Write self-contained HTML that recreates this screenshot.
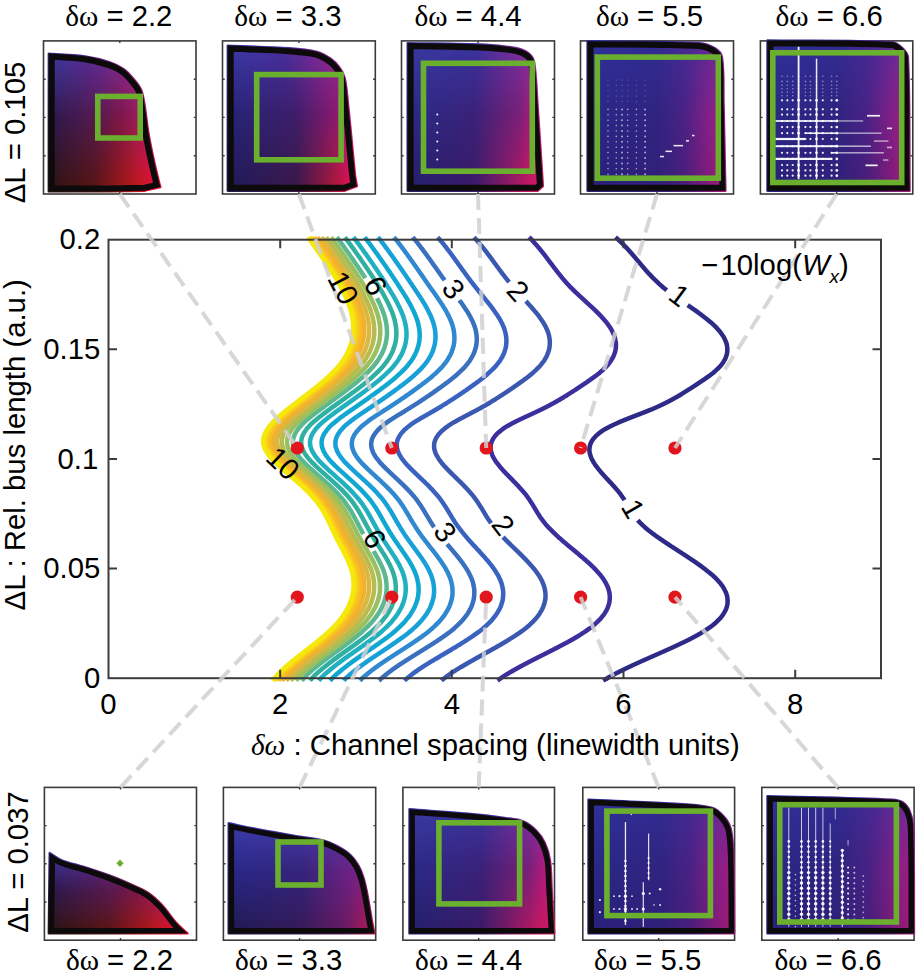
<!DOCTYPE html>
<html><head><meta charset="utf-8"><style>
html,body{margin:0;padding:0;background:#fff;width:916px;height:979px;overflow:hidden}
svg{display:block}
text{font-family:"Liberation Sans",sans-serif;font-size:29.3px;fill:#000}
</style></head><body>
<svg width="916" height="979" viewBox="0 0 916 979">
<defs><linearGradient id="g0top" gradientUnits="userSpaceOnUse" x1="48.7" y1="0" x2="160.5" y2="0"><stop offset="0.00" stop-color="#3a3aa0"/><stop offset="0.37" stop-color="#5a2c98"/><stop offset="0.73" stop-color="#8a2a9a"/><stop offset="1.00" stop-color="#9a2a9a"/></linearGradient><linearGradient id="g0mid" gradientUnits="userSpaceOnUse" x1="48.7" y1="0" x2="160.5" y2="0"><stop offset="0.00" stop-color="#2a1a50"/><stop offset="0.46" stop-color="#5a1a50"/><stop offset="0.63" stop-color="#7a1848"/><stop offset="0.82" stop-color="#a01a60"/><stop offset="1.00" stop-color="#c01a70"/></linearGradient><linearGradient id="g0bot" gradientUnits="userSpaceOnUse" x1="48.7" y1="0" x2="160.5" y2="0"><stop offset="0.00" stop-color="#2a1410"/><stop offset="0.42" stop-color="#5a1410"/><stop offset="0.78" stop-color="#c01818"/><stop offset="0.91" stop-color="#e01030"/><stop offset="1.00" stop-color="#e81030"/></linearGradient><linearGradient id="g0am" gradientUnits="userSpaceOnUse" x1="0" y1="53.5" x2="0" y2="191.5"><stop offset="0.450" stop-color="#fff"/><stop offset="1" stop-color="#000"/></linearGradient><linearGradient id="g0at" gradientUnits="userSpaceOnUse" x1="0" y1="53.5" x2="0" y2="191.5"><stop offset="0" stop-color="#fff"/><stop offset="0.450" stop-color="#000"/></linearGradient><mask id="g0mm" maskUnits="userSpaceOnUse" x="0" y="0" width="916" height="979"><rect x="45.7" y="50.5" width="117.8" height="144.0" fill="url(#g0am)"/></mask><mask id="g0mt" maskUnits="userSpaceOnUse" x="0" y="0" width="916" height="979"><rect x="45.7" y="50.5" width="117.8" height="144.0" fill="url(#g0at)"/></mask><clipPath id="c0"><path d="M48.7 53.5 C60.4 54.4 72.2 54.5 83.7 56.1 C92.6 57.4 101.4 59.4 109.9 62.2 C114.8 63.8 119.6 66.2 123.8 69.2 C127.8 72.0 131.1 75.9 134.3 79.7 C137.0 82.9 139.8 86.3 141.3 90.1 C143.3 95.0 143.9 100.6 144.8 105.9 C146.2 114.6 146.9 123.3 148.3 132.0 C149.8 140.8 151.6 149.6 153.5 158.3 C155.1 165.9 157.0 173.5 158.8 181.0 C159.3 183.1 159.9 185.1 160.5 187.1 L144.8 190.8 L109.9 191.5 L48.7 191.5Z"/></clipPath><mask id="fm0" maskUnits="userSpaceOnUse" x="0" y="0" width="916" height="979"><path d="M48.7 53.5 C60.4 54.4 72.2 54.5 83.7 56.1 C92.6 57.4 101.4 59.4 109.9 62.2 C114.8 63.8 119.6 66.2 123.8 69.2 C127.8 72.0 131.1 75.9 134.3 79.7 C137.0 82.9 139.8 86.3 141.3 90.1 C143.3 95.0 143.9 100.6 144.8 105.9 C146.2 114.6 146.9 123.3 148.3 132.0 C149.8 140.8 151.6 149.6 153.5 158.3 C155.1 165.9 157.0 173.5 158.8 181.0 C159.3 183.1 159.9 185.1 160.5 187.1 L144.8 190.8 L109.9 191.5 L48.7 191.5Z" fill="#fff" stroke="#fff" stroke-width="2.2" stroke-linejoin="round"/></mask><linearGradient id="g1top" gradientUnits="userSpaceOnUse" x1="227.7" y1="0" x2="357.0" y2="0"><stop offset="0.00" stop-color="#3a3aa8"/><stop offset="0.44" stop-color="#4a30a0"/><stop offset="0.78" stop-color="#8a2a9a"/><stop offset="1.00" stop-color="#9a2a9a"/></linearGradient><linearGradient id="g1mid" gradientUnits="userSpaceOnUse" x1="227.7" y1="0" x2="357.0" y2="0"><stop offset="0.00" stop-color="#262478"/><stop offset="0.53" stop-color="#3e1e6a"/><stop offset="0.84" stop-color="#8a1a70"/><stop offset="0.93" stop-color="#b01a80"/><stop offset="1.00" stop-color="#c01a80"/></linearGradient><linearGradient id="g1bot" gradientUnits="userSpaceOnUse" x1="227.7" y1="0" x2="357.0" y2="0"><stop offset="0.00" stop-color="#201a58"/><stop offset="0.53" stop-color="#3a1848"/><stop offset="0.84" stop-color="#b01838"/><stop offset="0.93" stop-color="#e01050"/><stop offset="1.00" stop-color="#e01050"/></linearGradient><linearGradient id="g1am" gradientUnits="userSpaceOnUse" x1="0" y1="45.6" x2="0" y2="190.8"><stop offset="0.470" stop-color="#fff"/><stop offset="1" stop-color="#000"/></linearGradient><linearGradient id="g1at" gradientUnits="userSpaceOnUse" x1="0" y1="45.6" x2="0" y2="190.8"><stop offset="0" stop-color="#fff"/><stop offset="0.470" stop-color="#000"/></linearGradient><mask id="g1mm" maskUnits="userSpaceOnUse" x="0" y="0" width="916" height="979"><rect x="224.7" y="42.6" width="135.3" height="151.2" fill="url(#g1am)"/></mask><mask id="g1mt" maskUnits="userSpaceOnUse" x="0" y="0" width="916" height="979"><rect x="224.7" y="42.6" width="135.3" height="151.2" fill="url(#g1at)"/></mask><clipPath id="c1"><path d="M227.7 45.6 C248.1 46.5 268.5 46.8 288.9 48.2 C298.2 48.8 307.8 49.5 316.8 51.7 C321.8 53.0 326.6 55.8 330.8 58.7 C334.1 61.0 337.1 64.1 339.5 67.4 C341.8 70.5 343.9 74.1 344.8 77.9 C346.9 87.0 347.3 96.6 348.3 105.9 C349.6 117.5 350.6 129.2 351.8 140.8 C352.9 152.4 353.9 164.1 355.2 175.7 C355.6 179.2 356.4 182.7 357.0 186.2 L344.8 190.8 L227.7 190.8Z"/></clipPath><mask id="fm1" maskUnits="userSpaceOnUse" x="0" y="0" width="916" height="979"><path d="M227.7 45.6 C248.1 46.5 268.5 46.8 288.9 48.2 C298.2 48.8 307.8 49.5 316.8 51.7 C321.8 53.0 326.6 55.8 330.8 58.7 C334.1 61.0 337.1 64.1 339.5 67.4 C341.8 70.5 343.9 74.1 344.8 77.9 C346.9 87.0 347.3 96.6 348.3 105.9 C349.6 117.5 350.6 129.2 351.8 140.8 C352.9 152.4 353.9 164.1 355.2 175.7 C355.6 179.2 356.4 182.7 357.0 186.2 L344.8 190.8 L227.7 190.8Z" fill="#fff" stroke="#fff" stroke-width="2.2" stroke-linejoin="round"/></mask><linearGradient id="g2top" gradientUnits="userSpaceOnUse" x1="407.6" y1="0" x2="543.0" y2="0"><stop offset="0.00" stop-color="#3a3aa0"/><stop offset="0.49" stop-color="#3a34a0"/><stop offset="0.83" stop-color="#7a30a0"/><stop offset="1.00" stop-color="#8a2ea0"/></linearGradient><linearGradient id="g2mid" gradientUnits="userSpaceOnUse" x1="407.6" y1="0" x2="543.0" y2="0"><stop offset="0.00" stop-color="#2a2a88"/><stop offset="0.49" stop-color="#3a2278"/><stop offset="0.83" stop-color="#7a2078"/><stop offset="0.93" stop-color="#b01a80"/><stop offset="1.00" stop-color="#c01a80"/></linearGradient><linearGradient id="g2bot" gradientUnits="userSpaceOnUse" x1="407.6" y1="0" x2="543.0" y2="0"><stop offset="0.00" stop-color="#24206a"/><stop offset="0.49" stop-color="#3a1a68"/><stop offset="0.88" stop-color="#c01860"/><stop offset="1.00" stop-color="#d81860"/></linearGradient><linearGradient id="g2am" gradientUnits="userSpaceOnUse" x1="0" y1="43.0" x2="0" y2="190.8"><stop offset="0.480" stop-color="#fff"/><stop offset="1" stop-color="#000"/></linearGradient><linearGradient id="g2at" gradientUnits="userSpaceOnUse" x1="0" y1="43.0" x2="0" y2="190.8"><stop offset="0" stop-color="#fff"/><stop offset="0.480" stop-color="#000"/></linearGradient><mask id="g2mm" maskUnits="userSpaceOnUse" x="0" y="0" width="916" height="979"><rect x="404.6" y="40.0" width="141.4" height="153.8" fill="url(#g2am)"/></mask><mask id="g2mt" maskUnits="userSpaceOnUse" x="0" y="0" width="916" height="979"><rect x="404.6" y="40.0" width="141.4" height="153.8" fill="url(#g2at)"/></mask><clipPath id="c2"><path d="M407.6 43.0 C433.5 43.6 459.4 43.5 485.3 44.7 C495.8 45.2 506.5 46.1 516.8 48.2 C521.1 49.1 525.7 50.9 529.0 53.5 C531.5 55.5 533.7 58.9 534.2 62.2 C536.6 76.4 536.6 91.3 537.7 105.9 C539.0 123.4 540.0 140.8 541.2 158.3 C541.8 167.6 542.4 176.9 543.0 186.2 L537.7 190.8 L407.6 190.8Z"/></clipPath><mask id="fm2" maskUnits="userSpaceOnUse" x="0" y="0" width="916" height="979"><path d="M407.6 43.0 C433.5 43.6 459.4 43.5 485.3 44.7 C495.8 45.2 506.5 46.1 516.8 48.2 C521.1 49.1 525.7 50.9 529.0 53.5 C531.5 55.5 533.7 58.9 534.2 62.2 C536.6 76.4 536.6 91.3 537.7 105.9 C539.0 123.4 540.0 140.8 541.2 158.3 C541.8 167.6 542.4 176.9 543.0 186.2 L537.7 190.8 L407.6 190.8Z" fill="#fff" stroke="#fff" stroke-width="2.2" stroke-linejoin="round"/></mask><linearGradient id="g3top" gradientUnits="userSpaceOnUse" x1="587.5" y1="0" x2="725.5" y2="0"><stop offset="0.00" stop-color="#30309a"/><stop offset="0.50" stop-color="#322c92"/><stop offset="0.75" stop-color="#4a2a94"/><stop offset="1.00" stop-color="#7a2a9a"/></linearGradient><linearGradient id="g3mid" gradientUnits="userSpaceOnUse" x1="587.5" y1="0" x2="725.5" y2="0"><stop offset="0.00" stop-color="#2a2888"/><stop offset="0.50" stop-color="#302480"/><stop offset="0.70" stop-color="#4a2284"/><stop offset="0.90" stop-color="#8a2088"/><stop offset="1.00" stop-color="#a01a80"/></linearGradient><linearGradient id="g3bot" gradientUnits="userSpaceOnUse" x1="587.5" y1="0" x2="725.5" y2="0"><stop offset="0.00" stop-color="#28207a"/><stop offset="0.50" stop-color="#30207a"/><stop offset="0.70" stop-color="#4a1e7a"/><stop offset="0.90" stop-color="#8a1a78"/><stop offset="1.00" stop-color="#a81a78"/></linearGradient><linearGradient id="g3am" gradientUnits="userSpaceOnUse" x1="0" y1="41.2" x2="0" y2="190.8"><stop offset="0.500" stop-color="#fff"/><stop offset="1" stop-color="#000"/></linearGradient><linearGradient id="g3at" gradientUnits="userSpaceOnUse" x1="0" y1="41.2" x2="0" y2="190.8"><stop offset="0" stop-color="#fff"/><stop offset="0.500" stop-color="#000"/></linearGradient><mask id="g3mm" maskUnits="userSpaceOnUse" x="0" y="0" width="916" height="979"><rect x="584.5" y="38.2" width="144.0" height="155.6" fill="url(#g3am)"/></mask><mask id="g3mt" maskUnits="userSpaceOnUse" x="0" y="0" width="916" height="979"><rect x="584.5" y="38.2" width="144.0" height="155.6" fill="url(#g3at)"/></mask><clipPath id="c3"><path d="M587.5 41.2 C624.8 41.8 662.3 41.0 699.3 43.0 C704.8 43.3 710.5 45.4 715.0 48.2 C718.1 50.1 721.5 53.4 722.0 57.0 C724.4 72.6 723.1 89.6 723.7 105.9 L725.5 190.8 L587.5 190.8Z"/></clipPath><mask id="fm3" maskUnits="userSpaceOnUse" x="0" y="0" width="916" height="979"><path d="M587.5 41.2 C624.8 41.8 662.3 41.0 699.3 43.0 C704.8 43.3 710.5 45.4 715.0 48.2 C718.1 50.1 721.5 53.4 722.0 57.0 C724.4 72.6 723.1 89.6 723.7 105.9 L725.5 190.8 L587.5 190.8Z" fill="#fff" stroke="#fff" stroke-width="2.2" stroke-linejoin="round"/></mask><linearGradient id="g4top" gradientUnits="userSpaceOnUse" x1="767.4" y1="0" x2="909.7" y2="0"><stop offset="0.00" stop-color="#30309a"/><stop offset="0.50" stop-color="#322c92"/><stop offset="0.75" stop-color="#4a2a94"/><stop offset="1.00" stop-color="#7a2a9a"/></linearGradient><linearGradient id="g4mid" gradientUnits="userSpaceOnUse" x1="767.4" y1="0" x2="909.7" y2="0"><stop offset="0.00" stop-color="#2a2888"/><stop offset="0.50" stop-color="#302480"/><stop offset="0.70" stop-color="#4a2284"/><stop offset="0.90" stop-color="#8a2088"/><stop offset="1.00" stop-color="#a01a80"/></linearGradient><linearGradient id="g4bot" gradientUnits="userSpaceOnUse" x1="767.4" y1="0" x2="909.7" y2="0"><stop offset="0.00" stop-color="#28207a"/><stop offset="0.50" stop-color="#30207a"/><stop offset="0.70" stop-color="#4a1e7a"/><stop offset="0.90" stop-color="#8a1a78"/><stop offset="1.00" stop-color="#a81a78"/></linearGradient><linearGradient id="g4am" gradientUnits="userSpaceOnUse" x1="0" y1="40.4" x2="0" y2="190.8"><stop offset="0.500" stop-color="#fff"/><stop offset="1" stop-color="#000"/></linearGradient><linearGradient id="g4at" gradientUnits="userSpaceOnUse" x1="0" y1="40.4" x2="0" y2="190.8"><stop offset="0" stop-color="#fff"/><stop offset="0.500" stop-color="#000"/></linearGradient><mask id="g4mm" maskUnits="userSpaceOnUse" x="0" y="0" width="916" height="979"><rect x="764.4" y="37.4" width="148.3" height="156.4" fill="url(#g4am)"/></mask><mask id="g4mt" maskUnits="userSpaceOnUse" x="0" y="0" width="916" height="979"><rect x="764.4" y="37.4" width="148.3" height="156.4" fill="url(#g4at)"/></mask><clipPath id="c4"><path d="M767.4 40.4 C809.0 41.0 851.1 39.7 892.2 42.1 C896.2 42.3 899.8 45.5 902.7 48.2 C905.1 50.5 907.8 53.6 908.0 57.0 C910.2 101.1 909.1 146.2 909.7 190.8 L767.4 190.8Z"/></clipPath><mask id="fm4" maskUnits="userSpaceOnUse" x="0" y="0" width="916" height="979"><path d="M767.4 40.4 C809.0 41.0 851.1 39.7 892.2 42.1 C896.2 42.3 899.8 45.5 902.7 48.2 C905.1 50.5 907.8 53.6 908.0 57.0 C910.2 101.1 909.1 146.2 909.7 190.8 L767.4 190.8Z" fill="#fff" stroke="#fff" stroke-width="2.2" stroke-linejoin="round"/></mask><linearGradient id="g5top" gradientUnits="userSpaceOnUse" x1="48.7" y1="0" x2="187.6" y2="0"><stop offset="0.00" stop-color="#3a3aa0"/><stop offset="0.37" stop-color="#5a2c98"/><stop offset="0.73" stop-color="#8a2a9a"/><stop offset="1.00" stop-color="#9a2a9a"/></linearGradient><linearGradient id="g5mid" gradientUnits="userSpaceOnUse" x1="48.7" y1="0" x2="187.6" y2="0"><stop offset="0.00" stop-color="#2a1a50"/><stop offset="0.46" stop-color="#5a1a50"/><stop offset="0.63" stop-color="#7a1848"/><stop offset="0.82" stop-color="#a01a60"/><stop offset="1.00" stop-color="#c01a70"/></linearGradient><linearGradient id="g5bot" gradientUnits="userSpaceOnUse" x1="48.7" y1="0" x2="187.6" y2="0"><stop offset="0.00" stop-color="#2a1410"/><stop offset="0.42" stop-color="#5a1410"/><stop offset="0.78" stop-color="#c01818"/><stop offset="0.91" stop-color="#e01030"/><stop offset="1.00" stop-color="#e81030"/></linearGradient><linearGradient id="g5am" gradientUnits="userSpaceOnUse" x1="0" y1="852.9" x2="0" y2="933.4"><stop offset="0.450" stop-color="#fff"/><stop offset="1" stop-color="#000"/></linearGradient><linearGradient id="g5at" gradientUnits="userSpaceOnUse" x1="0" y1="852.9" x2="0" y2="933.4"><stop offset="0" stop-color="#fff"/><stop offset="0.450" stop-color="#000"/></linearGradient><mask id="g5mm" maskUnits="userSpaceOnUse" x="0" y="0" width="916" height="979"><rect x="45.7" y="849.9" width="144.9" height="86.5" fill="url(#g5am)"/></mask><mask id="g5mt" maskUnits="userSpaceOnUse" x="0" y="0" width="916" height="979"><rect x="45.7" y="849.9" width="144.9" height="86.5" fill="url(#g5at)"/></mask><clipPath id="c5"><path d="M49.6 852.9 C53.4 855.2 56.9 858.2 61.0 859.9 C68.3 862.9 76.2 864.4 83.7 866.8 C92.5 869.6 101.3 872.4 109.9 875.6 C117.0 878.2 123.9 881.2 130.8 884.3 C136.7 887.0 142.9 889.4 148.3 893.0 C153.4 896.4 158.1 900.8 162.3 905.3 C167.4 910.7 171.2 917.2 176.2 922.7 C179.7 926.6 183.8 929.8 187.6 933.4 L48.7 933.4Z"/></clipPath><mask id="fm5" maskUnits="userSpaceOnUse" x="0" y="0" width="916" height="979"><path d="M49.6 852.9 C53.4 855.2 56.9 858.2 61.0 859.9 C68.3 862.9 76.2 864.4 83.7 866.8 C92.5 869.6 101.3 872.4 109.9 875.6 C117.0 878.2 123.9 881.2 130.8 884.3 C136.7 887.0 142.9 889.4 148.3 893.0 C153.4 896.4 158.1 900.8 162.3 905.3 C167.4 910.7 171.2 917.2 176.2 922.7 C179.7 926.6 183.8 929.8 187.6 933.4 L48.7 933.4Z" fill="#fff" stroke="#fff" stroke-width="2.2" stroke-linejoin="round"/></mask><linearGradient id="g6top" gradientUnits="userSpaceOnUse" x1="228.6" y1="0" x2="374.5" y2="0"><stop offset="0.00" stop-color="#3a3aa8"/><stop offset="0.60" stop-color="#4a3aa8"/><stop offset="1.00" stop-color="#6a30a0"/></linearGradient><linearGradient id="g6mid" gradientUnits="userSpaceOnUse" x1="228.6" y1="0" x2="374.5" y2="0"><stop offset="0.00" stop-color="#282888"/><stop offset="0.50" stop-color="#34247a"/><stop offset="1.00" stop-color="#8a2088"/></linearGradient><linearGradient id="g6bot" gradientUnits="userSpaceOnUse" x1="228.6" y1="0" x2="374.5" y2="0"><stop offset="0.00" stop-color="#1e1a50"/><stop offset="0.50" stop-color="#361a58"/><stop offset="0.80" stop-color="#6a1a60"/><stop offset="1.00" stop-color="#c01850"/></linearGradient><linearGradient id="g6am" gradientUnits="userSpaceOnUse" x1="0" y1="823.2" x2="0" y2="933.4"><stop offset="0.450" stop-color="#fff"/><stop offset="1" stop-color="#000"/></linearGradient><linearGradient id="g6at" gradientUnits="userSpaceOnUse" x1="0" y1="823.2" x2="0" y2="933.4"><stop offset="0" stop-color="#fff"/><stop offset="0.450" stop-color="#000"/></linearGradient><mask id="g6mm" maskUnits="userSpaceOnUse" x="0" y="0" width="916" height="979"><rect x="225.6" y="820.2" width="151.9" height="116.2" fill="url(#g6am)"/></mask><mask id="g6mt" maskUnits="userSpaceOnUse" x="0" y="0" width="916" height="979"><rect x="225.6" y="820.2" width="151.9" height="116.2" fill="url(#g6at)"/></mask><clipPath id="c6"><path d="M228.6 823.2 C237.0 824.9 245.4 826.8 253.9 828.4 C268.4 831.2 283.0 833.8 297.6 836.3 C306.3 837.8 315.3 838.4 323.8 840.6 C328.7 841.8 333.5 844.1 338.0 846.5 C342.4 848.9 346.9 851.6 350.5 855.0 C353.7 858.0 356.3 861.7 358.5 865.5 C360.7 869.2 362.2 873.4 363.5 877.5 C364.9 881.9 365.8 886.5 366.8 891.0 C367.8 896.0 368.6 901.0 369.5 906.0 C370.3 910.7 371.0 915.3 371.8 920.0 C372.6 924.5 373.6 928.9 374.5 933.4 L228.6 933.4Z"/></clipPath><mask id="fm6" maskUnits="userSpaceOnUse" x="0" y="0" width="916" height="979"><path d="M228.6 823.2 C237.0 824.9 245.4 826.8 253.9 828.4 C268.4 831.2 283.0 833.8 297.6 836.3 C306.3 837.8 315.3 838.4 323.8 840.6 C328.7 841.8 333.5 844.1 338.0 846.5 C342.4 848.9 346.9 851.6 350.5 855.0 C353.7 858.0 356.3 861.7 358.5 865.5 C360.7 869.2 362.2 873.4 363.5 877.5 C364.9 881.9 365.8 886.5 366.8 891.0 C367.8 896.0 368.6 901.0 369.5 906.0 C370.3 910.7 371.0 915.3 371.8 920.0 C372.6 924.5 373.6 928.9 374.5 933.4 L228.6 933.4Z" fill="#fff" stroke="#fff" stroke-width="2.2" stroke-linejoin="round"/></mask><linearGradient id="g7top" gradientUnits="userSpaceOnUse" x1="409.4" y1="0" x2="554.3" y2="0"><stop offset="0.00" stop-color="#3a3aa0"/><stop offset="0.49" stop-color="#3a34a0"/><stop offset="0.83" stop-color="#7a30a0"/><stop offset="1.00" stop-color="#8a2ea0"/></linearGradient><linearGradient id="g7mid" gradientUnits="userSpaceOnUse" x1="409.4" y1="0" x2="554.3" y2="0"><stop offset="0.00" stop-color="#2a2a88"/><stop offset="0.49" stop-color="#3a2278"/><stop offset="0.83" stop-color="#7a2078"/><stop offset="0.93" stop-color="#b01a80"/><stop offset="1.00" stop-color="#c01a80"/></linearGradient><linearGradient id="g7bot" gradientUnits="userSpaceOnUse" x1="409.4" y1="0" x2="554.3" y2="0"><stop offset="0.00" stop-color="#24206a"/><stop offset="0.49" stop-color="#3a1a68"/><stop offset="0.88" stop-color="#c01860"/><stop offset="1.00" stop-color="#d81860"/></linearGradient><linearGradient id="g7am" gradientUnits="userSpaceOnUse" x1="0" y1="809.2" x2="0" y2="933.4"><stop offset="0.480" stop-color="#fff"/><stop offset="1" stop-color="#000"/></linearGradient><linearGradient id="g7at" gradientUnits="userSpaceOnUse" x1="0" y1="809.2" x2="0" y2="933.4"><stop offset="0" stop-color="#fff"/><stop offset="0.480" stop-color="#000"/></linearGradient><mask id="g7mm" maskUnits="userSpaceOnUse" x="0" y="0" width="916" height="979"><rect x="406.4" y="806.2" width="150.9" height="130.2" fill="url(#g7am)"/></mask><mask id="g7mt" maskUnits="userSpaceOnUse" x="0" y="0" width="916" height="979"><rect x="406.4" y="806.2" width="150.9" height="130.2" fill="url(#g7at)"/></mask><clipPath id="c7"><path d="M409.4 809.2 C428.9 810.7 448.4 811.8 467.9 813.6 C480.7 814.8 493.5 816.2 506.3 818.0 C512.2 818.8 518.4 819.2 523.8 821.4 C528.3 823.3 532.5 826.7 536.0 830.2 C539.5 833.7 542.6 837.9 544.7 842.4 C547.3 847.8 549.1 853.9 550.0 859.9 C551.4 869.0 551.2 878.5 551.7 887.8 C552.6 903.0 553.4 918.2 554.3 933.4 L409.4 933.4Z"/></clipPath><mask id="fm7" maskUnits="userSpaceOnUse" x="0" y="0" width="916" height="979"><path d="M409.4 809.2 C428.9 810.7 448.4 811.8 467.9 813.6 C480.7 814.8 493.5 816.2 506.3 818.0 C512.2 818.8 518.4 819.2 523.8 821.4 C528.3 823.3 532.5 826.7 536.0 830.2 C539.5 833.7 542.6 837.9 544.7 842.4 C547.3 847.8 549.1 853.9 550.0 859.9 C551.4 869.0 551.2 878.5 551.7 887.8 C552.6 903.0 553.4 918.2 554.3 933.4 L409.4 933.4Z" fill="#fff" stroke="#fff" stroke-width="2.2" stroke-linejoin="round"/></mask><linearGradient id="g8top" gradientUnits="userSpaceOnUse" x1="588.4" y1="0" x2="734.2" y2="0"><stop offset="0.00" stop-color="#30309a"/><stop offset="0.50" stop-color="#322c92"/><stop offset="0.75" stop-color="#4a2a94"/><stop offset="1.00" stop-color="#7a2a9a"/></linearGradient><linearGradient id="g8mid" gradientUnits="userSpaceOnUse" x1="588.4" y1="0" x2="734.2" y2="0"><stop offset="0.00" stop-color="#2a2888"/><stop offset="0.50" stop-color="#302480"/><stop offset="0.70" stop-color="#4a2284"/><stop offset="0.90" stop-color="#8a2088"/><stop offset="1.00" stop-color="#a01a80"/></linearGradient><linearGradient id="g8bot" gradientUnits="userSpaceOnUse" x1="588.4" y1="0" x2="734.2" y2="0"><stop offset="0.00" stop-color="#28207a"/><stop offset="0.50" stop-color="#30207a"/><stop offset="0.70" stop-color="#4a1e7a"/><stop offset="0.90" stop-color="#8a1a78"/><stop offset="1.00" stop-color="#a81a78"/></linearGradient><linearGradient id="g8am" gradientUnits="userSpaceOnUse" x1="0" y1="799.6" x2="0" y2="933.4"><stop offset="0.500" stop-color="#fff"/><stop offset="1" stop-color="#000"/></linearGradient><linearGradient id="g8at" gradientUnits="userSpaceOnUse" x1="0" y1="799.6" x2="0" y2="933.4"><stop offset="0" stop-color="#fff"/><stop offset="0.500" stop-color="#000"/></linearGradient><mask id="g8mm" maskUnits="userSpaceOnUse" x="0" y="0" width="916" height="979"><rect x="585.4" y="796.6" width="151.8" height="139.8" fill="url(#g8am)"/></mask><mask id="g8mt" maskUnits="userSpaceOnUse" x="0" y="0" width="916" height="979"><rect x="585.4" y="796.6" width="151.8" height="139.8" fill="url(#g8at)"/></mask><clipPath id="c8"><path d="M588.4 799.6 C613.7 800.8 639.0 801.5 664.3 803.1 C680.1 804.1 696.5 804.2 711.5 807.5 C716.3 808.5 720.4 812.6 723.7 816.2 C726.8 819.6 729.5 824.0 730.7 828.4 C732.7 836.2 733.0 844.7 733.3 852.9 C734.2 879.7 733.9 906.6 734.2 933.4 L588.4 933.4Z"/></clipPath><mask id="fm8" maskUnits="userSpaceOnUse" x="0" y="0" width="916" height="979"><path d="M588.4 799.6 C613.7 800.8 639.0 801.5 664.3 803.1 C680.1 804.1 696.5 804.2 711.5 807.5 C716.3 808.5 720.4 812.6 723.7 816.2 C726.8 819.6 729.5 824.0 730.7 828.4 C732.7 836.2 733.0 844.7 733.3 852.9 C734.2 879.7 733.9 906.6 734.2 933.4 L588.4 933.4Z" fill="#fff" stroke="#fff" stroke-width="2.2" stroke-linejoin="round"/></mask><linearGradient id="g9top" gradientUnits="userSpaceOnUse" x1="767.4" y1="0" x2="914.1" y2="0"><stop offset="0.00" stop-color="#30309a"/><stop offset="0.50" stop-color="#322c92"/><stop offset="0.75" stop-color="#4a2a94"/><stop offset="1.00" stop-color="#7a2a9a"/></linearGradient><linearGradient id="g9mid" gradientUnits="userSpaceOnUse" x1="767.4" y1="0" x2="914.1" y2="0"><stop offset="0.00" stop-color="#2a2888"/><stop offset="0.50" stop-color="#302480"/><stop offset="0.70" stop-color="#4a2284"/><stop offset="0.90" stop-color="#8a2088"/><stop offset="1.00" stop-color="#a01a80"/></linearGradient><linearGradient id="g9bot" gradientUnits="userSpaceOnUse" x1="767.4" y1="0" x2="914.1" y2="0"><stop offset="0.00" stop-color="#28207a"/><stop offset="0.50" stop-color="#30207a"/><stop offset="0.70" stop-color="#4a1e7a"/><stop offset="0.90" stop-color="#8a1a78"/><stop offset="1.00" stop-color="#a81a78"/></linearGradient><linearGradient id="g9am" gradientUnits="userSpaceOnUse" x1="0" y1="796.1" x2="0" y2="933.4"><stop offset="0.500" stop-color="#fff"/><stop offset="1" stop-color="#000"/></linearGradient><linearGradient id="g9at" gradientUnits="userSpaceOnUse" x1="0" y1="796.1" x2="0" y2="933.4"><stop offset="0" stop-color="#fff"/><stop offset="0.500" stop-color="#000"/></linearGradient><mask id="g9mm" maskUnits="userSpaceOnUse" x="0" y="0" width="916" height="979"><rect x="764.4" y="793.1" width="152.7" height="143.3" fill="url(#g9am)"/></mask><mask id="g9mt" maskUnits="userSpaceOnUse" x="0" y="0" width="916" height="979"><rect x="764.4" y="793.1" width="152.7" height="143.3" fill="url(#g9at)"/></mask><clipPath id="c9"><path d="M767.4 796.1 C809.0 797.3 850.7 797.7 892.2 799.6 C895.8 799.8 899.8 800.3 902.7 802.2 C905.7 804.1 908.3 807.6 909.7 811.0 C911.8 815.8 913.0 821.4 913.2 826.7 C914.5 862.2 913.8 897.8 914.1 933.4 L767.4 933.4Z"/></clipPath><mask id="fm9" maskUnits="userSpaceOnUse" x="0" y="0" width="916" height="979"><path d="M767.4 796.1 C809.0 797.3 850.7 797.7 892.2 799.6 C895.8 799.8 899.8 800.3 902.7 802.2 C905.7 804.1 908.3 807.6 909.7 811.0 C911.8 815.8 913.0 821.4 913.2 826.7 C914.5 862.2 913.8 897.8 914.1 933.4 L767.4 933.4Z" fill="#fff" stroke="#fff" stroke-width="2.2" stroke-linejoin="round"/></mask></defs>
<g><rect x="43.5" y="40.9" width="152.5" height="153.1" fill="#fff" stroke="#3a3a3a" stroke-width="1.6"/><path d="M43.5 79.2h2.2M196.0 79.2h-2.2" stroke="#3a3a3a" stroke-width="1.4"/><path d="M43.5 117.4h2.2M196.0 117.4h-2.2" stroke="#3a3a3a" stroke-width="1.4"/><path d="M43.5 155.7h2.2M196.0 155.7h-2.2" stroke="#3a3a3a" stroke-width="1.4"/><path d="M119.8 40.9v2.2M119.8 194.0v-2.2" stroke="#3a3a3a" stroke-width="1.4"/><g mask="url(#fm0)"><rect x="45.7" y="50.5" width="117.8" height="144.0" fill="url(#g0bot)"/><rect x="45.7" y="50.5" width="117.8" height="144.0" fill="url(#g0mid)" mask="url(#g0mm)"/><rect x="45.7" y="50.5" width="117.8" height="144.0" fill="url(#g0top)" mask="url(#g0mt)"/></g><g clip-path="url(#c0)"><rect x="45.7" y="50.5" width="117.8" height="144.0" fill="url(#g0bot)"/><rect x="45.7" y="50.5" width="117.8" height="144.0" fill="url(#g0mid)" mask="url(#g0mm)"/><rect x="45.7" y="50.5" width="117.8" height="144.0" fill="url(#g0top)" mask="url(#g0mt)"/><path d="M48.7 53.5 C60.4 54.4 72.2 54.5 83.7 56.1 C92.6 57.4 101.4 59.4 109.9 62.2 C114.8 63.8 119.6 66.2 123.8 69.2 C127.8 72.0 131.1 75.9 134.3 79.7 C137.0 82.9 139.8 86.3 141.3 90.1 C143.3 95.0 143.9 100.6 144.8 105.9 C146.2 114.6 146.9 123.3 148.3 132.0 C149.8 140.8 151.6 149.6 153.5 158.3 C155.1 165.9 157.0 173.5 158.8 181.0 C159.3 183.1 159.9 185.1 160.5 187.1 L144.8 190.8 L109.9 191.5 L48.7 191.5Z" fill="none" stroke="#0c0a0a" stroke-width="12.0"/></g><rect x="97.8" y="96.4" width="42.4" height="41.6" fill="none" stroke="#6ab02e" stroke-width="5.6"/></g>
<g><rect x="222.5" y="40.9" width="152.8" height="153.1" fill="#fff" stroke="#3a3a3a" stroke-width="1.6"/><path d="M222.5 79.2h2.2M375.3 79.2h-2.2" stroke="#3a3a3a" stroke-width="1.4"/><path d="M222.5 117.4h2.2M375.3 117.4h-2.2" stroke="#3a3a3a" stroke-width="1.4"/><path d="M222.5 155.7h2.2M375.3 155.7h-2.2" stroke="#3a3a3a" stroke-width="1.4"/><path d="M298.9 40.9v2.2M298.9 194.0v-2.2" stroke="#3a3a3a" stroke-width="1.4"/><g mask="url(#fm1)"><rect x="224.7" y="42.6" width="135.3" height="151.2" fill="url(#g1bot)"/><rect x="224.7" y="42.6" width="135.3" height="151.2" fill="url(#g1mid)" mask="url(#g1mm)"/><rect x="224.7" y="42.6" width="135.3" height="151.2" fill="url(#g1top)" mask="url(#g1mt)"/></g><g clip-path="url(#c1)"><rect x="224.7" y="42.6" width="135.3" height="151.2" fill="url(#g1bot)"/><rect x="224.7" y="42.6" width="135.3" height="151.2" fill="url(#g1mid)" mask="url(#g1mm)"/><rect x="224.7" y="42.6" width="135.3" height="151.2" fill="url(#g1top)" mask="url(#g1mt)"/><path d="M227.7 45.6 C248.1 46.5 268.5 46.8 288.9 48.2 C298.2 48.8 307.8 49.5 316.8 51.7 C321.8 53.0 326.6 55.8 330.8 58.7 C334.1 61.0 337.1 64.1 339.5 67.4 C341.8 70.5 343.9 74.1 344.8 77.9 C346.9 87.0 347.3 96.6 348.3 105.9 C349.6 117.5 350.6 129.2 351.8 140.8 C352.9 152.4 353.9 164.1 355.2 175.7 C355.6 179.2 356.4 182.7 357.0 186.2 L344.8 190.8 L227.7 190.8Z" fill="none" stroke="#0c0a0a" stroke-width="12.0"/></g><rect x="256.7" y="74.6" width="84.4" height="85.2" fill="none" stroke="#6ab02e" stroke-width="5.6"/></g>
<g><rect x="401.5" y="40.9" width="153.0" height="153.1" fill="#fff" stroke="#3a3a3a" stroke-width="1.6"/><path d="M401.5 79.2h2.2M554.5 79.2h-2.2" stroke="#3a3a3a" stroke-width="1.4"/><path d="M401.5 117.4h2.2M554.5 117.4h-2.2" stroke="#3a3a3a" stroke-width="1.4"/><path d="M401.5 155.7h2.2M554.5 155.7h-2.2" stroke="#3a3a3a" stroke-width="1.4"/><path d="M478.0 40.9v2.2M478.0 194.0v-2.2" stroke="#3a3a3a" stroke-width="1.4"/><g mask="url(#fm2)"><rect x="404.6" y="40.0" width="141.4" height="153.8" fill="url(#g2bot)"/><rect x="404.6" y="40.0" width="141.4" height="153.8" fill="url(#g2mid)" mask="url(#g2mm)"/><rect x="404.6" y="40.0" width="141.4" height="153.8" fill="url(#g2top)" mask="url(#g2mt)"/></g><g clip-path="url(#c2)"><rect x="404.6" y="40.0" width="141.4" height="153.8" fill="url(#g2bot)"/><rect x="404.6" y="40.0" width="141.4" height="153.8" fill="url(#g2mid)" mask="url(#g2mm)"/><rect x="404.6" y="40.0" width="141.4" height="153.8" fill="url(#g2top)" mask="url(#g2mt)"/><circle cx="437.3" cy="114.6" r="1.0" fill="#fff" opacity="1.00"/><circle cx="437.3" cy="123.6" r="1.0" fill="#fff" opacity="1.00"/><circle cx="437.3" cy="132.6" r="1.0" fill="#fff" opacity="1.00"/><circle cx="437.3" cy="141.6" r="1.0" fill="#fff" opacity="1.00"/><circle cx="437.3" cy="150.6" r="1.0" fill="#fff" opacity="1.00"/><circle cx="437.3" cy="159.6" r="1.0" fill="#fff" opacity="1.00"/><path d="M407.6 43.0 C433.5 43.6 459.4 43.5 485.3 44.7 C495.8 45.2 506.5 46.1 516.8 48.2 C521.1 49.1 525.7 50.9 529.0 53.5 C531.5 55.5 533.7 58.9 534.2 62.2 C536.6 76.4 536.6 91.3 537.7 105.9 C539.0 123.4 540.0 140.8 541.2 158.3 C541.8 167.6 542.4 176.9 543.0 186.2 L537.7 190.8 L407.6 190.8Z" fill="none" stroke="#0c0a0a" stroke-width="12.0"/></g><rect x="423.5" y="63.3" width="108.8" height="107.9" fill="none" stroke="#6ab02e" stroke-width="5.6"/></g>
<g><rect x="580.5" y="40.9" width="153.0" height="153.1" fill="#fff" stroke="#3a3a3a" stroke-width="1.6"/><path d="M580.5 79.2h2.2M733.5 79.2h-2.2" stroke="#3a3a3a" stroke-width="1.4"/><path d="M580.5 117.4h2.2M733.5 117.4h-2.2" stroke="#3a3a3a" stroke-width="1.4"/><path d="M580.5 155.7h2.2M733.5 155.7h-2.2" stroke="#3a3a3a" stroke-width="1.4"/><path d="M657.0 40.9v2.2M657.0 194.0v-2.2" stroke="#3a3a3a" stroke-width="1.4"/><g mask="url(#fm3)"><rect x="584.5" y="38.2" width="144.0" height="155.6" fill="url(#g3bot)"/><rect x="584.5" y="38.2" width="144.0" height="155.6" fill="url(#g3mid)" mask="url(#g3mm)"/><rect x="584.5" y="38.2" width="144.0" height="155.6" fill="url(#g3top)" mask="url(#g3mt)"/></g><g clip-path="url(#c3)"><rect x="584.5" y="38.2" width="144.0" height="155.6" fill="url(#g3bot)"/><rect x="584.5" y="38.2" width="144.0" height="155.6" fill="url(#g3mid)" mask="url(#g3mm)"/><rect x="584.5" y="38.2" width="144.0" height="155.6" fill="url(#g3top)" mask="url(#g3mt)"/><circle cx="608.0" cy="109.4" r="0.8" fill="#fff" opacity="0.60"/><circle cx="608.0" cy="114.8" r="0.8" fill="#fff" opacity="0.60"/><circle cx="608.0" cy="120.2" r="0.8" fill="#fff" opacity="0.60"/><circle cx="608.0" cy="125.6" r="0.8" fill="#fff" opacity="0.60"/><circle cx="608.0" cy="131.0" r="0.8" fill="#fff" opacity="0.60"/><circle cx="608.0" cy="136.4" r="0.8" fill="#fff" opacity="0.60"/><circle cx="608.0" cy="141.8" r="0.8" fill="#fff" opacity="0.60"/><circle cx="608.0" cy="147.2" r="0.8" fill="#fff" opacity="0.60"/><circle cx="608.0" cy="152.6" r="0.8" fill="#fff" opacity="0.60"/><circle cx="608.0" cy="158.0" r="0.8" fill="#fff" opacity="0.60"/><circle cx="608.0" cy="163.4" r="0.8" fill="#fff" opacity="0.60"/><circle cx="608.0" cy="168.8" r="0.8" fill="#fff" opacity="0.60"/><circle cx="608.0" cy="174.2" r="0.8" fill="#fff" opacity="0.60"/><circle cx="608.0" cy="80.0" r="0.6" fill="#fff" opacity="0.30"/><circle cx="608.0" cy="85.4" r="0.6" fill="#fff" opacity="0.30"/><circle cx="608.0" cy="90.8" r="0.6" fill="#fff" opacity="0.30"/><circle cx="608.0" cy="96.2" r="0.6" fill="#fff" opacity="0.30"/><circle cx="608.0" cy="101.6" r="0.6" fill="#fff" opacity="0.30"/><circle cx="616.3" cy="109.4" r="0.8" fill="#fff" opacity="0.60"/><circle cx="616.3" cy="114.8" r="0.8" fill="#fff" opacity="0.60"/><circle cx="616.3" cy="120.2" r="0.8" fill="#fff" opacity="0.60"/><circle cx="616.3" cy="125.6" r="0.8" fill="#fff" opacity="0.60"/><circle cx="616.3" cy="131.0" r="0.8" fill="#fff" opacity="0.60"/><circle cx="616.3" cy="136.4" r="0.8" fill="#fff" opacity="0.60"/><circle cx="616.3" cy="141.8" r="0.8" fill="#fff" opacity="0.60"/><circle cx="616.3" cy="147.2" r="0.8" fill="#fff" opacity="0.60"/><circle cx="616.3" cy="152.6" r="0.8" fill="#fff" opacity="0.60"/><circle cx="616.3" cy="158.0" r="0.8" fill="#fff" opacity="0.60"/><circle cx="616.3" cy="163.4" r="0.8" fill="#fff" opacity="0.60"/><circle cx="616.3" cy="168.8" r="0.8" fill="#fff" opacity="0.60"/><circle cx="616.3" cy="174.2" r="0.8" fill="#fff" opacity="0.60"/><circle cx="616.3" cy="80.0" r="0.6" fill="#fff" opacity="0.30"/><circle cx="616.3" cy="85.4" r="0.6" fill="#fff" opacity="0.30"/><circle cx="616.3" cy="90.8" r="0.6" fill="#fff" opacity="0.30"/><circle cx="616.3" cy="96.2" r="0.6" fill="#fff" opacity="0.30"/><circle cx="616.3" cy="101.6" r="0.6" fill="#fff" opacity="0.30"/><circle cx="622.0" cy="109.4" r="1.0" fill="#fff" opacity="0.60"/><circle cx="622.0" cy="114.8" r="1.0" fill="#fff" opacity="0.60"/><circle cx="622.0" cy="120.2" r="1.0" fill="#fff" opacity="0.60"/><circle cx="622.0" cy="125.6" r="1.0" fill="#fff" opacity="0.60"/><circle cx="622.0" cy="131.0" r="1.0" fill="#fff" opacity="0.60"/><circle cx="622.0" cy="136.4" r="1.0" fill="#fff" opacity="0.60"/><circle cx="622.0" cy="141.8" r="1.0" fill="#fff" opacity="0.60"/><circle cx="622.0" cy="147.2" r="1.0" fill="#fff" opacity="0.60"/><circle cx="622.0" cy="152.6" r="1.0" fill="#fff" opacity="0.60"/><circle cx="622.0" cy="158.0" r="1.0" fill="#fff" opacity="0.60"/><circle cx="622.0" cy="163.4" r="1.0" fill="#fff" opacity="0.60"/><circle cx="622.0" cy="168.8" r="1.0" fill="#fff" opacity="0.60"/><circle cx="622.0" cy="174.2" r="1.0" fill="#fff" opacity="0.60"/><circle cx="622.0" cy="80.0" r="0.6" fill="#fff" opacity="0.30"/><circle cx="622.0" cy="85.4" r="0.6" fill="#fff" opacity="0.30"/><circle cx="622.0" cy="90.8" r="0.6" fill="#fff" opacity="0.30"/><circle cx="622.0" cy="96.2" r="0.6" fill="#fff" opacity="0.30"/><circle cx="622.0" cy="101.6" r="0.6" fill="#fff" opacity="0.30"/><circle cx="627.7" cy="109.4" r="0.8" fill="#fff" opacity="0.60"/><circle cx="627.7" cy="114.8" r="0.8" fill="#fff" opacity="0.60"/><circle cx="627.7" cy="120.2" r="0.8" fill="#fff" opacity="0.60"/><circle cx="627.7" cy="125.6" r="0.8" fill="#fff" opacity="0.60"/><circle cx="627.7" cy="131.0" r="0.8" fill="#fff" opacity="0.60"/><circle cx="627.7" cy="136.4" r="0.8" fill="#fff" opacity="0.60"/><circle cx="627.7" cy="141.8" r="0.8" fill="#fff" opacity="0.60"/><circle cx="627.7" cy="147.2" r="0.8" fill="#fff" opacity="0.60"/><circle cx="627.7" cy="152.6" r="0.8" fill="#fff" opacity="0.60"/><circle cx="627.7" cy="158.0" r="0.8" fill="#fff" opacity="0.60"/><circle cx="627.7" cy="163.4" r="0.8" fill="#fff" opacity="0.60"/><circle cx="627.7" cy="168.8" r="0.8" fill="#fff" opacity="0.60"/><circle cx="627.7" cy="174.2" r="0.8" fill="#fff" opacity="0.60"/><circle cx="627.7" cy="80.0" r="0.6" fill="#fff" opacity="0.30"/><circle cx="627.7" cy="85.4" r="0.6" fill="#fff" opacity="0.30"/><circle cx="627.7" cy="90.8" r="0.6" fill="#fff" opacity="0.30"/><circle cx="627.7" cy="96.2" r="0.6" fill="#fff" opacity="0.30"/><circle cx="627.7" cy="101.6" r="0.6" fill="#fff" opacity="0.30"/><circle cx="636.4" cy="109.4" r="0.8" fill="#fff" opacity="0.60"/><circle cx="636.4" cy="114.8" r="0.8" fill="#fff" opacity="0.60"/><circle cx="636.4" cy="120.2" r="0.8" fill="#fff" opacity="0.60"/><circle cx="636.4" cy="125.6" r="0.8" fill="#fff" opacity="0.60"/><circle cx="636.4" cy="131.0" r="0.8" fill="#fff" opacity="0.60"/><circle cx="636.4" cy="136.4" r="0.8" fill="#fff" opacity="0.60"/><circle cx="636.4" cy="141.8" r="0.8" fill="#fff" opacity="0.60"/><circle cx="636.4" cy="147.2" r="0.8" fill="#fff" opacity="0.60"/><circle cx="636.4" cy="152.6" r="0.8" fill="#fff" opacity="0.60"/><circle cx="636.4" cy="158.0" r="0.8" fill="#fff" opacity="0.60"/><circle cx="636.4" cy="163.4" r="0.8" fill="#fff" opacity="0.60"/><circle cx="636.4" cy="168.8" r="0.8" fill="#fff" opacity="0.60"/><circle cx="636.4" cy="174.2" r="0.8" fill="#fff" opacity="0.60"/><circle cx="636.4" cy="80.0" r="0.6" fill="#fff" opacity="0.30"/><circle cx="636.4" cy="85.4" r="0.6" fill="#fff" opacity="0.30"/><circle cx="636.4" cy="90.8" r="0.6" fill="#fff" opacity="0.30"/><circle cx="636.4" cy="96.2" r="0.6" fill="#fff" opacity="0.30"/><circle cx="636.4" cy="101.6" r="0.6" fill="#fff" opacity="0.30"/><circle cx="645.1" cy="109.4" r="1.0" fill="#fff" opacity="0.60"/><circle cx="645.1" cy="114.8" r="1.0" fill="#fff" opacity="0.60"/><circle cx="645.1" cy="120.2" r="1.0" fill="#fff" opacity="0.60"/><circle cx="645.1" cy="125.6" r="1.0" fill="#fff" opacity="0.60"/><circle cx="645.1" cy="131.0" r="1.0" fill="#fff" opacity="0.60"/><circle cx="645.1" cy="136.4" r="1.0" fill="#fff" opacity="0.60"/><circle cx="645.1" cy="141.8" r="1.0" fill="#fff" opacity="0.60"/><circle cx="645.1" cy="147.2" r="1.0" fill="#fff" opacity="0.60"/><circle cx="645.1" cy="152.6" r="1.0" fill="#fff" opacity="0.60"/><circle cx="645.1" cy="158.0" r="1.0" fill="#fff" opacity="0.60"/><circle cx="645.1" cy="163.4" r="1.0" fill="#fff" opacity="0.60"/><circle cx="645.1" cy="168.8" r="1.0" fill="#fff" opacity="0.60"/><circle cx="645.1" cy="174.2" r="1.0" fill="#fff" opacity="0.60"/><circle cx="645.1" cy="80.0" r="0.6" fill="#fff" opacity="0.30"/><circle cx="645.1" cy="85.4" r="0.6" fill="#fff" opacity="0.30"/><circle cx="645.1" cy="90.8" r="0.6" fill="#fff" opacity="0.30"/><circle cx="645.1" cy="96.2" r="0.6" fill="#fff" opacity="0.30"/><circle cx="645.1" cy="101.6" r="0.6" fill="#fff" opacity="0.30"/><rect x="660.0" y="155.8" width="4.0" height="1.5" fill="#fff" opacity="0.90"/><rect x="665.5" y="150.6" width="6.5" height="1.5" fill="#fff" opacity="0.90"/><rect x="673.5" y="144.9" width="9.5" height="1.5" fill="#fff" opacity="0.90"/><rect x="686.0" y="140.1" width="3.0" height="1.5" fill="#fff" opacity="0.90"/><rect x="692.0" y="134.8" width="2.5" height="1.5" fill="#fff" opacity="0.90"/><path d="M587.5 41.2 C624.8 41.8 662.3 41.0 699.3 43.0 C704.8 43.3 710.5 45.4 715.0 48.2 C718.1 50.1 721.5 53.4 722.0 57.0 C724.4 72.6 723.1 89.6 723.7 105.9 L725.5 190.8 L587.5 190.8Z" fill="none" stroke="#0c0a0a" stroke-width="12.0"/></g><rect x="597.3" y="57.1" width="121.0" height="121.1" fill="none" stroke="#6ab02e" stroke-width="5.6"/></g>
<g><rect x="760.4" y="40.9" width="152.4" height="153.1" fill="#fff" stroke="#3a3a3a" stroke-width="1.6"/><path d="M760.4 79.2h2.2M912.8 79.2h-2.2" stroke="#3a3a3a" stroke-width="1.4"/><path d="M760.4 117.4h2.2M912.8 117.4h-2.2" stroke="#3a3a3a" stroke-width="1.4"/><path d="M760.4 155.7h2.2M912.8 155.7h-2.2" stroke="#3a3a3a" stroke-width="1.4"/><path d="M836.6 40.9v2.2M836.6 194.0v-2.2" stroke="#3a3a3a" stroke-width="1.4"/><g mask="url(#fm4)"><rect x="764.4" y="37.4" width="148.3" height="156.4" fill="url(#g4bot)"/><rect x="764.4" y="37.4" width="148.3" height="156.4" fill="url(#g4mid)" mask="url(#g4mm)"/><rect x="764.4" y="37.4" width="148.3" height="156.4" fill="url(#g4top)" mask="url(#g4mt)"/></g><g clip-path="url(#c4)"><rect x="764.4" y="37.4" width="148.3" height="156.4" fill="url(#g4bot)"/><rect x="764.4" y="37.4" width="148.3" height="156.4" fill="url(#g4mid)" mask="url(#g4mm)"/><rect x="764.4" y="37.4" width="148.3" height="156.4" fill="url(#g4top)" mask="url(#g4mt)"/><rect x="797.7" y="46.5" width="1.8" height="132.7" fill="#fff" opacity="0.95"/><rect x="815.8" y="58.7" width="1.5" height="120.5" fill="#fff" opacity="0.90"/><circle cx="782.0" cy="76.2" r="0.8" fill="#fff" opacity="0.45"/><circle cx="782.0" cy="81.4" r="0.8" fill="#fff" opacity="0.45"/><circle cx="782.0" cy="85.3" r="0.8" fill="#fff" opacity="0.45"/><circle cx="782.0" cy="88.8" r="0.8" fill="#fff" opacity="0.45"/><circle cx="782.0" cy="92.3" r="0.8" fill="#fff" opacity="0.45"/><circle cx="782.0" cy="95.8" r="0.8" fill="#fff" opacity="0.45"/><circle cx="782.0" cy="100.3" r="1.1" fill="#fff" opacity="0.95"/><circle cx="782.0" cy="109.3" r="1.1" fill="#fff" opacity="0.95"/><circle cx="782.0" cy="114.6" r="1.1" fill="#fff" opacity="0.95"/><circle cx="782.0" cy="121.0" r="1.1" fill="#fff" opacity="0.95"/><circle cx="782.0" cy="127.1" r="1.1" fill="#fff" opacity="0.95"/><circle cx="782.0" cy="133.2" r="1.1" fill="#fff" opacity="0.95"/><circle cx="782.0" cy="139.0" r="1.1" fill="#fff" opacity="0.95"/><circle cx="782.0" cy="146.2" r="1.1" fill="#fff" opacity="0.95"/><circle cx="782.0" cy="152.8" r="1.1" fill="#fff" opacity="0.95"/><circle cx="782.0" cy="158.9" r="1.1" fill="#fff" opacity="0.95"/><circle cx="782.0" cy="165.0" r="1.1" fill="#fff" opacity="0.95"/><circle cx="782.0" cy="170.4" r="1.1" fill="#fff" opacity="0.95"/><circle cx="782.0" cy="175.7" r="1.1" fill="#fff" opacity="0.95"/><circle cx="787.3" cy="76.2" r="0.8" fill="#fff" opacity="0.45"/><circle cx="787.3" cy="81.4" r="0.8" fill="#fff" opacity="0.45"/><circle cx="787.3" cy="85.3" r="0.8" fill="#fff" opacity="0.45"/><circle cx="787.3" cy="88.8" r="0.8" fill="#fff" opacity="0.45"/><circle cx="787.3" cy="92.3" r="0.8" fill="#fff" opacity="0.45"/><circle cx="787.3" cy="95.8" r="0.8" fill="#fff" opacity="0.45"/><circle cx="787.3" cy="100.3" r="1.1" fill="#fff" opacity="0.95"/><circle cx="787.3" cy="109.3" r="1.1" fill="#fff" opacity="0.95"/><circle cx="787.3" cy="114.6" r="1.1" fill="#fff" opacity="0.95"/><circle cx="787.3" cy="121.0" r="1.1" fill="#fff" opacity="0.95"/><circle cx="787.3" cy="127.1" r="1.1" fill="#fff" opacity="0.95"/><circle cx="787.3" cy="133.2" r="1.1" fill="#fff" opacity="0.95"/><circle cx="787.3" cy="139.0" r="1.1" fill="#fff" opacity="0.95"/><circle cx="787.3" cy="146.2" r="1.1" fill="#fff" opacity="0.95"/><circle cx="787.3" cy="152.8" r="1.1" fill="#fff" opacity="0.95"/><circle cx="787.3" cy="158.9" r="1.1" fill="#fff" opacity="0.95"/><circle cx="787.3" cy="165.0" r="1.1" fill="#fff" opacity="0.95"/><circle cx="787.3" cy="170.4" r="1.1" fill="#fff" opacity="0.95"/><circle cx="787.3" cy="175.7" r="1.1" fill="#fff" opacity="0.95"/><circle cx="792.7" cy="76.2" r="0.8" fill="#fff" opacity="0.45"/><circle cx="792.7" cy="81.4" r="0.8" fill="#fff" opacity="0.45"/><circle cx="792.7" cy="85.3" r="0.8" fill="#fff" opacity="0.45"/><circle cx="792.7" cy="88.8" r="0.8" fill="#fff" opacity="0.45"/><circle cx="792.7" cy="92.3" r="0.8" fill="#fff" opacity="0.45"/><circle cx="792.7" cy="95.8" r="0.8" fill="#fff" opacity="0.45"/><circle cx="792.7" cy="100.3" r="1.1" fill="#fff" opacity="0.95"/><circle cx="792.7" cy="109.3" r="1.1" fill="#fff" opacity="0.95"/><circle cx="792.7" cy="114.6" r="1.1" fill="#fff" opacity="0.95"/><circle cx="792.7" cy="121.0" r="1.1" fill="#fff" opacity="0.95"/><circle cx="792.7" cy="127.1" r="1.1" fill="#fff" opacity="0.95"/><circle cx="792.7" cy="133.2" r="1.1" fill="#fff" opacity="0.95"/><circle cx="792.7" cy="139.0" r="1.1" fill="#fff" opacity="0.95"/><circle cx="792.7" cy="146.2" r="1.1" fill="#fff" opacity="0.95"/><circle cx="792.7" cy="152.8" r="1.1" fill="#fff" opacity="0.95"/><circle cx="792.7" cy="158.9" r="1.1" fill="#fff" opacity="0.95"/><circle cx="792.7" cy="165.0" r="1.1" fill="#fff" opacity="0.95"/><circle cx="792.7" cy="170.4" r="1.1" fill="#fff" opacity="0.95"/><circle cx="792.7" cy="175.7" r="1.1" fill="#fff" opacity="0.95"/><circle cx="798.6" cy="76.2" r="0.8" fill="#fff" opacity="0.45"/><circle cx="798.6" cy="81.4" r="0.8" fill="#fff" opacity="0.45"/><circle cx="798.6" cy="85.3" r="0.8" fill="#fff" opacity="0.45"/><circle cx="798.6" cy="88.8" r="0.8" fill="#fff" opacity="0.45"/><circle cx="798.6" cy="92.3" r="0.8" fill="#fff" opacity="0.45"/><circle cx="798.6" cy="95.8" r="0.8" fill="#fff" opacity="0.45"/><circle cx="798.6" cy="100.3" r="1.4" fill="#fff" opacity="0.95"/><circle cx="798.6" cy="109.3" r="1.4" fill="#fff" opacity="0.95"/><circle cx="798.6" cy="114.6" r="1.4" fill="#fff" opacity="0.95"/><circle cx="798.6" cy="121.0" r="1.4" fill="#fff" opacity="0.95"/><circle cx="798.6" cy="127.1" r="1.4" fill="#fff" opacity="0.95"/><circle cx="798.6" cy="133.2" r="1.4" fill="#fff" opacity="0.95"/><circle cx="798.6" cy="139.0" r="1.4" fill="#fff" opacity="0.95"/><circle cx="798.6" cy="146.2" r="1.4" fill="#fff" opacity="0.95"/><circle cx="798.6" cy="152.8" r="1.4" fill="#fff" opacity="0.95"/><circle cx="798.6" cy="158.9" r="1.4" fill="#fff" opacity="0.95"/><circle cx="798.6" cy="165.0" r="1.4" fill="#fff" opacity="0.95"/><circle cx="798.6" cy="170.4" r="1.4" fill="#fff" opacity="0.95"/><circle cx="798.6" cy="175.7" r="1.4" fill="#fff" opacity="0.95"/><circle cx="805.4" cy="76.2" r="0.8" fill="#fff" opacity="0.45"/><circle cx="805.4" cy="81.4" r="0.8" fill="#fff" opacity="0.45"/><circle cx="805.4" cy="85.3" r="0.8" fill="#fff" opacity="0.45"/><circle cx="805.4" cy="88.8" r="0.8" fill="#fff" opacity="0.45"/><circle cx="805.4" cy="92.3" r="0.8" fill="#fff" opacity="0.45"/><circle cx="805.4" cy="95.8" r="0.8" fill="#fff" opacity="0.45"/><circle cx="805.4" cy="100.3" r="1.1" fill="#fff" opacity="0.95"/><circle cx="805.4" cy="109.3" r="1.1" fill="#fff" opacity="0.95"/><circle cx="805.4" cy="114.6" r="1.1" fill="#fff" opacity="0.95"/><circle cx="805.4" cy="121.0" r="1.1" fill="#fff" opacity="0.95"/><circle cx="805.4" cy="127.1" r="1.1" fill="#fff" opacity="0.95"/><circle cx="805.4" cy="133.2" r="1.1" fill="#fff" opacity="0.95"/><circle cx="805.4" cy="139.0" r="1.1" fill="#fff" opacity="0.95"/><circle cx="805.4" cy="146.2" r="1.1" fill="#fff" opacity="0.95"/><circle cx="805.4" cy="152.8" r="1.1" fill="#fff" opacity="0.95"/><circle cx="805.4" cy="158.9" r="1.1" fill="#fff" opacity="0.95"/><circle cx="805.4" cy="165.0" r="1.1" fill="#fff" opacity="0.95"/><circle cx="805.4" cy="170.4" r="1.1" fill="#fff" opacity="0.95"/><circle cx="805.4" cy="175.7" r="1.1" fill="#fff" opacity="0.95"/><circle cx="810.4" cy="76.2" r="0.8" fill="#fff" opacity="0.45"/><circle cx="810.4" cy="81.4" r="0.8" fill="#fff" opacity="0.45"/><circle cx="810.4" cy="85.3" r="0.8" fill="#fff" opacity="0.45"/><circle cx="810.4" cy="88.8" r="0.8" fill="#fff" opacity="0.45"/><circle cx="810.4" cy="92.3" r="0.8" fill="#fff" opacity="0.45"/><circle cx="810.4" cy="95.8" r="0.8" fill="#fff" opacity="0.45"/><circle cx="810.4" cy="100.3" r="1.1" fill="#fff" opacity="0.95"/><circle cx="810.4" cy="109.3" r="1.1" fill="#fff" opacity="0.95"/><circle cx="810.4" cy="114.6" r="1.1" fill="#fff" opacity="0.95"/><circle cx="810.4" cy="121.0" r="1.1" fill="#fff" opacity="0.95"/><circle cx="810.4" cy="127.1" r="1.1" fill="#fff" opacity="0.95"/><circle cx="810.4" cy="133.2" r="1.1" fill="#fff" opacity="0.95"/><circle cx="810.4" cy="139.0" r="1.1" fill="#fff" opacity="0.95"/><circle cx="810.4" cy="146.2" r="1.1" fill="#fff" opacity="0.95"/><circle cx="810.4" cy="152.8" r="1.1" fill="#fff" opacity="0.95"/><circle cx="810.4" cy="158.9" r="1.1" fill="#fff" opacity="0.95"/><circle cx="810.4" cy="165.0" r="1.1" fill="#fff" opacity="0.95"/><circle cx="810.4" cy="170.4" r="1.1" fill="#fff" opacity="0.95"/><circle cx="810.4" cy="175.7" r="1.1" fill="#fff" opacity="0.95"/><circle cx="816.5" cy="76.2" r="0.8" fill="#fff" opacity="0.45"/><circle cx="816.5" cy="81.4" r="0.8" fill="#fff" opacity="0.45"/><circle cx="816.5" cy="85.3" r="0.8" fill="#fff" opacity="0.45"/><circle cx="816.5" cy="88.8" r="0.8" fill="#fff" opacity="0.45"/><circle cx="816.5" cy="92.3" r="0.8" fill="#fff" opacity="0.45"/><circle cx="816.5" cy="95.8" r="0.8" fill="#fff" opacity="0.45"/><circle cx="816.5" cy="100.3" r="1.4" fill="#fff" opacity="0.95"/><circle cx="816.5" cy="109.3" r="1.4" fill="#fff" opacity="0.95"/><circle cx="816.5" cy="114.6" r="1.4" fill="#fff" opacity="0.95"/><circle cx="816.5" cy="121.0" r="1.4" fill="#fff" opacity="0.95"/><circle cx="816.5" cy="127.1" r="1.4" fill="#fff" opacity="0.95"/><circle cx="816.5" cy="133.2" r="1.4" fill="#fff" opacity="0.95"/><circle cx="816.5" cy="139.0" r="1.4" fill="#fff" opacity="0.95"/><circle cx="816.5" cy="146.2" r="1.4" fill="#fff" opacity="0.95"/><circle cx="816.5" cy="152.8" r="1.4" fill="#fff" opacity="0.95"/><circle cx="816.5" cy="158.9" r="1.4" fill="#fff" opacity="0.95"/><circle cx="816.5" cy="165.0" r="1.4" fill="#fff" opacity="0.95"/><circle cx="816.5" cy="170.4" r="1.4" fill="#fff" opacity="0.95"/><circle cx="816.5" cy="175.7" r="1.4" fill="#fff" opacity="0.95"/><circle cx="822.8" cy="76.2" r="0.8" fill="#fff" opacity="0.45"/><circle cx="822.8" cy="81.4" r="0.8" fill="#fff" opacity="0.45"/><circle cx="822.8" cy="85.3" r="0.8" fill="#fff" opacity="0.45"/><circle cx="822.8" cy="88.8" r="0.8" fill="#fff" opacity="0.45"/><circle cx="822.8" cy="92.3" r="0.8" fill="#fff" opacity="0.45"/><circle cx="822.8" cy="95.8" r="0.8" fill="#fff" opacity="0.45"/><circle cx="822.8" cy="100.3" r="1.1" fill="#fff" opacity="0.95"/><circle cx="822.8" cy="109.3" r="1.1" fill="#fff" opacity="0.95"/><circle cx="822.8" cy="114.6" r="1.1" fill="#fff" opacity="0.95"/><circle cx="822.8" cy="121.0" r="1.1" fill="#fff" opacity="0.95"/><circle cx="822.8" cy="127.1" r="1.1" fill="#fff" opacity="0.95"/><circle cx="822.8" cy="133.2" r="1.1" fill="#fff" opacity="0.95"/><circle cx="822.8" cy="139.0" r="1.1" fill="#fff" opacity="0.95"/><circle cx="822.8" cy="146.2" r="1.1" fill="#fff" opacity="0.95"/><circle cx="822.8" cy="152.8" r="1.1" fill="#fff" opacity="0.95"/><circle cx="822.8" cy="158.9" r="1.1" fill="#fff" opacity="0.95"/><circle cx="822.8" cy="165.0" r="1.1" fill="#fff" opacity="0.95"/><circle cx="822.8" cy="170.4" r="1.1" fill="#fff" opacity="0.95"/><circle cx="822.8" cy="175.7" r="1.1" fill="#fff" opacity="0.95"/><circle cx="831.6" cy="76.2" r="0.8" fill="#fff" opacity="0.45"/><circle cx="831.6" cy="81.4" r="0.8" fill="#fff" opacity="0.45"/><circle cx="831.6" cy="85.3" r="0.8" fill="#fff" opacity="0.45"/><circle cx="831.6" cy="88.8" r="0.8" fill="#fff" opacity="0.45"/><circle cx="831.6" cy="92.3" r="0.8" fill="#fff" opacity="0.45"/><circle cx="831.6" cy="95.8" r="0.8" fill="#fff" opacity="0.45"/><circle cx="831.6" cy="100.3" r="1.1" fill="#fff" opacity="0.95"/><circle cx="831.6" cy="109.3" r="1.1" fill="#fff" opacity="0.95"/><circle cx="831.6" cy="114.6" r="1.1" fill="#fff" opacity="0.95"/><circle cx="831.6" cy="121.0" r="1.1" fill="#fff" opacity="0.95"/><circle cx="831.6" cy="127.1" r="1.1" fill="#fff" opacity="0.95"/><circle cx="831.6" cy="133.2" r="1.1" fill="#fff" opacity="0.95"/><circle cx="831.6" cy="139.0" r="1.1" fill="#fff" opacity="0.95"/><circle cx="831.6" cy="146.2" r="1.1" fill="#fff" opacity="0.95"/><circle cx="831.6" cy="152.8" r="1.1" fill="#fff" opacity="0.95"/><circle cx="831.6" cy="158.9" r="1.1" fill="#fff" opacity="0.95"/><circle cx="831.6" cy="165.0" r="1.1" fill="#fff" opacity="0.95"/><circle cx="831.6" cy="170.4" r="1.1" fill="#fff" opacity="0.95"/><circle cx="831.6" cy="175.7" r="1.1" fill="#fff" opacity="0.95"/><circle cx="836.8" cy="76.2" r="0.8" fill="#fff" opacity="0.45"/><circle cx="836.8" cy="81.4" r="0.8" fill="#fff" opacity="0.45"/><circle cx="836.8" cy="85.3" r="0.8" fill="#fff" opacity="0.45"/><circle cx="836.8" cy="88.8" r="0.8" fill="#fff" opacity="0.45"/><circle cx="836.8" cy="92.3" r="0.8" fill="#fff" opacity="0.45"/><circle cx="836.8" cy="95.8" r="0.8" fill="#fff" opacity="0.45"/><circle cx="836.8" cy="100.3" r="1.4" fill="#fff" opacity="0.95"/><circle cx="836.8" cy="109.3" r="1.4" fill="#fff" opacity="0.95"/><circle cx="836.8" cy="114.6" r="1.4" fill="#fff" opacity="0.95"/><circle cx="836.8" cy="121.0" r="1.4" fill="#fff" opacity="0.95"/><circle cx="836.8" cy="127.1" r="1.4" fill="#fff" opacity="0.95"/><circle cx="836.8" cy="133.2" r="1.4" fill="#fff" opacity="0.95"/><circle cx="836.8" cy="139.0" r="1.4" fill="#fff" opacity="0.95"/><circle cx="836.8" cy="146.2" r="1.4" fill="#fff" opacity="0.95"/><circle cx="836.8" cy="152.8" r="1.4" fill="#fff" opacity="0.95"/><circle cx="836.8" cy="158.9" r="1.4" fill="#fff" opacity="0.95"/><circle cx="836.8" cy="165.0" r="1.4" fill="#fff" opacity="0.95"/><circle cx="836.8" cy="170.4" r="1.4" fill="#fff" opacity="0.95"/><circle cx="836.8" cy="175.7" r="1.4" fill="#fff" opacity="0.95"/><rect x="775.3" y="120.1" width="62.7" height="1.8" fill="#fff" opacity="0.90"/><rect x="838.0" y="120.3" width="25.2" height="1.3" fill="#fff" opacity="0.60"/><rect x="805.2" y="132.4" width="32.8" height="1.6" fill="#fff" opacity="0.90"/><rect x="838.0" y="132.5" width="43.6" height="1.3" fill="#fff" opacity="0.65"/><rect x="775.3" y="137.9" width="29.9" height="2.2" fill="#fff" opacity="0.95"/><rect x="775.3" y="145.2" width="62.7" height="2.0" fill="#fff" opacity="0.95"/><rect x="838.0" y="145.5" width="32.9" height="1.4" fill="#fff" opacity="0.70"/><rect x="831.1" y="152.0" width="6.9" height="1.6" fill="#fff" opacity="0.90"/><rect x="838.0" y="152.1" width="45.9" height="1.4" fill="#fff" opacity="0.65"/><rect x="775.3" y="157.8" width="56.6" height="2.2" fill="#fff" opacity="0.95"/><rect x="867.0" y="114.9" width="13.0" height="1.7" fill="#fff" opacity="0.95"/><rect x="887.0" y="127.5" width="5.0" height="1.7" fill="#fff" opacity="0.85"/><rect x="874.0" y="140.2" width="14.4" height="1.7" fill="#fff" opacity="0.50"/><rect x="887.0" y="146.6" width="5.0" height="1.7" fill="#fff" opacity="0.60"/><rect x="883.0" y="159.2" width="5.4" height="1.7" fill="#fff" opacity="0.50"/><rect x="865.5" y="164.5" width="12.2" height="1.7" fill="#fff" opacity="0.95"/><path d="M767.4 40.4 C809.0 41.0 851.1 39.7 892.2 42.1 C896.2 42.3 899.8 45.5 902.7 48.2 C905.1 50.5 907.8 53.6 908.0 57.0 C910.2 101.1 909.1 146.2 909.7 190.8 L767.4 190.8Z" fill="none" stroke="#0c0a0a" stroke-width="12.0"/></g><rect x="772.8" y="52.8" width="128.9" height="129.7" fill="none" stroke="#6ab02e" stroke-width="5.6"/></g>
<g><rect x="44.4" y="787.4" width="152.1" height="152.8" fill="#fff" stroke="#3a3a3a" stroke-width="1.6"/><path d="M44.4 825.6h2.2M196.5 825.6h-2.2" stroke="#3a3a3a" stroke-width="1.4"/><path d="M44.4 863.8h2.2M196.5 863.8h-2.2" stroke="#3a3a3a" stroke-width="1.4"/><path d="M44.4 902.0h2.2M196.5 902.0h-2.2" stroke="#3a3a3a" stroke-width="1.4"/><path d="M120.5 787.4v2.2M120.5 940.2v-2.2" stroke="#3a3a3a" stroke-width="1.4"/><g mask="url(#fm5)"><rect x="45.7" y="849.9" width="144.9" height="86.5" fill="url(#g5bot)"/><rect x="45.7" y="849.9" width="144.9" height="86.5" fill="url(#g5mid)" mask="url(#g5mm)"/><rect x="45.7" y="849.9" width="144.9" height="86.5" fill="url(#g5top)" mask="url(#g5mt)"/></g><g clip-path="url(#c5)"><rect x="45.7" y="849.9" width="144.9" height="86.5" fill="url(#g5bot)"/><rect x="45.7" y="849.9" width="144.9" height="86.5" fill="url(#g5mid)" mask="url(#g5mm)"/><rect x="45.7" y="849.9" width="144.9" height="86.5" fill="url(#g5top)" mask="url(#g5mt)"/><path d="M49.6 852.9 C53.4 855.2 56.9 858.2 61.0 859.9 C68.3 862.9 76.2 864.4 83.7 866.8 C92.5 869.6 101.3 872.4 109.9 875.6 C117.0 878.2 123.9 881.2 130.8 884.3 C136.7 887.0 142.9 889.4 148.3 893.0 C153.4 896.4 158.1 900.8 162.3 905.3 C167.4 910.7 171.2 917.2 176.2 922.7 C179.7 926.6 183.8 929.8 187.6 933.4 L48.7 933.4Z" fill="none" stroke="#0c0a0a" stroke-width="11.0"/></g><path d="M120 859.6 L123.6 863.3 L120 867 L116.4 863.3Z" fill="#6ab02e"/></g>
<g><rect x="223.4" y="787.4" width="152.3" height="152.8" fill="#fff" stroke="#3a3a3a" stroke-width="1.6"/><path d="M223.4 825.6h2.2M375.7 825.6h-2.2" stroke="#3a3a3a" stroke-width="1.4"/><path d="M223.4 863.8h2.2M375.7 863.8h-2.2" stroke="#3a3a3a" stroke-width="1.4"/><path d="M223.4 902.0h2.2M375.7 902.0h-2.2" stroke="#3a3a3a" stroke-width="1.4"/><path d="M299.6 787.4v2.2M299.6 940.2v-2.2" stroke="#3a3a3a" stroke-width="1.4"/><g mask="url(#fm6)"><rect x="225.6" y="820.2" width="151.9" height="116.2" fill="url(#g6bot)"/><rect x="225.6" y="820.2" width="151.9" height="116.2" fill="url(#g6mid)" mask="url(#g6mm)"/><rect x="225.6" y="820.2" width="151.9" height="116.2" fill="url(#g6top)" mask="url(#g6mt)"/></g><g clip-path="url(#c6)"><rect x="225.6" y="820.2" width="151.9" height="116.2" fill="url(#g6bot)"/><rect x="225.6" y="820.2" width="151.9" height="116.2" fill="url(#g6mid)" mask="url(#g6mm)"/><rect x="225.6" y="820.2" width="151.9" height="116.2" fill="url(#g6top)" mask="url(#g6mt)"/><path d="M228.6 823.2 C237.0 824.9 245.4 826.8 253.9 828.4 C268.4 831.2 283.0 833.8 297.6 836.3 C306.3 837.8 315.3 838.4 323.8 840.6 C328.7 841.8 333.5 844.1 338.0 846.5 C342.4 848.9 346.9 851.6 350.5 855.0 C353.7 858.0 356.3 861.7 358.5 865.5 C360.7 869.2 362.2 873.4 363.5 877.5 C364.9 881.9 365.8 886.5 366.8 891.0 C367.8 896.0 368.6 901.0 369.5 906.0 C370.3 910.7 371.0 915.3 371.8 920.0 C372.6 924.5 373.6 928.9 374.5 933.4 L228.6 933.4Z" fill="none" stroke="#0c0a0a" stroke-width="11.0"/></g><rect x="278.0" y="842.0" width="43.0" height="43.0" fill="none" stroke="#6ab02e" stroke-width="5.6"/></g>
<g><rect x="402.9" y="787.4" width="151.6" height="152.8" fill="#fff" stroke="#3a3a3a" stroke-width="1.6"/><path d="M402.9 825.6h2.2M554.5 825.6h-2.2" stroke="#3a3a3a" stroke-width="1.4"/><path d="M402.9 863.8h2.2M554.5 863.8h-2.2" stroke="#3a3a3a" stroke-width="1.4"/><path d="M402.9 902.0h2.2M554.5 902.0h-2.2" stroke="#3a3a3a" stroke-width="1.4"/><path d="M478.7 787.4v2.2M478.7 940.2v-2.2" stroke="#3a3a3a" stroke-width="1.4"/><g mask="url(#fm7)"><rect x="406.4" y="806.2" width="150.9" height="130.2" fill="url(#g7bot)"/><rect x="406.4" y="806.2" width="150.9" height="130.2" fill="url(#g7mid)" mask="url(#g7mm)"/><rect x="406.4" y="806.2" width="150.9" height="130.2" fill="url(#g7top)" mask="url(#g7mt)"/></g><g clip-path="url(#c7)"><rect x="406.4" y="806.2" width="150.9" height="130.2" fill="url(#g7bot)"/><rect x="406.4" y="806.2" width="150.9" height="130.2" fill="url(#g7mid)" mask="url(#g7mm)"/><rect x="406.4" y="806.2" width="150.9" height="130.2" fill="url(#g7top)" mask="url(#g7mt)"/><path d="M409.4 809.2 C428.9 810.7 448.4 811.8 467.9 813.6 C480.7 814.8 493.5 816.2 506.3 818.0 C512.2 818.8 518.4 819.2 523.8 821.4 C528.3 823.3 532.5 826.7 536.0 830.2 C539.5 833.7 542.6 837.9 544.7 842.4 C547.3 847.8 549.1 853.9 550.0 859.9 C551.4 869.0 551.2 878.5 551.7 887.8 C552.6 903.0 553.4 918.2 554.3 933.4 L409.4 933.4Z" fill="none" stroke="#0c0a0a" stroke-width="11.0"/></g><rect x="438.9" y="822.8" width="80.7" height="81.1" fill="none" stroke="#6ab02e" stroke-width="5.6"/></g>
<g><rect x="582.8" y="787.4" width="151.8" height="152.8" fill="#fff" stroke="#3a3a3a" stroke-width="1.6"/><path d="M582.8 825.6h2.2M734.6 825.6h-2.2" stroke="#3a3a3a" stroke-width="1.4"/><path d="M582.8 863.8h2.2M734.6 863.8h-2.2" stroke="#3a3a3a" stroke-width="1.4"/><path d="M582.8 902.0h2.2M734.6 902.0h-2.2" stroke="#3a3a3a" stroke-width="1.4"/><path d="M658.7 787.4v2.2M658.7 940.2v-2.2" stroke="#3a3a3a" stroke-width="1.4"/><g mask="url(#fm8)"><rect x="585.4" y="796.6" width="151.8" height="139.8" fill="url(#g8bot)"/><rect x="585.4" y="796.6" width="151.8" height="139.8" fill="url(#g8mid)" mask="url(#g8mm)"/><rect x="585.4" y="796.6" width="151.8" height="139.8" fill="url(#g8top)" mask="url(#g8mt)"/></g><g clip-path="url(#c8)"><rect x="585.4" y="796.6" width="151.8" height="139.8" fill="url(#g8bot)"/><rect x="585.4" y="796.6" width="151.8" height="139.8" fill="url(#g8mid)" mask="url(#g8mm)"/><rect x="585.4" y="796.6" width="151.8" height="139.8" fill="url(#g8top)" mask="url(#g8mt)"/><rect x="624.8" y="822.1" width="1.3" height="102.9" fill="#fff" opacity="0.90"/><circle cx="625.4" cy="861.0" r="1.3" fill="#fff" opacity="0.95"/><circle cx="625.4" cy="866.0" r="1.3" fill="#fff" opacity="0.95"/><circle cx="625.4" cy="871.0" r="1.3" fill="#fff" opacity="0.95"/><circle cx="625.4" cy="876.0" r="1.3" fill="#fff" opacity="0.95"/><circle cx="625.4" cy="881.0" r="1.3" fill="#fff" opacity="0.95"/><circle cx="625.4" cy="886.0" r="1.3" fill="#fff" opacity="0.95"/><circle cx="625.4" cy="891.0" r="1.3" fill="#fff" opacity="0.95"/><circle cx="625.4" cy="896.0" r="1.3" fill="#fff" opacity="0.95"/><circle cx="625.4" cy="901.0" r="1.3" fill="#fff" opacity="0.95"/><circle cx="625.4" cy="906.0" r="1.3" fill="#fff" opacity="0.95"/><circle cx="625.4" cy="911.0" r="1.3" fill="#fff" opacity="0.95"/><circle cx="625.4" cy="916.0" r="1.3" fill="#fff" opacity="0.95"/><circle cx="625.4" cy="921.0" r="1.3" fill="#fff" opacity="0.95"/><rect x="648.0" y="833.6" width="1.2" height="46.6" fill="#fff" opacity="0.85"/><circle cx="648.6" cy="858.0" r="1.1" fill="#fff" opacity="0.90"/><circle cx="648.6" cy="863.0" r="1.1" fill="#fff" opacity="0.90"/><circle cx="648.6" cy="868.0" r="1.1" fill="#fff" opacity="0.90"/><circle cx="648.6" cy="873.0" r="1.1" fill="#fff" opacity="0.90"/><circle cx="648.6" cy="878.0" r="1.1" fill="#fff" opacity="0.90"/><rect x="642.7" y="882.2" width="1.2" height="44.7" fill="#fff" opacity="0.85"/><circle cx="613.9" cy="896.2" r="0.9" fill="#fff" opacity="0.90"/><circle cx="619.5" cy="896.2" r="1.1" fill="#fff" opacity="0.90"/><circle cx="625.4" cy="896.2" r="1.6" fill="#fff" opacity="0.90"/><circle cx="632.0" cy="896.2" r="0.9" fill="#fff" opacity="0.90"/><circle cx="643.3" cy="893.5" r="1.6" fill="#fff" opacity="0.90"/><circle cx="649.7" cy="893.5" r="1.1" fill="#fff" opacity="0.90"/><circle cx="660.1" cy="889.2" r="1.2" fill="#fff" opacity="0.90"/><circle cx="613.9" cy="909.0" r="0.9" fill="#fff" opacity="0.90"/><circle cx="619.5" cy="909.0" r="1.1" fill="#fff" opacity="0.90"/><circle cx="625.4" cy="909.0" r="1.7" fill="#fff" opacity="0.90"/><circle cx="632.0" cy="909.0" r="0.9" fill="#fff" opacity="0.90"/><circle cx="637.1" cy="909.0" r="0.9" fill="#fff" opacity="0.90"/><circle cx="643.3" cy="909.0" r="1.6" fill="#fff" opacity="0.90"/><circle cx="654.0" cy="905.0" r="0.8" fill="#fff" opacity="0.90"/><circle cx="660.1" cy="905.0" r="1.0" fill="#fff" opacity="0.90"/><circle cx="599.9" cy="900.0" r="1.1" fill="#fff" opacity="0.90"/><circle cx="599.9" cy="912.2" r="1.1" fill="#fff" opacity="0.90"/><circle cx="631.4" cy="814.5" r="0.7" fill="#fff" opacity="0.90"/><path d="M588.4 799.6 C613.7 800.8 639.0 801.5 664.3 803.1 C680.1 804.1 696.5 804.2 711.5 807.5 C716.3 808.5 720.4 812.6 723.7 816.2 C726.8 819.6 729.5 824.0 730.7 828.4 C732.7 836.2 733.0 844.7 733.3 852.9 C734.2 879.7 733.9 906.6 734.2 933.4 L588.4 933.4Z" fill="none" stroke="#0c0a0a" stroke-width="11.0"/></g><rect x="606.9" y="811.1" width="103.5" height="104.5" fill="none" stroke="#6ab02e" stroke-width="5.6"/></g>
<g><rect x="761.8" y="787.4" width="152.3" height="152.8" fill="#fff" stroke="#3a3a3a" stroke-width="1.6"/><path d="M761.8 825.6h2.2M914.1 825.6h-2.2" stroke="#3a3a3a" stroke-width="1.4"/><path d="M761.8 863.8h2.2M914.1 863.8h-2.2" stroke="#3a3a3a" stroke-width="1.4"/><path d="M761.8 902.0h2.2M914.1 902.0h-2.2" stroke="#3a3a3a" stroke-width="1.4"/><path d="M838.0 787.4v2.2M838.0 940.2v-2.2" stroke="#3a3a3a" stroke-width="1.4"/><g mask="url(#fm9)"><rect x="764.4" y="793.1" width="152.7" height="143.3" fill="url(#g9bot)"/><rect x="764.4" y="793.1" width="152.7" height="143.3" fill="url(#g9mid)" mask="url(#g9mm)"/><rect x="764.4" y="793.1" width="152.7" height="143.3" fill="url(#g9top)" mask="url(#g9mt)"/></g><g clip-path="url(#c9)"><rect x="764.4" y="793.1" width="152.7" height="143.3" fill="url(#g9bot)"/><rect x="764.4" y="793.1" width="152.7" height="143.3" fill="url(#g9mid)" mask="url(#g9mm)"/><rect x="764.4" y="793.1" width="152.7" height="143.3" fill="url(#g9top)" mask="url(#g9mt)"/><rect x="788.3" y="807.6" width="1.0" height="119.3" fill="#fff" opacity="0.75"/><circle cx="788.8" cy="841.4" r="1.3" fill="#fff" opacity="0.95"/><circle cx="788.8" cy="846.6" r="1.3" fill="#fff" opacity="0.95"/><circle cx="788.8" cy="851.8" r="1.3" fill="#fff" opacity="0.95"/><circle cx="788.8" cy="857.0" r="1.3" fill="#fff" opacity="0.95"/><circle cx="788.8" cy="862.2" r="1.3" fill="#fff" opacity="0.95"/><circle cx="788.8" cy="867.4" r="1.3" fill="#fff" opacity="0.95"/><circle cx="788.8" cy="872.6" r="1.7" fill="#fff" opacity="0.95"/><circle cx="788.8" cy="877.8" r="1.7" fill="#fff" opacity="0.95"/><circle cx="788.8" cy="883.0" r="1.7" fill="#fff" opacity="0.95"/><circle cx="788.8" cy="888.2" r="1.7" fill="#fff" opacity="0.95"/><circle cx="788.8" cy="893.4" r="1.7" fill="#fff" opacity="0.95"/><circle cx="788.8" cy="898.6" r="1.7" fill="#fff" opacity="0.95"/><circle cx="788.8" cy="903.8" r="1.7" fill="#fff" opacity="0.95"/><circle cx="788.8" cy="909.0" r="1.7" fill="#fff" opacity="0.95"/><circle cx="788.8" cy="914.2" r="1.7" fill="#fff" opacity="0.95"/><circle cx="788.8" cy="919.4" r="1.7" fill="#fff" opacity="0.95"/><rect x="801.0" y="807.6" width="1.0" height="119.3" fill="#fff" opacity="0.75"/><circle cx="801.5" cy="841.4" r="1.3" fill="#fff" opacity="0.95"/><circle cx="801.5" cy="846.6" r="1.3" fill="#fff" opacity="0.95"/><circle cx="801.5" cy="851.8" r="1.3" fill="#fff" opacity="0.95"/><circle cx="801.5" cy="857.0" r="1.3" fill="#fff" opacity="0.95"/><circle cx="801.5" cy="862.2" r="1.3" fill="#fff" opacity="0.95"/><circle cx="801.5" cy="867.4" r="1.3" fill="#fff" opacity="0.95"/><circle cx="801.5" cy="872.6" r="1.7" fill="#fff" opacity="0.95"/><circle cx="801.5" cy="877.8" r="1.7" fill="#fff" opacity="0.95"/><circle cx="801.5" cy="883.0" r="1.7" fill="#fff" opacity="0.95"/><circle cx="801.5" cy="888.2" r="1.7" fill="#fff" opacity="0.95"/><circle cx="801.5" cy="893.4" r="1.7" fill="#fff" opacity="0.95"/><circle cx="801.5" cy="898.6" r="1.7" fill="#fff" opacity="0.95"/><circle cx="801.5" cy="903.8" r="1.7" fill="#fff" opacity="0.95"/><circle cx="801.5" cy="909.0" r="1.7" fill="#fff" opacity="0.95"/><circle cx="801.5" cy="914.2" r="1.7" fill="#fff" opacity="0.95"/><circle cx="801.5" cy="919.4" r="1.7" fill="#fff" opacity="0.95"/><rect x="808.0" y="807.6" width="1.0" height="119.3" fill="#fff" opacity="0.75"/><circle cx="808.5" cy="841.4" r="1.3" fill="#fff" opacity="0.95"/><circle cx="808.5" cy="846.6" r="1.3" fill="#fff" opacity="0.95"/><circle cx="808.5" cy="851.8" r="1.3" fill="#fff" opacity="0.95"/><circle cx="808.5" cy="857.0" r="1.3" fill="#fff" opacity="0.95"/><circle cx="808.5" cy="862.2" r="1.3" fill="#fff" opacity="0.95"/><circle cx="808.5" cy="867.4" r="1.3" fill="#fff" opacity="0.95"/><circle cx="808.5" cy="872.6" r="1.7" fill="#fff" opacity="0.95"/><circle cx="808.5" cy="877.8" r="1.7" fill="#fff" opacity="0.95"/><circle cx="808.5" cy="883.0" r="1.7" fill="#fff" opacity="0.95"/><circle cx="808.5" cy="888.2" r="1.7" fill="#fff" opacity="0.95"/><circle cx="808.5" cy="893.4" r="1.7" fill="#fff" opacity="0.95"/><circle cx="808.5" cy="898.6" r="1.7" fill="#fff" opacity="0.95"/><circle cx="808.5" cy="903.8" r="1.7" fill="#fff" opacity="0.95"/><circle cx="808.5" cy="909.0" r="1.7" fill="#fff" opacity="0.95"/><circle cx="808.5" cy="914.2" r="1.7" fill="#fff" opacity="0.95"/><circle cx="808.5" cy="919.4" r="1.7" fill="#fff" opacity="0.95"/><rect x="815.2" y="807.6" width="1.0" height="119.3" fill="#fff" opacity="0.75"/><circle cx="815.7" cy="841.4" r="1.3" fill="#fff" opacity="0.95"/><circle cx="815.7" cy="846.6" r="1.3" fill="#fff" opacity="0.95"/><circle cx="815.7" cy="851.8" r="1.3" fill="#fff" opacity="0.95"/><circle cx="815.7" cy="857.0" r="1.3" fill="#fff" opacity="0.95"/><circle cx="815.7" cy="862.2" r="1.3" fill="#fff" opacity="0.95"/><circle cx="815.7" cy="867.4" r="1.3" fill="#fff" opacity="0.95"/><circle cx="815.7" cy="872.6" r="1.7" fill="#fff" opacity="0.95"/><circle cx="815.7" cy="877.8" r="1.7" fill="#fff" opacity="0.95"/><circle cx="815.7" cy="883.0" r="1.7" fill="#fff" opacity="0.95"/><circle cx="815.7" cy="888.2" r="1.7" fill="#fff" opacity="0.95"/><circle cx="815.7" cy="893.4" r="1.7" fill="#fff" opacity="0.95"/><circle cx="815.7" cy="898.6" r="1.7" fill="#fff" opacity="0.95"/><circle cx="815.7" cy="903.8" r="1.7" fill="#fff" opacity="0.95"/><circle cx="815.7" cy="909.0" r="1.7" fill="#fff" opacity="0.95"/><circle cx="815.7" cy="914.2" r="1.7" fill="#fff" opacity="0.95"/><circle cx="815.7" cy="919.4" r="1.7" fill="#fff" opacity="0.95"/><rect x="822.4" y="807.6" width="1.0" height="119.3" fill="#fff" opacity="0.75"/><circle cx="822.9" cy="841.4" r="1.3" fill="#fff" opacity="0.95"/><circle cx="822.9" cy="846.6" r="1.3" fill="#fff" opacity="0.95"/><circle cx="822.9" cy="851.8" r="1.3" fill="#fff" opacity="0.95"/><circle cx="822.9" cy="857.0" r="1.3" fill="#fff" opacity="0.95"/><circle cx="822.9" cy="862.2" r="1.3" fill="#fff" opacity="0.95"/><circle cx="822.9" cy="867.4" r="1.3" fill="#fff" opacity="0.95"/><circle cx="822.9" cy="872.6" r="1.7" fill="#fff" opacity="0.95"/><circle cx="822.9" cy="877.8" r="1.7" fill="#fff" opacity="0.95"/><circle cx="822.9" cy="883.0" r="1.7" fill="#fff" opacity="0.95"/><circle cx="822.9" cy="888.2" r="1.7" fill="#fff" opacity="0.95"/><circle cx="822.9" cy="893.4" r="1.7" fill="#fff" opacity="0.95"/><circle cx="822.9" cy="898.6" r="1.7" fill="#fff" opacity="0.95"/><circle cx="822.9" cy="903.8" r="1.7" fill="#fff" opacity="0.95"/><circle cx="822.9" cy="909.0" r="1.7" fill="#fff" opacity="0.95"/><circle cx="822.9" cy="914.2" r="1.7" fill="#fff" opacity="0.95"/><circle cx="822.9" cy="919.4" r="1.7" fill="#fff" opacity="0.95"/><rect x="829.7" y="823.4" width="1.0" height="103.5" fill="#fff" opacity="0.70"/><circle cx="830.2" cy="841.4" r="1.1" fill="#fff" opacity="0.95"/><circle cx="830.2" cy="846.6" r="1.1" fill="#fff" opacity="0.95"/><circle cx="830.2" cy="851.8" r="1.1" fill="#fff" opacity="0.95"/><circle cx="830.2" cy="857.0" r="1.1" fill="#fff" opacity="0.95"/><circle cx="830.2" cy="862.2" r="1.1" fill="#fff" opacity="0.95"/><circle cx="830.2" cy="867.4" r="1.1" fill="#fff" opacity="0.95"/><circle cx="830.2" cy="872.6" r="1.5" fill="#fff" opacity="0.95"/><circle cx="830.2" cy="877.8" r="1.5" fill="#fff" opacity="0.95"/><circle cx="830.2" cy="883.0" r="1.5" fill="#fff" opacity="0.95"/><circle cx="830.2" cy="888.2" r="1.5" fill="#fff" opacity="0.95"/><circle cx="830.2" cy="893.4" r="1.5" fill="#fff" opacity="0.95"/><circle cx="830.2" cy="898.6" r="1.5" fill="#fff" opacity="0.95"/><circle cx="830.2" cy="903.8" r="1.5" fill="#fff" opacity="0.95"/><circle cx="830.2" cy="909.0" r="1.5" fill="#fff" opacity="0.95"/><circle cx="830.2" cy="914.2" r="1.5" fill="#fff" opacity="0.95"/><circle cx="830.2" cy="919.4" r="1.5" fill="#fff" opacity="0.95"/><rect x="834.8" y="807.6" width="1.0" height="11.7" fill="#fff" opacity="0.60"/><rect x="841.7" y="850.3" width="1.2" height="76.6" fill="#fff" opacity="0.80"/><circle cx="842.3" cy="850.3" r="1.6" fill="#fff" opacity="0.95"/><circle cx="842.3" cy="855.5" r="1.6" fill="#fff" opacity="0.95"/><circle cx="842.3" cy="860.7" r="1.6" fill="#fff" opacity="0.95"/><circle cx="842.3" cy="865.9" r="1.6" fill="#fff" opacity="0.95"/><circle cx="842.3" cy="871.1" r="1.6" fill="#fff" opacity="0.95"/><circle cx="842.3" cy="876.3" r="1.6" fill="#fff" opacity="0.95"/><circle cx="842.3" cy="881.5" r="1.6" fill="#fff" opacity="0.95"/><circle cx="842.3" cy="886.7" r="1.6" fill="#fff" opacity="0.95"/><circle cx="842.3" cy="891.9" r="1.6" fill="#fff" opacity="0.95"/><circle cx="842.3" cy="897.1" r="1.6" fill="#fff" opacity="0.95"/><circle cx="842.3" cy="902.3" r="1.6" fill="#fff" opacity="0.95"/><circle cx="842.3" cy="907.5" r="1.6" fill="#fff" opacity="0.95"/><circle cx="842.3" cy="912.7" r="1.6" fill="#fff" opacity="0.95"/><circle cx="842.3" cy="917.9" r="1.6" fill="#fff" opacity="0.95"/><circle cx="842.3" cy="923.1" r="1.6" fill="#fff" opacity="0.95"/><circle cx="848.1" cy="867.6" r="1.1" fill="#fff" opacity="0.85"/><circle cx="854.3" cy="867.6" r="1.0" fill="#fff" opacity="0.70"/><circle cx="795.4" cy="874.6" r="0.8" fill="#fff" opacity="0.70"/><circle cx="848.1" cy="872.8" r="1.1" fill="#fff" opacity="0.85"/><circle cx="854.3" cy="872.8" r="1.0" fill="#fff" opacity="0.70"/><circle cx="795.4" cy="879.8" r="0.8" fill="#fff" opacity="0.70"/><circle cx="848.1" cy="878.0" r="1.1" fill="#fff" opacity="0.85"/><circle cx="854.3" cy="878.0" r="1.0" fill="#fff" opacity="0.70"/><circle cx="795.4" cy="885.0" r="0.8" fill="#fff" opacity="0.70"/><circle cx="848.1" cy="883.2" r="1.1" fill="#fff" opacity="0.85"/><circle cx="854.3" cy="883.2" r="1.0" fill="#fff" opacity="0.70"/><circle cx="795.4" cy="890.2" r="0.8" fill="#fff" opacity="0.70"/><circle cx="848.1" cy="888.4" r="1.1" fill="#fff" opacity="0.85"/><circle cx="854.3" cy="888.4" r="1.0" fill="#fff" opacity="0.70"/><circle cx="795.4" cy="895.4" r="0.8" fill="#fff" opacity="0.70"/><circle cx="848.1" cy="893.6" r="1.1" fill="#fff" opacity="0.85"/><circle cx="854.3" cy="893.6" r="1.0" fill="#fff" opacity="0.70"/><circle cx="795.4" cy="900.6" r="0.8" fill="#fff" opacity="0.70"/><circle cx="848.1" cy="898.8" r="1.1" fill="#fff" opacity="0.85"/><circle cx="854.3" cy="898.8" r="1.0" fill="#fff" opacity="0.70"/><circle cx="795.4" cy="905.8" r="0.8" fill="#fff" opacity="0.70"/><circle cx="848.1" cy="904.0" r="1.1" fill="#fff" opacity="0.85"/><circle cx="854.3" cy="904.0" r="1.0" fill="#fff" opacity="0.70"/><circle cx="795.4" cy="911.0" r="0.8" fill="#fff" opacity="0.70"/><circle cx="848.1" cy="909.2" r="1.1" fill="#fff" opacity="0.85"/><circle cx="854.3" cy="909.2" r="1.0" fill="#fff" opacity="0.70"/><circle cx="795.4" cy="916.2" r="0.8" fill="#fff" opacity="0.70"/><circle cx="848.1" cy="914.4" r="1.1" fill="#fff" opacity="0.85"/><circle cx="854.3" cy="914.4" r="1.0" fill="#fff" opacity="0.70"/><circle cx="795.4" cy="921.4" r="0.8" fill="#fff" opacity="0.70"/><circle cx="848.1" cy="919.6" r="1.1" fill="#fff" opacity="0.85"/><circle cx="854.3" cy="919.6" r="1.0" fill="#fff" opacity="0.70"/><circle cx="795.4" cy="926.6" r="0.8" fill="#fff" opacity="0.70"/><circle cx="863.3" cy="876.0" r="0.9" fill="#fff" opacity="0.55"/><circle cx="863.3" cy="881.2" r="0.9" fill="#fff" opacity="0.55"/><circle cx="863.3" cy="886.4" r="0.9" fill="#fff" opacity="0.55"/><circle cx="863.3" cy="891.6" r="0.9" fill="#fff" opacity="0.55"/><circle cx="863.3" cy="896.8" r="0.9" fill="#fff" opacity="0.55"/><circle cx="863.3" cy="902.0" r="0.9" fill="#fff" opacity="0.55"/><circle cx="863.3" cy="907.2" r="0.9" fill="#fff" opacity="0.55"/><circle cx="863.3" cy="912.4" r="0.9" fill="#fff" opacity="0.55"/><circle cx="863.3" cy="917.6" r="0.9" fill="#fff" opacity="0.55"/><circle cx="863.3" cy="922.8" r="0.9" fill="#fff" opacity="0.55"/><rect x="847.6" y="840.0" width="0.9" height="5.5" fill="#fff" opacity="0.70"/><path d="M767.4 796.1 C809.0 797.3 850.7 797.7 892.2 799.6 C895.8 799.8 899.8 800.3 902.7 802.2 C905.7 804.1 908.3 807.6 909.7 811.0 C911.8 815.8 913.0 821.4 913.2 826.7 C914.5 862.2 913.8 897.8 914.1 933.4 L767.4 933.4Z" fill="none" stroke="#0c0a0a" stroke-width="11.0"/></g><rect x="779.8" y="804.7" width="116.6" height="117.3" fill="none" stroke="#6ab02e" stroke-width="5.6"/></g>
<g fill="none" stroke-width="4.5" stroke-linejoin="round" stroke-linecap="butt"><path d="M615.4 237.2 L616.6 238.2 L617.7 239.2 L618.8 240.2 L619.9 241.2 L620.9 242.2 L622.0 243.2 L623.0 244.2 L624.0 245.2 L624.9 246.2 L625.9 247.2 L626.8 248.2 L627.8 249.2 L628.7 250.2 L629.6 251.2 L630.5 252.2 L631.4 253.2 L632.2 254.2 L633.1 255.2 L633.9 256.2 L634.8 257.2 L635.6 258.2 L636.5 259.2 L637.3 260.2 L638.2 261.2 L639.0 262.2 L639.8 263.2 L640.7 264.2 L641.5 265.2 L642.4 266.2 L643.2 267.2 L644.1 268.2 L644.9 269.2 L645.8 270.2 L646.7 271.2 L647.6 272.2 L648.5 273.2 L649.4 274.2 L650.4 275.2 L651.3 276.2 L652.3 277.2 L653.2 278.2 L654.2 279.2 L655.3 280.2 L656.3 281.2 L657.4 282.2 L658.4 283.2 L659.5 284.2 L660.7 285.2 L661.8 286.2 L663.0 287.2 L664.2 288.2 L665.5 289.2 L666.7 290.2M687.7 305.2 L689.1 306.2 L690.6 307.2 L692.0 308.2 L693.4 309.2 L694.9 310.2 L696.3 311.2 L697.7 312.2 L699.1 313.2 L700.4 314.2 L701.8 315.2 L703.1 316.2 L704.4 317.2 L705.7 318.2 L707.0 319.2 L708.2 320.2 L709.4 321.2 L710.6 322.2 L711.7 323.2 L712.8 324.2 L713.9 325.2 L714.9 326.2 L715.9 327.2 L716.9 328.2 L717.8 329.2 L718.7 330.2 L719.5 331.2 L720.3 332.2 L721.1 333.2 L721.8 334.2 L722.5 335.2 L723.1 336.2 L723.7 337.2 L724.3 338.2 L724.8 339.2 L725.2 340.2 L725.7 341.2 L726.0 342.2 L726.4 343.2 L726.6 344.2 L726.9 345.2 L727.1 346.2 L727.2 347.2 L727.3 348.2 L727.3 349.2 L727.3 350.2 L727.3 351.2 L727.2 352.2 L727.0 353.2 L726.8 354.2 L726.6 355.2 L726.3 356.2 L725.9 357.2 L725.5 358.2 L725.0 359.2 L724.5 360.2 L723.9 361.2 L723.3 362.2 L722.6 363.2 L721.9 364.2 L721.1 365.2 L720.2 366.2 L719.3 367.2 L718.3 368.2 L717.3 369.2 L716.2 370.2 L715.1 371.2 L713.9 372.2 L712.7 373.2 L711.4 374.2 L710.1 375.2 L708.8 376.2 L707.4 377.2 L706.0 378.2 L704.6 379.2 L703.1 380.2 L701.6 381.2 L700.1 382.2 L698.6 383.2 L697.1 384.2 L695.6 385.2 L694.1 386.2 L692.5 387.2 L691.0 388.2 L689.4 389.2 L687.8 390.2 L686.2 391.2 L684.6 392.2 L683.0 393.2 L681.4 394.2 L679.7 395.2 L678.0 396.2 L676.2 397.2 L674.4 398.2 L672.6 399.2 L670.8 400.2 L668.9 401.2 L667.0 402.2 L665.0 403.2 L663.0 404.2 L660.9 405.2 L658.7 406.2 L656.5 407.2 L654.3 408.2 L652.0 409.2 L649.6 410.2 L647.2 411.2 L644.7 412.2 L642.1 413.2 L639.6 414.2 L637.0 415.2 L634.4 416.2 L631.8 417.2 L629.2 418.2 L626.7 419.2 L624.2 420.2 L621.7 421.2 L619.3 422.2 L617.0 423.2 L614.7 424.2 L612.6 425.2 L610.5 426.2 L608.6 427.2 L606.7 428.2 L605.0 429.2 L603.4 430.2 L601.9 431.2 L600.5 432.2 L599.1 433.2 L597.9 434.2 L596.8 435.2 L595.7 436.2 L594.8 437.2 L593.9 438.2 L593.1 439.2 L592.4 440.2 L591.8 441.2 L591.2 442.2 L590.8 443.2 L590.4 444.2 L590.0 445.2 L589.8 446.2 L589.6 447.2 L589.5 448.2 L589.4 449.2 L589.4 450.2 L589.5 451.2 L589.6 452.2 L589.8 453.2 L590.0 454.2 L590.3 455.2 L590.6 456.2 L591.0 457.2 L591.4 458.2 L591.9 459.2 L592.4 460.2 L593.0 461.2 L593.5 462.2 L594.2 463.2 L594.8 464.2 L595.5 465.2 L596.2 466.2 L597.0 467.2 L597.7 468.2 L598.5 469.2 L599.3 470.2 L600.2 471.2 L601.0 472.2 L601.9 473.2 L602.8 474.2 L603.7 475.2 L604.6 476.2 L605.5 477.2 L606.4 478.2 L607.3 479.2 L608.3 480.2 L609.2 481.2 L610.1 482.2 L611.1 483.2 L612.0 484.2 L612.9 485.2 L613.8 486.2 L614.7 487.2 L615.6 488.2 L616.4 489.2 L617.3 490.2 L618.1 491.2 L618.9 492.2 L619.7 493.2 L620.5 494.2 L621.2 495.2 L621.9 496.2 L622.6 497.2 L623.3 498.2 L623.9 499.2 L624.5 500.2M637.7 520.2 L638.6 521.2 L639.6 522.2 L640.5 523.2 L641.6 524.2 L642.6 525.2 L643.7 526.2 L644.8 527.2 L646.0 528.2 L647.2 529.2 L648.4 530.2 L649.7 531.2 L651.0 532.2 L652.3 533.2 L653.6 534.2 L655.0 535.2 L656.3 536.2 L657.7 537.2 L659.2 538.2 L660.6 539.2 L662.1 540.2 L663.5 541.2 L665.0 542.2 L666.5 543.2 L668.0 544.2 L669.5 545.2 L671.0 546.2 L672.6 547.2 L674.1 548.2 L675.7 549.2 L677.2 550.2 L678.7 551.2 L680.3 552.2 L681.8 553.2 L683.4 554.2 L684.9 555.2 L686.4 556.2 L687.9 557.2 L689.4 558.2 L690.9 559.2 L692.4 560.2 L693.9 561.2 L695.4 562.2 L696.8 563.2 L698.2 564.2 L699.6 565.2 L701.0 566.2 L702.4 567.2 L703.7 568.2 L705.1 569.2 L706.4 570.2 L707.6 571.2 L708.9 572.2 L710.1 573.2 L711.3 574.2 L712.4 575.2 L713.5 576.2 L714.6 577.2 L715.6 578.2 L716.6 579.2 L717.6 580.2 L718.5 581.2 L719.4 582.2 L720.2 583.2 L721.0 584.2 L721.7 585.2 L722.5 586.2 L723.1 587.2 L723.7 588.2 L724.3 589.2 L724.8 590.2 L725.3 591.2 L725.8 592.2 L726.2 593.2 L726.5 594.2 L726.8 595.2 L727.1 596.2 L727.3 597.2 L727.4 598.2 L727.5 599.2 L727.6 600.2 L727.6 601.2 L727.6 602.2 L727.5 603.2 L727.4 604.2 L727.2 605.2 L727.0 606.2 L726.7 607.2 L726.4 608.2 L726.0 609.2 L725.5 610.2 L725.1 611.2 L724.5 612.2 L723.9 613.2 L723.3 614.2 L722.6 615.2 L721.9 616.2 L721.1 617.2 L720.2 618.2 L719.3 619.2 L718.3 620.2 L717.3 621.2 L716.3 622.2 L715.1 623.2 L713.9 624.2 L712.7 625.2 L711.4 626.2 L710.1 627.2 L708.7 628.2 L707.2 629.2 L705.7 630.2 L704.1 631.2 L702.4 632.2 L700.8 633.2 L699.0 634.2 L697.2 635.2 L695.4 636.2 L693.5 637.2 L691.6 638.2 L689.7 639.2 L687.7 640.2 L685.7 641.2 L683.6 642.2 L681.5 643.2 L679.4 644.2 L677.3 645.2 L675.1 646.2 L673.0 647.2 L670.8 648.2 L668.6 649.2 L666.3 650.2 L664.1 651.2 L661.8 652.2 L659.6 653.2 L657.3 654.2 L655.1 655.2 L652.8 656.2 L650.5 657.2 L648.3 658.2 L646.0 659.2 L643.8 660.2 L641.5 661.2 L639.3 662.2 L637.1 663.2 L634.9 664.2 L632.7 665.2 L630.6 666.2 L628.5 667.2 L626.4 668.2 L624.3 669.2 L622.3 670.2 L620.2 671.2 L618.3 672.2 L616.3 673.2 L614.4 674.2 L612.6 675.2 L610.8 676.2 L609.0 677.2 L607.3 678.2 L605.6 679.2 L604.0 680.2 L603.2 680.7" stroke="#2e2a88"/>
<path d="M529.1 237.2 L530.1 238.2 L531.1 239.2 L532.1 240.2 L533.0 241.2 L533.9 242.2 L534.8 243.2 L535.7 244.2 L536.6 245.2 L537.4 246.2 L538.3 247.2 L539.1 248.2 L539.9 249.2 L540.7 250.2 L541.5 251.2 L542.3 252.2 L543.1 253.2 L543.9 254.2 L544.7 255.2 L545.5 256.2 L546.2 257.2 L547.0 258.2 L547.7 259.2 L548.5 260.2 L549.2 261.2 L550.0 262.2 L550.7 263.2 L551.5 264.2 L552.3 265.2 L553.0 266.2 L553.8 267.2 L554.5 268.2 L555.3 269.2 L556.1 270.2 L556.8 271.2 L557.6 272.2 L558.4 273.2 L559.2 274.2 L560.0 275.2 L560.8 276.2 L561.6 277.2 L562.5 278.2 L563.3 279.2 L564.2 280.2 L565.0 281.2 L565.9 282.2 L566.8 283.2 L567.7 284.2 L568.6 285.2 L569.6 286.2 L570.5 287.2 L571.5 288.2 L572.5 289.2 L573.5 290.2 L574.5 291.2 L575.5 292.2 L576.6 293.2 L577.7 294.2 L578.7 295.2 L579.8 296.2 L580.9 297.2 L582.0 298.2 L583.1 299.2 L584.2 300.2 L585.3 301.2 L586.3 302.2 L587.4 303.2 L588.5 304.2 L589.6 305.2 L590.7 306.2 L591.8 307.2 L592.9 308.2 L593.9 309.2 L595.0 310.2 L596.0 311.2 L597.0 312.2 L598.0 313.2 L599.0 314.2 L600.0 315.2 L601.0 316.2 L601.9 317.2 L602.8 318.2 L603.7 319.2 L604.6 320.2 L605.4 321.2 L606.2 322.2 L607.0 323.2 L607.8 324.2 L608.5 325.2 L609.2 326.2 L609.9 327.2 L610.5 328.2 L611.1 329.2 L611.7 330.2 L612.2 331.2 L612.7 332.2 L613.2 333.2 L613.6 334.2 L614.0 335.2 L614.4 336.2 L614.7 337.2 L615.0 338.2 L615.2 339.2 L615.4 340.2 L615.6 341.2 L615.8 342.2 L615.9 343.2 L615.9 344.2 L616.0 345.2 L615.9 346.2 L615.9 347.2 L615.8 348.2 L615.6 349.2 L615.5 350.2 L615.2 351.2 L615.0 352.2 L614.7 353.2 L614.3 354.2 L613.9 355.2 L613.5 356.2 L613.0 357.2 L612.5 358.2 L611.9 359.2 L611.3 360.2 L610.6 361.2 L609.9 362.2 L609.2 363.2 L608.4 364.2 L607.5 365.2 L606.6 366.2 L605.7 367.2 L604.7 368.2 L603.6 369.2 L602.6 370.2 L601.4 371.2 L600.3 372.2 L599.1 373.2 L597.8 374.2 L596.5 375.2 L595.2 376.2 L593.9 377.2 L592.5 378.2 L591.1 379.2 L589.7 380.2 L588.3 381.2 L586.9 382.2 L585.4 383.2 L583.9 384.2 L582.4 385.2 L580.9 386.2 L579.4 387.2 L577.9 388.2 L576.4 389.2 L574.9 390.2 L573.3 391.2 L571.8 392.2 L570.2 393.2 L568.6 394.2 L567.0 395.2 L565.3 396.2 L563.7 397.2 L562.0 398.2 L560.3 399.2 L558.6 400.2 L556.8 401.2 L555.1 402.2 L553.3 403.2 L551.4 404.2 L549.6 405.2 L547.7 406.2 L545.7 407.2 L543.8 408.2 L541.8 409.2 L539.7 410.2 L537.6 411.2 L535.5 412.2 L533.4 413.2 L531.2 414.2 L529.0 415.2 L526.9 416.2 L524.7 417.2 L522.6 418.2 L520.4 419.2 L518.4 420.2 L516.3 421.2 L514.4 422.2 L512.4 423.2 L510.6 424.2 L508.8 425.2 L507.1 426.2 L505.5 427.2 L504.0 428.2 L502.6 429.2 L501.3 430.2 L500.0 431.2 L498.8 432.2 L497.7 433.2 L496.7 434.2 L495.8 435.2 L495.0 436.2 L494.2 437.2 L493.5 438.2 L492.9 439.2 L492.4 440.2 L491.9 441.2 L491.5 442.2 L491.2 443.2 L490.9 444.2 L490.8 445.2 L490.6 446.2 L490.6 447.2 L490.6 448.2 L490.7 449.2 L490.8 450.2 L491.0 451.2 L491.3 452.2 L491.6 453.2 L491.9 454.2 L492.3 455.2 L492.8 456.2 L493.3 457.2 L493.8 458.2 L494.4 459.2 L495.0 460.2 L495.7 461.2 L496.4 462.2 L497.1 463.2 L497.9 464.2 L498.7 465.2 L499.5 466.2 L500.3 467.2 L501.2 468.2 L502.1 469.2 L503.0 470.2 L503.9 471.2 L504.8 472.2 L505.8 473.2 L506.7 474.2 L507.7 475.2 L508.7 476.2 L509.6 477.2 L510.6 478.2 L511.6 479.2 L512.6 480.2 L513.5 481.2 L514.5 482.2 L515.5 483.2 L516.5 484.2 L517.4 485.2 L518.4 486.2 L519.3 487.2 L520.2 488.2 L521.1 489.2 L522.0 490.2 L522.9 491.2 L523.7 492.2 L524.6 493.2 L525.4 494.2 L526.2 495.2 L526.9 496.2 L527.7 497.2 L528.4 498.2 L529.1 499.2 L529.7 500.2 L530.4 501.2 L531.0 502.2 L531.7 503.2 L532.3 504.2 L532.9 505.2 L533.5 506.2 L534.1 507.2 L534.7 508.2 L535.3 509.2 L535.9 510.2 L536.5 511.2 L537.1 512.2 L537.7 513.2 L538.4 514.2 L539.0 515.2 L539.6 516.2 L540.3 517.2 L541.0 518.2 L541.7 519.2 L542.5 520.2 L543.2 521.2 L544.0 522.2 L544.8 523.2 L545.6 524.2 L546.5 525.2 L547.4 526.2 L548.3 527.2 L549.2 528.2 L550.2 529.2 L551.2 530.2 L552.2 531.2 L553.2 532.2 L554.2 533.2 L555.3 534.2 L556.3 535.2 L557.4 536.2 L558.5 537.2 L559.7 538.2 L560.8 539.2 L561.9 540.2 L563.1 541.2 L564.3 542.2 L565.5 543.2 L566.6 544.2 L567.8 545.2 L569.0 546.2 L570.2 547.2 L571.4 548.2 L572.7 549.2 L573.9 550.2 L575.1 551.2 L576.3 552.2 L577.5 553.2 L578.6 554.2 L579.8 555.2 L581.0 556.2 L582.2 557.2 L583.3 558.2 L584.5 559.2 L585.6 560.2 L586.7 561.2 L587.9 562.2 L589.0 563.2 L590.0 564.2 L591.1 565.2 L592.1 566.2 L593.2 567.2 L594.2 568.2 L595.1 569.2 L596.1 570.2 L597.0 571.2 L597.9 572.2 L598.8 573.2 L599.7 574.2 L600.5 575.2 L601.3 576.2 L602.0 577.2 L602.8 578.2 L603.5 579.2 L604.1 580.2 L604.8 581.2 L605.3 582.2 L605.9 583.2 L606.4 584.2 L606.9 585.2 L607.4 586.2 L607.8 587.2 L608.1 588.2 L608.5 589.2 L608.8 590.2 L609.0 591.2 L609.3 592.2 L609.4 593.2 L609.6 594.2 L609.7 595.2 L609.8 596.2 L609.8 597.2 L609.8 598.2 L609.7 599.2 L609.7 600.2 L609.5 601.2 L609.4 602.2 L609.2 603.2 L608.9 604.2 L608.6 605.2 L608.3 606.2 L607.9 607.2 L607.5 608.2 L607.0 609.2 L606.5 610.2 L606.0 611.2 L605.4 612.2 L604.8 613.2 L604.1 614.2 L603.4 615.2 L602.6 616.2 L601.8 617.2 L601.0 618.2 L600.1 619.2 L599.1 620.2 L598.1 621.2 L597.1 622.2 L596.0 623.2 L594.9 624.2 L593.7 625.2 L592.5 626.2 L591.3 627.2 L590.0 628.2 L588.6 629.2 L587.2 630.2 L585.8 631.2 L584.3 632.2 L582.7 633.2 L581.2 634.2 L579.6 635.2 L577.9 636.2 L576.2 637.2 L574.5 638.2 L572.8 639.2 L571.0 640.2 L569.2 641.2 L567.4 642.2 L565.5 643.2 L563.6 644.2 L561.7 645.2 L559.8 646.2 L557.9 647.2 L556.0 648.2 L554.0 649.2 L552.1 650.2 L550.1 651.2 L548.1 652.2 L546.2 653.2 L544.2 654.2 L542.2 655.2 L540.2 656.2 L538.2 657.2 L536.3 658.2 L534.3 659.2 L532.4 660.2 L530.4 661.2 L528.5 662.2 L526.6 663.2 L524.7 664.2 L522.8 665.2 L520.9 666.2 L519.1 667.2 L517.3 668.2 L515.5 669.2 L513.7 670.2 L512.0 671.2 L510.3 672.2 L508.7 673.2 L507.0 674.2 L505.4 675.2 L503.9 676.2 L502.4 677.2 L500.9 678.2 L499.5 679.2 L498.2 680.2 L497.5 680.7" stroke="#3a2f9c"/>
<path d="M474.0 237.2 L474.9 238.2 L475.8 239.2 L476.7 240.2 L477.6 241.2 L478.5 242.2 L479.3 243.2 L480.1 244.2 L481.0 245.2 L481.8 246.2 L482.6 247.2 L483.4 248.2 L484.2 249.2 L485.0 250.2 L485.7 251.2 L486.5 252.2 L487.3 253.2 L488.0 254.2 L488.8 255.2 L489.5 256.2 L490.3 257.2 L491.0 258.2 L491.8 259.2 L492.5 260.2 L493.2 261.2 L494.0 262.2 L494.7 263.2 L495.4 264.2 L496.2 265.2 L496.9 266.2 L497.6 267.2 L498.4 268.2 L499.1 269.2 L499.8 270.2 L500.6 271.2 L501.3 272.2 L502.1 273.2 L502.8 274.2 L503.6 275.2 L504.4 276.2 L505.1 277.2 L505.9 278.2 L506.7 279.2 L507.5 280.2 L508.3 281.2 L509.1 282.2M525.9 301.2 L526.9 302.2 L527.8 303.2 L528.7 304.2 L529.6 305.2 L530.5 306.2 L531.4 307.2 L532.3 308.2 L533.1 309.2 L534.0 310.2 L534.8 311.2 L535.7 312.2 L536.5 313.2 L537.3 314.2 L538.1 315.2 L538.9 316.2 L539.6 317.2 L540.3 318.2 L541.0 319.2 L541.7 320.2 L542.4 321.2 L543.0 322.2 L543.7 323.2 L544.2 324.2 L544.8 325.2 L545.3 326.2 L545.9 327.2 L546.3 328.2 L546.8 329.2 L547.2 330.2 L547.6 331.2 L548.0 332.2 L548.3 333.2 L548.6 334.2 L548.9 335.2 L549.1 336.2 L549.3 337.2 L549.5 338.2 L549.6 339.2 L549.7 340.2 L549.8 341.2 L549.8 342.2 L549.8 343.2 L549.8 344.2 L549.7 345.2 L549.6 346.2 L549.5 347.2 L549.3 348.2 L549.1 349.2 L548.9 350.2 L548.6 351.2 L548.3 352.2 L547.9 353.2 L547.5 354.2 L547.1 355.2 L546.6 356.2 L546.1 357.2 L545.6 358.2 L545.0 359.2 L544.4 360.2 L543.7 361.2 L543.0 362.2 L542.2 363.2 L541.4 364.2 L540.6 365.2 L539.7 366.2 L538.8 367.2 L537.8 368.2 L536.8 369.2 L535.8 370.2 L534.7 371.2 L533.6 372.2 L532.4 373.2 L531.2 374.2 L530.0 375.2 L528.8 376.2 L527.5 377.2 L526.2 378.2 L524.9 379.2 L523.5 380.2 L522.2 381.2 L520.8 382.2 L519.4 383.2 L518.0 384.2 L516.6 385.2 L515.1 386.2 L513.7 387.2 L512.3 388.2 L510.8 389.2 L509.3 390.2 L507.9 391.2 L506.4 392.2 L504.9 393.2 L503.3 394.2 L501.8 395.2 L500.2 396.2 L498.7 397.2 L497.1 398.2 L495.5 399.2 L493.8 400.2 L492.2 401.2 L490.6 402.2 L488.9 403.2 L487.2 404.2 L485.5 405.2 L483.7 406.2 L481.9 407.2 L480.2 408.2 L478.3 409.2 L476.5 410.2 L474.6 411.2 L472.7 412.2 L470.8 413.2 L468.9 414.2 L467.0 415.2 L465.1 416.2 L463.2 417.2 L461.3 418.2 L459.4 419.2 L457.6 420.2 L455.9 421.2 L454.1 422.2 L452.5 423.2 L450.9 424.2 L449.3 425.2 L447.8 426.2 L446.5 427.2 L445.1 428.2 L443.9 429.2 L442.7 430.2 L441.7 431.2 L440.6 432.2 L439.7 433.2 L438.8 434.2 L438.0 435.2 L437.3 436.2 L436.7 437.2 L436.1 438.2 L435.6 439.2 L435.2 440.2 L434.8 441.2 L434.5 442.2 L434.3 443.2 L434.2 444.2 L434.1 445.2 L434.1 446.2 L434.1 447.2 L434.2 448.2 L434.4 449.2 L434.6 450.2 L434.9 451.2 L435.2 452.2 L435.6 453.2 L436.1 454.2 L436.6 455.2 L437.1 456.2 L437.7 457.2 L438.3 458.2 L438.9 459.2 L439.6 460.2 L440.4 461.2 L441.1 462.2 L441.9 463.2 L442.8 464.2 L443.6 465.2 L444.5 466.2 L445.4 467.2 L446.4 468.2 L447.3 469.2 L448.3 470.2 L449.2 471.2 L450.2 472.2 L451.2 473.2 L452.2 474.2 L453.2 475.2 L454.3 476.2 L455.3 477.2 L456.3 478.2 L457.3 479.2 L458.3 480.2 L459.4 481.2 L460.4 482.2 L461.4 483.2 L462.4 484.2 L463.4 485.2 L464.4 486.2 L465.3 487.2 L466.3 488.2 L467.2 489.2 L468.2 490.2 L469.1 491.2 L470.0 492.2 L470.8 493.2 L471.7 494.2 L472.5 495.2 L473.3 496.2 L474.1 497.2 L474.8 498.2 L475.6 499.2 L476.3 500.2 L477.0 501.2 L477.7 502.2 L478.3 503.2 L479.0 504.2 L479.6 505.2 L480.2 506.2 L480.9 507.2 L481.5 508.2 L482.1 509.2 L482.7 510.2 L483.3 511.2 L483.9 512.2 L484.5 513.2 L485.1 514.2 L485.7 515.2 L486.3 516.2 L487.0 517.2 L487.6 518.2 L488.3 519.2 L489.0 520.2 L489.6 521.2 L490.4 522.2 L491.1 523.2M503.0 537.2 L504.0 538.2 L505.0 539.2 L506.0 540.2 L507.0 541.2 L508.0 542.2 L509.0 543.2 L510.0 544.2 L511.0 545.2 L512.1 546.2 L513.1 547.2 L514.2 548.2 L515.2 549.2 L516.2 550.2 L517.3 551.2 L518.3 552.2 L519.3 553.2 L520.3 554.2 L521.3 555.2 L522.3 556.2 L523.3 557.2 L524.3 558.2 L525.3 559.2 L526.3 560.2 L527.2 561.2 L528.2 562.2 L529.1 563.2 L530.0 564.2 L530.9 565.2 L531.8 566.2 L532.6 567.2 L533.5 568.2 L534.3 569.2 L535.1 570.2 L535.8 571.2 L536.6 572.2 L537.3 573.2 L538.0 574.2 L538.7 575.2 L539.3 576.2 L539.9 577.2 L540.5 578.2 L541.0 579.2 L541.6 580.2 L542.1 581.2 L542.5 582.2 L542.9 583.2 L543.3 584.2 L543.7 585.2 L544.0 586.2 L544.3 587.2 L544.6 588.2 L544.8 589.2 L545.0 590.2 L545.2 591.2 L545.3 592.2 L545.4 593.2 L545.5 594.2 L545.5 595.2 L545.5 596.2 L545.5 597.2 L545.4 598.2 L545.3 599.2 L545.1 600.2 L544.9 601.2 L544.7 602.2 L544.5 603.2 L544.2 604.2 L543.8 605.2 L543.5 606.2 L543.1 607.2 L542.6 608.2 L542.2 609.2 L541.6 610.2 L541.1 611.2 L540.5 612.2 L539.9 613.2 L539.2 614.2 L538.5 615.2 L537.8 616.2 L537.0 617.2 L536.1 618.2 L535.3 619.2 L534.4 620.2 L533.4 621.2 L532.5 622.2 L531.4 623.2 L530.4 624.2 L529.3 625.2 L528.1 626.2 L526.9 627.2 L525.7 628.2 L524.4 629.2 L523.1 630.2 L521.8 631.2 L520.4 632.2 L519.0 633.2 L517.5 634.2 L516.0 635.2 L514.5 636.2 L512.9 637.2 L511.3 638.2 L509.7 639.2 L508.1 640.2 L506.4 641.2 L504.7 642.2 L503.0 643.2 L501.3 644.2 L499.6 645.2 L497.8 646.2 L496.1 647.2 L494.3 648.2 L492.5 649.2 L490.7 650.2 L488.9 651.2 L487.1 652.2 L485.3 653.2 L483.5 654.2 L481.7 655.2 L479.9 656.2 L478.1 657.2 L476.3 658.2 L474.5 659.2 L472.8 660.2 L471.0 661.2 L469.2 662.2 L467.5 663.2 L465.8 664.2 L464.1 665.2 L462.4 666.2 L460.7 667.2 L459.1 668.2 L457.5 669.2 L455.9 670.2 L454.4 671.2 L452.8 672.2 L451.3 673.2 L449.9 674.2 L448.4 675.2 L447.1 676.2 L445.7 677.2 L444.4 678.2 L443.1 679.2 L441.9 680.2 L441.4 680.7" stroke="#3a58b0"/>
<path d="M437.6 237.2 L438.5 238.2 L439.4 239.2 L440.2 240.2 L441.1 241.2 L441.9 242.2 L442.7 243.2 L443.5 244.2 L444.3 245.2 L445.1 246.2 L445.9 247.2 L446.7 248.2 L447.4 249.2 L448.2 250.2 L449.0 251.2 L449.7 252.2 L450.5 253.2 L451.2 254.2 L452.0 255.2 L452.7 256.2 L453.4 257.2 L454.2 258.2 L454.9 259.2 L455.6 260.2 L456.3 261.2 L457.1 262.2 L457.8 263.2 L458.5 264.2 L459.2 265.2 L459.9 266.2 L460.7 267.2 L461.4 268.2 L462.1 269.2 L462.8 270.2 L463.5 271.2 L464.3 272.2 L465.0 273.2 L465.7 274.2 L466.4 275.2 L467.2 276.2 L467.9 277.2 L468.6 278.2 L469.4 279.2 L470.1 280.2 L470.9 281.2 L471.6 282.2 L472.4 283.2 L473.2 284.2 L473.9 285.2 L474.7 286.2 L475.5 287.2 L476.3 288.2 L477.1 289.2 L477.9 290.2 L478.7 291.2 L479.5 292.2 L480.3 293.2 L481.1 294.2 L482.0 295.2 L482.8 296.2 L483.6 297.2 L484.4 298.2 L485.2 299.2 L486.0 300.2 L486.8 301.2 L487.7 302.2 L488.5 303.2 L489.2 304.2 L490.0 305.2 L490.8 306.2 L491.6 307.2 L492.3 308.2 L493.1 309.2 L493.8 310.2 L494.5 311.2 L495.2 312.2 L495.9 313.2 L496.6 314.2 L497.3 315.2 L497.9 316.2 L498.6 317.2 L499.2 318.2 L499.8 319.2 L500.3 320.2 L500.9 321.2 L501.4 322.2 L501.9 323.2 L502.4 324.2 L502.8 325.2 L503.3 326.2 L503.7 327.2 L504.0 328.2 L504.4 329.2 L504.7 330.2 L505.0 331.2 L505.3 332.2 L505.5 333.2 L505.7 334.2 L505.9 335.2 L506.1 336.2 L506.2 337.2 L506.3 338.2 L506.4 339.2 L506.4 340.2 L506.4 341.2 L506.4 342.2 L506.3 343.2 L506.2 344.2 L506.1 345.2 L506.0 346.2 L505.8 347.2 L505.6 348.2 L505.3 349.2 L505.0 350.2 L504.7 351.2 L504.4 352.2 L504.0 353.2 L503.5 354.2 L503.1 355.2 L502.6 356.2 L502.1 357.2 L501.5 358.2 L500.9 359.2 L500.3 360.2 L499.6 361.2 L498.9 362.2 L498.1 363.2 L497.3 364.2 L496.5 365.2 L495.6 366.2 L494.7 367.2 L493.8 368.2 L492.8 369.2 L491.8 370.2 L490.7 371.2 L489.6 372.2 L488.5 373.2 L487.4 374.2 L486.2 375.2 L485.0 376.2 L483.7 377.2 L482.5 378.2 L481.2 379.2 L479.9 380.2 L478.6 381.2 L477.3 382.2 L475.9 383.2 L474.6 384.2 L473.2 385.2 L471.8 386.2 L470.4 387.2 L469.0 388.2 L467.6 389.2 L466.2 390.2 L464.7 391.2 L463.3 392.2 L461.8 393.2 L460.3 394.2 L458.9 395.2 L457.3 396.2 L455.8 397.2 L454.3 398.2 L452.8 399.2 L451.2 400.2 L449.6 401.2 L448.1 402.2 L446.5 403.2 L444.8 404.2 L443.2 405.2 L441.6 406.2 L439.9 407.2 L438.2 408.2 L436.5 409.2 L434.8 410.2 L433.1 411.2 L431.3 412.2 L429.6 413.2 L427.8 414.2 L426.1 415.2 L424.3 416.2 L422.6 417.2 L420.9 418.2 L419.3 419.2 L417.6 420.2 L416.0 421.2 L414.5 422.2 L413.0 423.2 L411.5 424.2 L410.1 425.2 L408.8 426.2 L407.5 427.2 L406.4 428.2 L405.2 429.2 L404.2 430.2 L403.2 431.2 L402.3 432.2 L401.5 433.2 L400.7 434.2 L400.0 435.2 L399.3 436.2 L398.8 437.2 L398.3 438.2 L397.9 439.2 L397.5 440.2 L397.2 441.2 L397.0 442.2 L396.8 443.2 L396.8 444.2 L396.7 445.2 L396.8 446.2 L396.9 447.2 L397.1 448.2 L397.3 449.2 L397.6 450.2 L397.9 451.2 L398.3 452.2 L398.8 453.2 L399.2 454.2 L399.8 455.2 L400.4 456.2 L401.0 457.2 L401.7 458.2 L402.4 459.2 L403.1 460.2 L403.9 461.2 L404.7 462.2 L405.6 463.2 L406.5 464.2 L407.4 465.2 L408.3 466.2 L409.3 467.2 L410.2 468.2 L411.2 469.2 L412.2 470.2 L413.2 471.2 L414.3 472.2 L415.3 473.2 L416.3 474.2 L417.4 475.2 L418.4 476.2 L419.5 477.2 L420.5 478.2 L421.6 479.2 L422.6 480.2 L423.7 481.2 L424.7 482.2 L425.7 483.2 L426.8 484.2 L427.8 485.2 L428.8 486.2 L429.8 487.2 L430.7 488.2 L431.7 489.2 L432.7 490.2 L433.6 491.2 L434.5 492.2 L435.4 493.2 L436.3 494.2 L437.1 495.2 L438.0 496.2 L438.8 497.2 L439.6 498.2 L440.3 499.2 L441.1 500.2 L441.8 501.2 L442.5 502.2 L443.2 503.2 L443.8 504.2 L444.5 505.2 L445.1 506.2 L445.8 507.2 L446.4 508.2 L447.0 509.2 L447.6 510.2 L448.2 511.2 L448.8 512.2 L449.4 513.2 L450.0 514.2 L450.6 515.2 L451.2 516.2 L451.8 517.2 L452.4 518.2 L453.1 519.2 L453.7 520.2 L454.3 521.2 L455.0 522.2 L455.7 523.2 L456.4 524.2 L457.1 525.2 L457.8 526.2 L458.5 527.2 L459.3 528.2 L460.0 529.2 L460.8 530.2 L461.5 531.2 L462.3 532.2 L463.1 533.2 L463.9 534.2 L464.8 535.2 L465.6 536.2 L466.5 537.2 L467.3 538.2 L468.2 539.2 L469.1 540.2 L470.0 541.2 L470.9 542.2 L471.8 543.2 L472.7 544.2 L473.6 545.2 L474.5 546.2 L475.5 547.2 L476.4 548.2 L477.3 549.2 L478.2 550.2 L479.2 551.2 L480.1 552.2 L481.0 553.2 L481.9 554.2 L482.8 555.2 L483.7 556.2 L484.6 557.2 L485.4 558.2 L486.3 559.2 L487.2 560.2 L488.0 561.2 L488.8 562.2 L489.6 563.2 L490.4 564.2 L491.2 565.2 L492.0 566.2 L492.7 567.2 L493.5 568.2 L494.2 569.2 L494.8 570.2 L495.5 571.2 L496.1 572.2 L496.8 573.2 L497.3 574.2 L497.9 575.2 L498.5 576.2 L499.0 577.2 L499.4 578.2 L499.9 579.2 L500.3 580.2 L500.7 581.2 L501.1 582.2 L501.5 583.2 L501.8 584.2 L502.0 585.2 L502.3 586.2 L502.5 587.2 L502.7 588.2 L502.9 589.2 L503.0 590.2 L503.1 591.2 L503.2 592.2 L503.2 593.2 L503.2 594.2 L503.2 595.2 L503.1 596.2 L503.0 597.2 L502.9 598.2 L502.8 599.2 L502.6 600.2 L502.4 601.2 L502.1 602.2 L501.8 603.2 L501.5 604.2 L501.2 605.2 L500.8 606.2 L500.4 607.2 L499.9 608.2 L499.4 609.2 L498.9 610.2 L498.3 611.2 L497.7 612.2 L497.1 613.2 L496.4 614.2 L495.7 615.2 L495.0 616.2 L494.2 617.2 L493.4 618.2 L492.6 619.2 L491.7 620.2 L490.8 621.2 L489.9 622.2 L488.9 623.2 L487.8 624.2 L486.8 625.2 L485.7 626.2 L484.5 627.2 L483.4 628.2 L482.2 629.2 L480.9 630.2 L479.6 631.2 L478.3 632.2 L476.9 633.2 L475.5 634.2 L474.1 635.2 L472.7 636.2 L471.2 637.2 L469.7 638.2 L468.2 639.2 L466.6 640.2 L465.1 641.2 L463.5 642.2 L461.9 643.2 L460.3 644.2 L458.6 645.2 L457.0 646.2 L455.3 647.2 L453.6 648.2 L452.0 649.2 L450.3 650.2 L448.6 651.2 L446.9 652.2 L445.2 653.2 L443.5 654.2 L441.8 655.2 L440.2 656.2 L438.5 657.2 L436.8 658.2 L435.1 659.2 L433.5 660.2 L431.8 661.2 L430.2 662.2 L428.6 663.2 L427.0 664.2 L425.4 665.2 L423.8 666.2 L422.3 667.2 L420.8 668.2 L419.3 669.2 L417.8 670.2 L416.4 671.2 L415.0 672.2 L413.6 673.2 L412.2 674.2 L410.9 675.2 L409.6 676.2 L408.4 677.2 L407.2 678.2 L406.0 679.2 L404.9 680.2 L404.4 680.7" stroke="#3a62c0"/>
<path d="M412.8 237.2 L413.6 238.2 L414.5 239.2 L415.3 240.2 L416.1 241.2 L416.9 242.2 L417.7 243.2 L418.5 244.2 L419.2 245.2 L420.0 246.2 L420.8 247.2 L421.5 248.2 L422.3 249.2 L423.1 250.2 L423.8 251.2 L424.5 252.2 L425.3 253.2 L426.0 254.2 L426.8 255.2 L427.5 256.2 L428.2 257.2 L428.9 258.2 L429.7 259.2 L430.4 260.2 L431.1 261.2 L431.8 262.2 L432.5 263.2 L433.2 264.2 L433.9 265.2 L434.6 266.2 L435.4 267.2 L436.1 268.2 L436.8 269.2 L437.5 270.2 L438.2 271.2 L438.9 272.2 L439.6 273.2 L440.3 274.2 L441.0 275.2 L441.7 276.2 L442.4 277.2 L443.1 278.2 L443.9 279.2 L444.6 280.2M459.4 300.2 L460.1 301.2 L460.8 302.2 L461.6 303.2 L462.3 304.2 L463.0 305.2 L463.7 306.2 L464.3 307.2 L465.0 308.2 L465.7 309.2 L466.3 310.2 L467.0 311.2 L467.6 312.2 L468.2 313.2 L468.8 314.2 L469.4 315.2 L469.9 316.2 L470.5 317.2 L471.0 318.2 L471.5 319.2 L472.0 320.2 L472.5 321.2 L472.9 322.2 L473.3 323.2 L473.7 324.2 L474.1 325.2 L474.5 326.2 L474.8 327.2 L475.1 328.2 L475.4 329.2 L475.6 330.2 L475.9 331.2 L476.1 332.2 L476.3 333.2 L476.4 334.2 L476.5 335.2 L476.6 336.2 L476.7 337.2 L476.8 338.2 L476.8 339.2 L476.8 340.2 L476.7 341.2 L476.6 342.2 L476.6 343.2 L476.4 344.2 L476.3 345.2 L476.1 346.2 L475.9 347.2 L475.6 348.2 L475.3 349.2 L475.0 350.2 L474.7 351.2 L474.3 352.2 L473.9 353.2 L473.4 354.2 L473.0 355.2 L472.5 356.2 L471.9 357.2 L471.3 358.2 L470.7 359.2 L470.1 360.2 L469.4 361.2 L468.7 362.2 L467.9 363.2 L467.2 364.2 L466.3 365.2 L465.5 366.2 L464.6 367.2 L463.7 368.2 L462.7 369.2 L461.7 370.2 L460.6 371.2 L459.6 372.2 L458.5 373.2 L457.4 374.2 L456.2 375.2 L455.0 376.2 L453.8 377.2 L452.6 378.2 L451.3 379.2 L450.1 380.2 L448.8 381.2 L447.5 382.2 L446.2 383.2 L444.8 384.2 L443.5 385.2 L442.1 386.2 L440.8 387.2 L439.4 388.2 L438.0 389.2 L436.6 390.2 L435.2 391.2 L433.8 392.2 L432.4 393.2 L430.9 394.2 L429.5 395.2 L428.0 396.2 L426.5 397.2 L425.0 398.2 L423.5 399.2 L422.0 400.2 L420.5 401.2 L419.0 402.2 L417.4 403.2 L415.9 404.2 L414.3 405.2 L412.7 406.2 L411.1 407.2 L409.5 408.2 L407.9 409.2 L406.3 410.2 L404.7 411.2 L403.0 412.2 L401.4 413.2 L399.7 414.2 L398.1 415.2 L396.5 416.2 L394.9 417.2 L393.3 418.2 L391.8 419.2 L390.2 420.2 L388.7 421.2 L387.3 422.2 L385.9 423.2 L384.6 424.2 L383.3 425.2 L382.1 426.2 L380.9 427.2 L379.8 428.2 L378.8 429.2 L377.8 430.2 L376.9 431.2 L376.1 432.2 L375.3 433.2 L374.6 434.2 L373.9 435.2 L373.4 436.2 L372.8 437.2 L372.4 438.2 L372.0 439.2 L371.7 440.2 L371.5 441.2 L371.3 442.2 L371.2 443.2 L371.2 444.2 L371.2 445.2 L371.3 446.2 L371.4 447.2 L371.6 448.2 L371.9 449.2 L372.2 450.2 L372.6 451.2 L373.0 452.2 L373.5 453.2 L374.0 454.2 L374.6 455.2 L375.2 456.2 L375.9 457.2 L376.6 458.2 L377.4 459.2 L378.2 460.2 L379.0 461.2 L379.8 462.2 L380.7 463.2 L381.6 464.2 L382.6 465.2 L383.5 466.2 L384.5 467.2 L385.5 468.2 L386.5 469.2 L387.6 470.2 L388.6 471.2 L389.6 472.2 L390.7 473.2 L391.8 474.2 L392.8 475.2 L393.9 476.2 L395.0 477.2 L396.0 478.2 L397.1 479.2 L398.2 480.2 L399.2 481.2 L400.3 482.2 L401.3 483.2 L402.4 484.2 L403.4 485.2 L404.4 486.2 L405.4 487.2 L406.4 488.2 L407.4 489.2 L408.4 490.2 L409.3 491.2 L410.3 492.2 L411.2 493.2 L412.1 494.2 L412.9 495.2 L413.8 496.2 L414.6 497.2 L415.4 498.2 L416.2 499.2 L417.0 500.2 L417.7 501.2 L418.4 502.2 L419.1 503.2 L419.8 504.2 L420.5 505.2 L421.1 506.2 L421.7 507.2 L422.4 508.2 L423.0 509.2 L423.6 510.2 L424.2 511.2 L424.8 512.2 L425.4 513.2 L426.0 514.2 L426.6 515.2 L427.2 516.2 L427.8 517.2 L428.4 518.2 L429.0 519.2 L429.6 520.2 L430.2 521.2 L430.8 522.2 L431.5 523.2 L432.1 524.2 L432.8 525.2 L433.4 526.2 L434.1 527.2M447.2 544.2 L448.0 545.2 L448.9 546.2 L449.7 547.2 L450.6 548.2 L451.4 549.2 L452.3 550.2 L453.1 551.2 L453.9 552.2 L454.8 553.2 L455.6 554.2 L456.4 555.2 L457.2 556.2 L458.0 557.2 L458.8 558.2 L459.6 559.2 L460.4 560.2 L461.2 561.2 L461.9 562.2 L462.7 563.2 L463.4 564.2 L464.1 565.2 L464.8 566.2 L465.4 567.2 L466.1 568.2 L466.7 569.2 L467.3 570.2 L467.9 571.2 L468.5 572.2 L469.0 573.2 L469.5 574.2 L470.0 575.2 L470.5 576.2 L470.9 577.2 L471.4 578.2 L471.8 579.2 L472.1 580.2 L472.5 581.2 L472.8 582.2 L473.1 583.2 L473.3 584.2 L473.5 585.2 L473.7 586.2 L473.9 587.2 L474.1 588.2 L474.2 589.2 L474.3 590.2 L474.3 591.2 L474.3 592.2 L474.3 593.2 L474.3 594.2 L474.2 595.2 L474.2 596.2 L474.0 597.2 L473.9 598.2 L473.7 599.2 L473.5 600.2 L473.2 601.2 L473.0 602.2 L472.7 603.2 L472.3 604.2 L472.0 605.2 L471.6 606.2 L471.1 607.2 L470.7 608.2 L470.2 609.2 L469.6 610.2 L469.1 611.2 L468.5 612.2 L467.9 613.2 L467.2 614.2 L466.5 615.2 L465.8 616.2 L465.0 617.2 L464.2 618.2 L463.4 619.2 L462.5 620.2 L461.6 621.2 L460.7 622.2 L459.7 623.2 L458.7 624.2 L457.7 625.2 L456.6 626.2 L455.5 627.2 L454.4 628.2 L453.2 629.2 L452.0 630.2 L450.8 631.2 L449.5 632.2 L448.2 633.2 L446.8 634.2 L445.5 635.2 L444.1 636.2 L442.7 637.2 L441.2 638.2 L439.8 639.2 L438.3 640.2 L436.8 641.2 L435.2 642.2 L433.7 643.2 L432.2 644.2 L430.6 645.2 L429.0 646.2 L427.4 647.2 L425.8 648.2 L424.2 649.2 L422.6 650.2 L421.0 651.2 L419.4 652.2 L417.8 653.2 L416.2 654.2 L414.6 655.2 L413.0 656.2 L411.4 657.2 L409.8 658.2 L408.2 659.2 L406.6 660.2 L405.1 661.2 L403.5 662.2 L402.0 663.2 L400.4 664.2 L398.9 665.2 L397.5 666.2 L396.0 667.2 L394.6 668.2 L393.1 669.2 L391.7 670.2 L390.4 671.2 L389.0 672.2 L387.7 673.2 L386.4 674.2 L385.2 675.2 L384.0 676.2 L382.8 677.2 L381.7 678.2 L380.6 679.2 L379.6 680.2 L379.0 680.7" stroke="#3a70c0"/>
<path d="M394.0 237.2 L394.8 238.2 L395.6 239.2 L396.4 240.2 L397.2 241.2 L398.0 242.2 L398.7 243.2 L399.5 244.2 L400.3 245.2 L401.0 246.2 L401.8 247.2 L402.5 248.2 L403.3 249.2 L404.0 250.2 L404.8 251.2 L405.5 252.2 L406.2 253.2 L407.0 254.2 L407.7 255.2 L408.4 256.2 L409.1 257.2 L409.9 258.2 L410.6 259.2 L411.3 260.2 L412.0 261.2 L412.7 262.2 L413.4 263.2 L414.1 264.2 L414.8 265.2 L415.5 266.2 L416.2 267.2 L416.9 268.2 L417.6 269.2 L418.3 270.2 L419.0 271.2 L419.7 272.2 L420.4 273.2 L421.1 274.2 L421.8 275.2 L422.5 276.2 L423.2 277.2 L423.8 278.2 L424.5 279.2 L425.2 280.2 L425.9 281.2 L426.6 282.2 L427.3 283.2 L428.0 284.2 L428.7 285.2 L429.4 286.2 L430.1 287.2 L430.8 288.2 L431.5 289.2 L432.2 290.2 L432.9 291.2 L433.7 292.2 L434.4 293.2 L435.1 294.2 L435.8 295.2 L436.5 296.2 L437.2 297.2 L437.8 298.2 L438.5 299.2 L439.2 300.2 L439.9 301.2 L440.5 302.2 L441.2 303.2 L441.9 304.2 L442.5 305.2 L443.1 306.2 L443.7 307.2 L444.4 308.2 L445.0 309.2 L445.5 310.2 L446.1 311.2 L446.7 312.2 L447.2 313.2 L447.7 314.2 L448.3 315.2 L448.8 316.2 L449.2 317.2 L449.7 318.2 L450.1 319.2 L450.6 320.2 L451.0 321.2 L451.4 322.2 L451.7 323.2 L452.1 324.2 L452.4 325.2 L452.7 326.2 L453.0 327.2 L453.2 328.2 L453.5 329.2 L453.7 330.2 L453.8 331.2 L454.0 332.2 L454.1 333.2 L454.2 334.2 L454.3 335.2 L454.4 336.2 L454.4 337.2 L454.4 338.2 L454.4 339.2 L454.3 340.2 L454.3 341.2 L454.2 342.2 L454.0 343.2 L453.9 344.2 L453.7 345.2 L453.5 346.2 L453.2 347.2 L452.9 348.2 L452.6 349.2 L452.3 350.2 L451.9 351.2 L451.6 352.2 L451.1 353.2 L450.7 354.2 L450.2 355.2 L449.7 356.2 L449.1 357.2 L448.5 358.2 L447.9 359.2 L447.3 360.2 L446.6 361.2 L445.9 362.2 L445.1 363.2 L444.3 364.2 L443.5 365.2 L442.7 366.2 L441.8 367.2 L440.9 368.2 L439.9 369.2 L438.9 370.2 L437.9 371.2 L436.8 372.2 L435.8 373.2 L434.6 374.2 L433.5 375.2 L432.4 376.2 L431.2 377.2 L430.0 378.2 L428.7 379.2 L427.5 380.2 L426.2 381.2 L424.9 382.2 L423.7 383.2 L422.3 384.2 L421.0 385.2 L419.7 386.2 L418.3 387.2 L417.0 388.2 L415.6 389.2 L414.3 390.2 L412.9 391.2 L411.5 392.2 L410.1 393.2 L408.7 394.2 L407.2 395.2 L405.8 396.2 L404.4 397.2 L402.9 398.2 L401.4 399.2 L399.9 400.2 L398.5 401.2 L397.0 402.2 L395.5 403.2 L394.0 404.2 L392.4 405.2 L390.9 406.2 L389.4 407.2 L387.8 408.2 L386.3 409.2 L384.7 410.2 L383.2 411.2 L381.6 412.2 L380.0 413.2 L378.5 414.2 L376.9 415.2 L375.4 416.2 L373.9 417.2 L372.4 418.2 L370.9 419.2 L369.5 420.2 L368.1 421.2 L366.8 422.2 L365.5 423.2 L364.2 424.2 L363.0 425.2 L361.8 426.2 L360.8 427.2 L359.7 428.2 L358.8 429.2 L357.9 430.2 L357.0 431.2 L356.2 432.2 L355.5 433.2 L354.8 434.2 L354.2 435.2 L353.7 436.2 L353.2 437.2 L352.8 438.2 L352.5 439.2 L352.2 440.2 L352.0 441.2 L351.9 442.2 L351.8 443.2 L351.8 444.2 L351.9 445.2 L352.0 446.2 L352.2 447.2 L352.4 448.2 L352.7 449.2 L353.1 450.2 L353.5 451.2 L353.9 452.2 L354.4 453.2 L355.0 454.2 L355.6 455.2 L356.2 456.2 L356.9 457.2 L357.7 458.2 L358.4 459.2 L359.3 460.2 L360.1 461.2 L361.0 462.2 L361.9 463.2 L362.8 464.2 L363.8 465.2 L364.8 466.2 L365.8 467.2 L366.8 468.2 L367.8 469.2 L368.9 470.2 L370.0 471.2 L371.0 472.2 L372.1 473.2 L373.2 474.2 L374.3 475.2 L375.4 476.2 L376.4 477.2 L377.5 478.2 L378.6 479.2 L379.7 480.2 L380.8 481.2 L381.8 482.2 L382.9 483.2 L383.9 484.2 L385.0 485.2 L386.0 486.2 L387.0 487.2 L388.0 488.2 L389.0 489.2 L390.0 490.2 L391.0 491.2 L391.9 492.2 L392.8 493.2 L393.8 494.2 L394.6 495.2 L395.5 496.2 L396.3 497.2 L397.2 498.2 L397.9 499.2 L398.7 500.2 L399.5 501.2 L400.2 502.2 L400.9 503.2 L401.6 504.2 L402.3 505.2 L402.9 506.2 L403.6 507.2 L404.2 508.2 L404.8 509.2 L405.4 510.2 L406.1 511.2 L406.6 512.2 L407.2 513.2 L407.8 514.2 L408.4 515.2 L409.0 516.2 L409.6 517.2 L410.2 518.2 L410.7 519.2 L411.3 520.2 L411.9 521.2 L412.5 522.2 L413.1 523.2 L413.8 524.2 L414.4 525.2 L415.0 526.2 L415.6 527.2 L416.3 528.2 L416.9 529.2 L417.6 530.2 L418.3 531.2 L419.0 532.2 L419.7 533.2 L420.4 534.2 L421.1 535.2 L421.8 536.2 L422.5 537.2 L423.3 538.2 L424.0 539.2 L424.8 540.2 L425.5 541.2 L426.3 542.2 L427.1 543.2 L427.9 544.2 L428.7 545.2 L429.4 546.2 L430.2 547.2 L431.0 548.2 L431.8 549.2 L432.6 550.2 L433.4 551.2 L434.2 552.2 L434.9 553.2 L435.7 554.2 L436.5 555.2 L437.2 556.2 L438.0 557.2 L438.7 558.2 L439.4 559.2 L440.2 560.2 L440.9 561.2 L441.6 562.2 L442.2 563.2 L442.9 564.2 L443.5 565.2 L444.2 566.2 L444.8 567.2 L445.4 568.2 L446.0 569.2 L446.5 570.2 L447.0 571.2 L447.6 572.2 L448.0 573.2 L448.5 574.2 L448.9 575.2 L449.4 576.2 L449.8 577.2 L450.1 578.2 L450.5 579.2 L450.8 580.2 L451.1 581.2 L451.4 582.2 L451.6 583.2 L451.8 584.2 L452.0 585.2 L452.2 586.2 L452.3 587.2 L452.4 588.2 L452.5 589.2 L452.5 590.2 L452.5 591.2 L452.5 592.2 L452.5 593.2 L452.4 594.2 L452.4 595.2 L452.2 596.2 L452.1 597.2 L451.9 598.2 L451.7 599.2 L451.5 600.2 L451.2 601.2 L450.9 602.2 L450.6 603.2 L450.2 604.2 L449.9 605.2 L449.5 606.2 L449.0 607.2 L448.5 608.2 L448.0 609.2 L447.5 610.2 L446.9 611.2 L446.3 612.2 L445.7 613.2 L445.1 614.2 L444.4 615.2 L443.7 616.2 L442.9 617.2 L442.1 618.2 L441.3 619.2 L440.4 620.2 L439.6 621.2 L438.7 622.2 L437.7 623.2 L436.7 624.2 L435.7 625.2 L434.7 626.2 L433.6 627.2 L432.5 628.2 L431.3 629.2 L430.2 630.2 L428.9 631.2 L427.7 632.2 L426.4 633.2 L425.1 634.2 L423.8 635.2 L422.4 636.2 L421.1 637.2 L419.7 638.2 L418.3 639.2 L416.8 640.2 L415.4 641.2 L413.9 642.2 L412.4 643.2 L410.9 644.2 L409.4 645.2 L407.9 646.2 L406.3 647.2 L404.8 648.2 L403.3 649.2 L401.7 650.2 L400.2 651.2 L398.6 652.2 L397.0 653.2 L395.5 654.2 L393.9 655.2 L392.4 656.2 L390.9 657.2 L389.3 658.2 L387.8 659.2 L386.3 660.2 L384.8 661.2 L383.3 662.2 L381.8 663.2 L380.4 664.2 L378.9 665.2 L377.5 666.2 L376.1 667.2 L374.7 668.2 L373.4 669.2 L372.0 670.2 L370.7 671.2 L369.4 672.2 L368.2 673.2 L367.0 674.2 L365.8 675.2 L364.6 676.2 L363.5 677.2 L362.4 678.2 L361.4 679.2 L360.4 680.2 L359.9 680.7" stroke="#3088d0"/>
<path d="M378.0 237.2 L378.8 238.2 L379.6 239.2 L380.4 240.2 L381.2 241.2 L381.9 242.2 L382.7 243.2 L383.5 244.2 L384.2 245.2 L385.0 246.2 L385.7 247.2 L386.4 248.2 L387.2 249.2 L387.9 250.2 L388.6 251.2 L389.4 252.2 L390.1 253.2 L390.8 254.2 L391.5 255.2 L392.3 256.2 L393.0 257.2 L393.7 258.2 L394.4 259.2 L395.1 260.2 L395.8 261.2 L396.5 262.2 L397.2 263.2 L397.9 264.2 L398.6 265.2 L399.3 266.2 L400.0 267.2 L400.7 268.2 L401.4 269.2 L402.1 270.2 L402.7 271.2 L403.4 272.2 L404.1 273.2 L404.8 274.2 L405.5 275.2 L406.1 276.2 L406.8 277.2 L407.5 278.2 L408.2 279.2 L408.9 280.2 L409.5 281.2 L410.2 282.2 L410.9 283.2 L411.6 284.2 L412.2 285.2 L412.9 286.2 L413.6 287.2 L414.2 288.2 L414.9 289.2 L415.6 290.2 L416.2 291.2 L416.9 292.2 L417.6 293.2 L418.2 294.2 L418.9 295.2 L419.6 296.2 L420.2 297.2 L420.8 298.2 L421.5 299.2 L422.1 300.2 L422.7 301.2 L423.3 302.2 L424.0 303.2 L424.6 304.2 L425.1 305.2 L425.7 306.2 L426.3 307.2 L426.8 308.2 L427.4 309.2 L427.9 310.2 L428.4 311.2 L428.9 312.2 L429.4 313.2 L429.9 314.2 L430.4 315.2 L430.8 316.2 L431.2 317.2 L431.6 318.2 L432.0 319.2 L432.4 320.2 L432.8 321.2 L433.1 322.2 L433.4 323.2 L433.7 324.2 L434.0 325.2 L434.2 326.2 L434.5 327.2 L434.7 328.2 L434.9 329.2 L435.0 330.2 L435.2 331.2 L435.3 332.2 L435.4 333.2 L435.4 334.2 L435.5 335.2 L435.5 336.2 L435.5 337.2 L435.5 338.2 L435.4 339.2 L435.3 340.2 L435.2 341.2 L435.1 342.2 L434.9 343.2 L434.8 344.2 L434.5 345.2 L434.3 346.2 L434.0 347.2 L433.7 348.2 L433.4 349.2 L433.1 350.2 L432.7 351.2 L432.3 352.2 L431.8 353.2 L431.4 354.2 L430.9 355.2 L430.3 356.2 L429.8 357.2 L429.2 358.2 L428.6 359.2 L427.9 360.2 L427.2 361.2 L426.5 362.2 L425.8 363.2 L425.0 364.2 L424.2 365.2 L423.3 366.2 L422.5 367.2 L421.5 368.2 L420.6 369.2 L419.6 370.2 L418.6 371.2 L417.6 372.2 L416.5 373.2 L415.4 374.2 L414.3 375.2 L413.1 376.2 L412.0 377.2 L410.8 378.2 L409.6 379.2 L408.4 380.2 L407.1 381.2 L405.9 382.2 L404.6 383.2 L403.3 384.2 L402.0 385.2 L400.7 386.2 L399.3 387.2 L398.0 388.2 L396.7 389.2 L395.3 390.2 L394.0 391.2 L392.6 392.2 L391.2 393.2 L389.8 394.2 L388.4 395.2 L387.0 396.2 L385.6 397.2 L384.1 398.2 L382.7 399.2 L381.2 400.2 L379.8 401.2 L378.3 402.2 L376.9 403.2 L375.4 404.2 L373.9 405.2 L372.4 406.2 L371.0 407.2 L369.5 408.2 L368.0 409.2 L366.5 410.2 L365.0 411.2 L363.5 412.2 L362.0 413.2 L360.5 414.2 L359.0 415.2 L357.6 416.2 L356.1 417.2 L354.7 418.2 L353.3 419.2 L352.0 420.2 L350.6 421.2 L349.4 422.2 L348.1 423.2 L346.9 424.2 L345.8 425.2 L344.7 426.2 L343.7 427.2 L342.7 428.2 L341.8 429.2 L340.9 430.2 L340.1 431.2 L339.4 432.2 L338.7 433.2 L338.1 434.2 L337.5 435.2 L337.0 436.2 L336.6 437.2 L336.2 438.2 L335.9 439.2 L335.7 440.2 L335.5 441.2 L335.4 442.2 L335.4 443.2 L335.4 444.2 L335.5 445.2 L335.6 446.2 L335.8 447.2 L336.1 448.2 L336.4 449.2 L336.8 450.2 L337.2 451.2 L337.7 452.2 L338.3 453.2 L338.8 454.2 L339.5 455.2 L340.1 456.2 L340.9 457.2 L341.6 458.2 L342.4 459.2 L343.2 460.2 L344.1 461.2 L345.0 462.2 L345.9 463.2 L346.9 464.2 L347.9 465.2 L348.9 466.2 L349.9 467.2 L351.0 468.2 L352.0 469.2 L353.1 470.2 L354.2 471.2 L355.3 472.2 L356.3 473.2 L357.4 474.2 L358.5 475.2 L359.6 476.2 L360.7 477.2 L361.8 478.2 L362.9 479.2 L364.0 480.2 L365.1 481.2 L366.2 482.2 L367.2 483.2 L368.3 484.2 L369.4 485.2 L370.4 486.2 L371.4 487.2 L372.5 488.2 L373.5 489.2 L374.5 490.2 L375.4 491.2 L376.4 492.2 L377.3 493.2 L378.2 494.2 L379.1 495.2 L380.0 496.2 L380.9 497.2 L381.7 498.2 L382.5 499.2 L383.3 500.2 L384.0 501.2 L384.8 502.2 L385.5 503.2 L386.2 504.2 L386.9 505.2 L387.5 506.2 L388.2 507.2 L388.8 508.2 L389.5 509.2 L390.1 510.2 L390.7 511.2 L391.3 512.2 L391.9 513.2 L392.4 514.2 L393.0 515.2 L393.6 516.2 L394.2 517.2 L394.7 518.2 L395.3 519.2 L395.9 520.2 L396.4 521.2 L397.0 522.2 L397.6 523.2 L398.2 524.2 L398.8 525.2 L399.4 526.2 L400.0 527.2 L400.6 528.2 L401.2 529.2 L401.9 530.2 L402.5 531.2 L403.1 532.2 L403.8 533.2 L404.4 534.2 L405.1 535.2 L405.8 536.2 L406.5 537.2 L407.2 538.2 L407.9 539.2 L408.6 540.2 L409.3 541.2 L410.0 542.2 L410.8 543.2 L411.5 544.2 L412.2 545.2 L413.0 546.2 L413.7 547.2 L414.5 548.2 L415.2 549.2 L415.9 550.2 L416.7 551.2 L417.4 552.2 L418.1 553.2 L418.8 554.2 L419.6 555.2 L420.3 556.2 L421.0 557.2 L421.7 558.2 L422.3 559.2 L423.0 560.2 L423.7 561.2 L424.3 562.2 L424.9 563.2 L425.5 564.2 L426.1 565.2 L426.7 566.2 L427.3 567.2 L427.8 568.2 L428.4 569.2 L428.9 570.2 L429.4 571.2 L429.8 572.2 L430.3 573.2 L430.7 574.2 L431.1 575.2 L431.5 576.2 L431.8 577.2 L432.1 578.2 L432.4 579.2 L432.7 580.2 L433.0 581.2 L433.2 582.2 L433.4 583.2 L433.6 584.2 L433.7 585.2 L433.8 586.2 L433.9 587.2 L434.0 588.2 L434.1 589.2 L434.1 590.2 L434.1 591.2 L434.1 592.2 L434.0 593.2 L433.9 594.2 L433.8 595.2 L433.7 596.2 L433.5 597.2 L433.3 598.2 L433.1 599.2 L432.8 600.2 L432.5 601.2 L432.2 602.2 L431.9 603.2 L431.5 604.2 L431.1 605.2 L430.7 606.2 L430.3 607.2 L429.8 608.2 L429.3 609.2 L428.8 610.2 L428.2 611.2 L427.6 612.2 L427.0 613.2 L426.3 614.2 L425.6 615.2 L424.9 616.2 L424.2 617.2 L423.4 618.2 L422.6 619.2 L421.7 620.2 L420.9 621.2 L420.0 622.2 L419.0 623.2 L418.1 624.2 L417.1 625.2 L416.1 626.2 L415.0 627.2 L413.9 628.2 L412.8 629.2 L411.6 630.2 L410.4 631.2 L409.2 632.2 L408.0 633.2 L406.7 634.2 L405.4 635.2 L404.1 636.2 L402.8 637.2 L401.4 638.2 L400.0 639.2 L398.6 640.2 L397.2 641.2 L395.8 642.2 L394.3 643.2 L392.9 644.2 L391.4 645.2 L389.9 646.2 L388.5 647.2 L387.0 648.2 L385.5 649.2 L384.0 650.2 L382.5 651.2 L381.0 652.2 L379.5 653.2 L378.0 654.2 L376.5 655.2 L375.0 656.2 L373.5 657.2 L372.0 658.2 L370.5 659.2 L369.1 660.2 L367.6 661.2 L366.2 662.2 L364.8 663.2 L363.3 664.2 L362.0 665.2 L360.6 666.2 L359.2 667.2 L357.9 668.2 L356.6 669.2 L355.3 670.2 L354.0 671.2 L352.8 672.2 L351.6 673.2 L350.4 674.2 L349.3 675.2 L348.2 676.2 L347.1 677.2 L346.1 678.2 L345.1 679.2 L344.1 680.2 L343.7 680.7" stroke="#18a0d8"/>
<path d="M364.7 237.2 L365.4 238.2 L366.2 239.2 L367.0 240.2 L367.7 241.2 L368.5 242.2 L369.2 243.2 L370.0 244.2 L370.7 245.2 L371.4 246.2 L372.2 247.2 L372.9 248.2 L373.6 249.2 L374.4 250.2 L375.1 251.2 L375.8 252.2 L376.5 253.2 L377.3 254.2 L378.0 255.2 L378.7 256.2 L379.4 257.2 L380.1 258.2 L380.8 259.2 L381.5 260.2 L382.2 261.2 L382.9 262.2 L383.6 263.2 L384.3 264.2 L385.0 265.2 L385.7 266.2 L386.4 267.2 L387.0 268.2 L387.7 269.2 L388.4 270.2 L389.1 271.2 L389.8 272.2 L390.4 273.2 L391.1 274.2 L391.8 275.2 L392.4 276.2 L393.1 277.2 L393.8 278.2 L394.4 279.2 L395.1 280.2 L395.8 281.2 L396.4 282.2 L397.1 283.2 L397.7 284.2 L398.4 285.2 L399.0 286.2 L399.7 287.2 L400.3 288.2 L400.9 289.2 L401.6 290.2 L402.2 291.2 L402.9 292.2 L403.5 293.2 L404.1 294.2 L404.7 295.2 L405.4 296.2 L406.0 297.2 L406.6 298.2 L407.2 299.2 L407.8 300.2 L408.3 301.2 L408.9 302.2 L409.5 303.2 L410.0 304.2 L410.6 305.2 L411.1 306.2 L411.6 307.2 L412.1 308.2 L412.6 309.2 L413.1 310.2 L413.6 311.2 L414.0 312.2 L414.5 313.2 L414.9 314.2 L415.3 315.2 L415.7 316.2 L416.1 317.2 L416.5 318.2 L416.8 319.2 L417.2 320.2 L417.5 321.2 L417.8 322.2 L418.0 323.2 L418.3 324.2 L418.5 325.2 L418.7 326.2 L418.9 327.2 L419.1 328.2 L419.2 329.2 L419.4 330.2 L419.5 331.2 L419.6 332.2 L419.6 333.2 L419.7 334.2 L419.7 335.2 L419.7 336.2 L419.6 337.2 L419.6 338.2 L419.5 339.2 L419.4 340.2 L419.3 341.2 L419.1 342.2 L418.9 343.2 L418.7 344.2 L418.5 345.2 L418.2 346.2 L417.9 347.2 L417.6 348.2 L417.3 349.2 L416.9 350.2 L416.5 351.2 L416.1 352.2 L415.6 353.2 L415.2 354.2 L414.7 355.2 L414.1 356.2 L413.6 357.2 L413.0 358.2 L412.3 359.2 L411.7 360.2 L411.0 361.2 L410.3 362.2 L409.5 363.2 L408.7 364.2 L407.9 365.2 L407.1 366.2 L406.2 367.2 L405.3 368.2 L404.4 369.2 L403.4 370.2 L402.4 371.2 L401.4 372.2 L400.3 373.2 L399.2 374.2 L398.1 375.2 L397.0 376.2 L395.9 377.2 L394.7 378.2 L393.5 379.2 L392.3 380.2 L391.1 381.2 L389.8 382.2 L388.6 383.2 L387.3 384.2 L386.0 385.2 L384.7 386.2 L383.4 387.2 L382.1 388.2 L380.7 389.2 L379.4 390.2 L378.1 391.2 L376.7 392.2 L375.3 393.2 L374.0 394.2 L372.6 395.2 L371.2 396.2 L369.8 397.2 L368.4 398.2 L367.0 399.2 L365.5 400.2 L364.1 401.2 L362.7 402.2 L361.2 403.2 L359.8 404.2 L358.4 405.2 L356.9 406.2 L355.5 407.2 L354.0 408.2 L352.6 409.2 L351.1 410.2 L349.7 411.2 L348.2 412.2 L346.8 413.2 L345.4 414.2 L343.9 415.2 L342.6 416.2 L341.2 417.2 L339.8 418.2 L338.5 419.2 L337.2 420.2 L336.0 421.2 L334.8 422.2 L333.6 423.2 L332.4 424.2 L331.4 425.2 L330.3 426.2 L329.3 427.2 L328.4 428.2 L327.6 429.2 L326.7 430.2 L326.0 431.2 L325.3 432.2 L324.6 433.2 L324.0 434.2 L323.5 435.2 L323.1 436.2 L322.6 437.2 L322.3 438.2 L322.0 439.2 L321.8 440.2 L321.7 441.2 L321.6 442.2 L321.6 443.2 L321.6 444.2 L321.7 445.2 L321.9 446.2 L322.1 447.2 L322.4 448.2 L322.8 449.2 L323.2 450.2 L323.6 451.2 L324.1 452.2 L324.7 453.2 L325.3 454.2 L325.9 455.2 L326.6 456.2 L327.4 457.2 L328.1 458.2 L328.9 459.2 L329.8 460.2 L330.7 461.2 L331.6 462.2 L332.5 463.2 L333.5 464.2 L334.5 465.2 L335.5 466.2 L336.6 467.2 L337.6 468.2 L338.7 469.2 L339.8 470.2 L340.9 471.2 L342.0 472.2 L343.1 473.2 L344.2 474.2 L345.3 475.2 L346.4 476.2 L347.5 477.2 L348.6 478.2 L349.7 479.2 L350.8 480.2 L351.9 481.2 L353.0 482.2 L354.1 483.2 L355.2 484.2 L356.2 485.2 L357.3 486.2 L358.3 487.2 L359.4 488.2 L360.4 489.2 L361.4 490.2 L362.4 491.2 L363.3 492.2 L364.3 493.2 L365.2 494.2 L366.1 495.2 L367.0 496.2 L367.8 497.2 L368.7 498.2 L369.5 499.2 L370.3 500.2 L371.1 501.2 L371.8 502.2 L372.5 503.2 L373.2 504.2 L373.9 505.2 L374.6 506.2 L375.3 507.2 L375.9 508.2 L376.5 509.2 L377.1 510.2 L377.7 511.2 L378.3 512.2 L378.9 513.2 L379.5 514.2 L380.1 515.2 L380.6 516.2 L381.2 517.2 L381.8 518.2 L382.3 519.2 L382.9 520.2 L383.4 521.2 L384.0 522.2 L384.6 523.2 L385.1 524.2 L385.7 525.2 L386.3 526.2 L386.9 527.2 L387.4 528.2 L388.0 529.2 L388.6 530.2 L389.2 531.2 L389.8 532.2 L390.5 533.2 L391.1 534.2 L391.7 535.2 L392.4 536.2 L393.0 537.2 L393.7 538.2 L394.3 539.2 L395.0 540.2 L395.7 541.2 L396.4 542.2 L397.1 543.2 L397.8 544.2 L398.4 545.2 L399.1 546.2 L399.8 547.2 L400.6 548.2 L401.3 549.2 L401.9 550.2 L402.6 551.2 L403.3 552.2 L404.0 553.2 L404.7 554.2 L405.4 555.2 L406.0 556.2 L406.7 557.2 L407.3 558.2 L408.0 559.2 L408.6 560.2 L409.2 561.2 L409.8 562.2 L410.4 563.2 L411.0 564.2 L411.5 565.2 L412.1 566.2 L412.6 567.2 L413.1 568.2 L413.6 569.2 L414.1 570.2 L414.5 571.2 L414.9 572.2 L415.3 573.2 L415.7 574.2 L416.1 575.2 L416.4 576.2 L416.7 577.2 L417.0 578.2 L417.3 579.2 L417.5 580.2 L417.7 581.2 L417.9 582.2 L418.1 583.2 L418.3 584.2 L418.4 585.2 L418.5 586.2 L418.5 587.2 L418.6 588.2 L418.6 589.2 L418.6 590.2 L418.6 591.2 L418.5 592.2 L418.4 593.2 L418.3 594.2 L418.2 595.2 L418.1 596.2 L417.9 597.2 L417.7 598.2 L417.4 599.2 L417.2 600.2 L416.9 601.2 L416.5 602.2 L416.2 603.2 L415.8 604.2 L415.4 605.2 L415.0 606.2 L414.5 607.2 L414.1 608.2 L413.5 609.2 L413.0 610.2 L412.4 611.2 L411.8 612.2 L411.2 613.2 L410.6 614.2 L409.9 615.2 L409.2 616.2 L408.4 617.2 L407.6 618.2 L406.8 619.2 L406.0 620.2 L405.2 621.2 L404.3 622.2 L403.4 623.2 L402.4 624.2 L401.4 625.2 L400.4 626.2 L399.4 627.2 L398.3 628.2 L397.2 629.2 L396.1 630.2 L394.9 631.2 L393.7 632.2 L392.5 633.2 L391.3 634.2 L390.0 635.2 L388.7 636.2 L387.4 637.2 L386.1 638.2 L384.7 639.2 L383.4 640.2 L382.0 641.2 L380.6 642.2 L379.2 643.2 L377.8 644.2 L376.3 645.2 L374.9 646.2 L373.5 647.2 L372.0 648.2 L370.5 649.2 L369.1 650.2 L367.6 651.2 L366.2 652.2 L364.7 653.2 L363.2 654.2 L361.8 655.2 L360.3 656.2 L358.9 657.2 L357.4 658.2 L356.0 659.2 L354.6 660.2 L353.2 661.2 L351.8 662.2 L350.4 663.2 L349.1 664.2 L347.7 665.2 L346.4 666.2 L345.1 667.2 L343.8 668.2 L342.5 669.2 L341.3 670.2 L340.1 671.2 L338.9 672.2 L337.7 673.2 L336.6 674.2 L335.5 675.2 L334.4 676.2 L333.4 677.2 L332.4 678.2 L331.4 679.2 L330.5 680.2 L330.0 680.7" stroke="#10a8d0"/>
<path d="M353.5 237.2 L354.3 238.2 L355.0 239.2 L355.8 240.2 L356.5 241.2 L357.2 242.2 L358.0 243.2 L358.7 244.2 L359.5 245.2 L360.2 246.2 L360.9 247.2 L361.6 248.2 L362.4 249.2 L363.1 250.2 L363.8 251.2 L364.5 252.2 L365.2 253.2 L366.0 254.2 L366.7 255.2 L367.4 256.2 L368.1 257.2 L368.8 258.2 L369.5 259.2 L370.2 260.2 L370.9 261.2 L371.6 262.2 L372.3 263.2 L373.0 264.2 L373.6 265.2 L374.3 266.2 L375.0 267.2 L375.7 268.2 L376.4 269.2 L377.0 270.2 L377.7 271.2 L378.4 272.2 L379.0 273.2 L379.7 274.2 L380.4 275.2 L381.0 276.2 L381.7 277.2 L382.3 278.2 L383.0 279.2 L383.6 280.2 L384.3 281.2 L384.9 282.2 L385.5 283.2 L386.2 284.2 L386.8 285.2 L387.4 286.2 L388.1 287.2 L388.7 288.2 L389.3 289.2 L389.9 290.2 L390.5 291.2 L391.1 292.2 L391.8 293.2 L392.3 294.2 L392.9 295.2 L393.5 296.2 L394.1 297.2 L394.7 298.2 L395.2 299.2 L395.8 300.2 L396.3 301.2 L396.9 302.2 L397.4 303.2 L397.9 304.2 L398.4 305.2 L398.9 306.2 L399.4 307.2 L399.9 308.2 L400.3 309.2 L400.8 310.2 L401.2 311.2 L401.6 312.2 L402.0 313.2 L402.4 314.2 L402.8 315.2 L403.2 316.2 L403.5 317.2 L403.8 318.2 L404.1 319.2 L404.4 320.2 L404.7 321.2 L405.0 322.2 L405.2 323.2 L405.4 324.2 L405.6 325.2 L405.8 326.2 L406.0 327.2 L406.1 328.2 L406.2 329.2 L406.3 330.2 L406.4 331.2 L406.5 332.2 L406.5 333.2 L406.5 334.2 L406.5 335.2 L406.5 336.2 L406.4 337.2 L406.3 338.2 L406.2 339.2 L406.1 340.2 L405.9 341.2 L405.8 342.2 L405.6 343.2 L405.3 344.2 L405.1 345.2 L404.8 346.2 L404.5 347.2 L404.2 348.2 L403.8 349.2 L403.4 350.2 L403.0 351.2 L402.6 352.2 L402.1 353.2 L401.7 354.2 L401.1 355.2 L400.6 356.2 L400.0 357.2 L399.4 358.2 L398.8 359.2 L398.1 360.2 L397.4 361.2 L396.7 362.2 L396.0 363.2 L395.2 364.2 L394.4 365.2 L393.6 366.2 L392.7 367.2 L391.8 368.2 L390.9 369.2 L389.9 370.2 L388.9 371.2 L387.9 372.2 L386.8 373.2 L385.8 374.2 L384.7 375.2 L383.6 376.2 L382.4 377.2 L381.3 378.2 L380.1 379.2 L378.9 380.2 L377.7 381.2 L376.4 382.2 L375.2 383.2 L373.9 384.2 L372.7 385.2 L371.4 386.2 L370.1 387.2 L368.8 388.2 L367.5 389.2 L366.1 390.2 L364.8 391.2 L363.5 392.2 L362.1 393.2 L360.8 394.2 L359.4 395.2 L358.0 396.2 L356.6 397.2 L355.2 398.2 L353.8 399.2 L352.4 400.2 L351.0 401.2 L349.6 402.2 L348.2 403.2 L346.8 404.2 L345.4 405.2 L344.0 406.2 L342.6 407.2 L341.1 408.2 L339.7 409.2 L338.3 410.2 L336.9 411.2 L335.5 412.2 L334.1 413.2 L332.8 414.2 L331.4 415.2 L330.1 416.2 L328.7 417.2 L327.4 418.2 L326.2 419.2 L324.9 420.2 L323.7 421.2 L322.6 422.2 L321.4 423.2 L320.4 424.2 L319.3 425.2 L318.3 426.2 L317.4 427.2 L316.5 428.2 L315.7 429.2 L314.9 430.2 L314.2 431.2 L313.5 432.2 L312.9 433.2 L312.3 434.2 L311.8 435.2 L311.4 436.2 L311.0 437.2 L310.7 438.2 L310.4 439.2 L310.2 440.2 L310.1 441.2 L310.0 442.2 L310.0 443.2 L310.1 444.2 L310.2 445.2 L310.4 446.2 L310.7 447.2 L311.0 448.2 L311.4 449.2 L311.8 450.2 L312.3 451.2 L312.8 452.2 L313.4 453.2 L314.0 454.2 L314.6 455.2 L315.3 456.2 L316.1 457.2 L316.9 458.2 L317.7 459.2 L318.6 460.2 L319.5 461.2 L320.4 462.2 L321.4 463.2 L322.4 464.2 L323.4 465.2 L324.4 466.2 L325.5 467.2 L326.6 468.2 L327.6 469.2 L328.7 470.2 L329.8 471.2 L331.0 472.2 L332.1 473.2 L333.2 474.2 L334.3 475.2 L335.4 476.2 L336.5 477.2 L337.7 478.2 L338.8 479.2 L339.9 480.2 L341.0 481.2 L342.1 482.2 L343.2 483.2 L344.2 484.2 L345.3 485.2 L346.4 486.2 L347.4 487.2 L348.5 488.2 L349.5 489.2 L350.5 490.2 L351.5 491.2 L352.4 492.2 L353.4 493.2 L354.3 494.2 L355.2 495.2 L356.1 496.2 L357.0 497.2 L357.8 498.2 L358.7 499.2 L359.5 500.2 L360.3 501.2 L361.0 502.2 L361.7 503.2 L362.5 504.2 L363.1 505.2 L363.8 506.2 L364.5 507.2 L365.1 508.2 L365.8 509.2 L366.4 510.2 L367.0 511.2 L367.6 512.2 L368.2 513.2 L368.7 514.2 L369.3 515.2 L369.9 516.2 L370.4 517.2 L371.0 518.2 L371.5 519.2 L372.1 520.2 L372.6 521.2 L373.2 522.2 L373.7 523.2 L374.3 524.2 L374.8 525.2 L375.4 526.2 L375.9 527.2 L376.5 528.2 L377.0 529.2 L377.6 530.2 L378.2 531.2 L378.8 532.2 L379.3 533.2 L379.9 534.2 L380.5 535.2 L381.2 536.2 L381.8 537.2 L382.4 538.2 L383.0 539.2 L383.7 540.2 L384.3 541.2 L385.0 542.2 L385.6 543.2 L386.3 544.2 L387.0 545.2 L387.6 546.2 L388.3 547.2 L389.0 548.2 L389.6 549.2 L390.3 550.2 L390.9 551.2 L391.6 552.2 L392.2 553.2 L392.9 554.2 L393.5 555.2 L394.2 556.2 L394.8 557.2 L395.4 558.2 L396.0 559.2 L396.6 560.2 L397.2 561.2 L397.7 562.2 L398.3 563.2 L398.8 564.2 L399.4 565.2 L399.9 566.2 L400.3 567.2 L400.8 568.2 L401.3 569.2 L401.7 570.2 L402.1 571.2 L402.5 572.2 L402.9 573.2 L403.2 574.2 L403.6 575.2 L403.9 576.2 L404.1 577.2 L404.4 578.2 L404.6 579.2 L404.9 580.2 L405.1 581.2 L405.2 582.2 L405.4 583.2 L405.5 584.2 L405.6 585.2 L405.7 586.2 L405.7 587.2 L405.7 588.2 L405.7 589.2 L405.7 590.2 L405.7 591.2 L405.6 592.2 L405.5 593.2 L405.4 594.2 L405.2 595.2 L405.0 596.2 L404.8 597.2 L404.6 598.2 L404.4 599.2 L404.1 600.2 L403.8 601.2 L403.5 602.2 L403.1 603.2 L402.7 604.2 L402.3 605.2 L401.9 606.2 L401.4 607.2 L400.9 608.2 L400.4 609.2 L399.9 610.2 L399.3 611.2 L398.7 612.2 L398.1 613.2 L397.4 614.2 L396.7 615.2 L396.0 616.2 L395.3 617.2 L394.5 618.2 L393.7 619.2 L392.9 620.2 L392.1 621.2 L391.2 622.2 L390.3 623.2 L389.3 624.2 L388.4 625.2 L387.4 626.2 L386.4 627.2 L385.3 628.2 L384.2 629.2 L383.1 630.2 L382.0 631.2 L380.8 632.2 L379.6 633.2 L378.4 634.2 L377.1 635.2 L375.9 636.2 L374.6 637.2 L373.3 638.2 L372.0 639.2 L370.6 640.2 L369.3 641.2 L367.9 642.2 L366.5 643.2 L365.2 644.2 L363.8 645.2 L362.4 646.2 L360.9 647.2 L359.5 648.2 L358.1 649.2 L356.7 650.2 L355.2 651.2 L353.8 652.2 L352.4 653.2 L351.0 654.2 L349.5 655.2 L348.1 656.2 L346.7 657.2 L345.3 658.2 L343.9 659.2 L342.5 660.2 L341.2 661.2 L339.8 662.2 L338.5 663.2 L337.1 664.2 L335.8 665.2 L334.5 666.2 L333.3 667.2 L332.0 668.2 L330.8 669.2 L329.6 670.2 L328.4 671.2 L327.2 672.2 L326.1 673.2 L325.0 674.2 L323.9 675.2 L322.9 676.2 L321.9 677.2 L320.9 678.2 L320.0 679.2 L319.1 680.2 L318.7 680.7" stroke="#20b0c0"/>
<path d="M344.9 237.2 L345.6 238.2 L346.4 239.2 L347.1 240.2 L347.9 241.2 L348.6 242.2 L349.3 243.2 L350.0 244.2 L350.8 245.2 L351.5 246.2 L352.2 247.2 L352.9 248.2 L353.7 249.2 L354.4 250.2 L355.1 251.2 L355.8 252.2 L356.5 253.2 L357.2 254.2 L357.9 255.2 L358.6 256.2 L359.3 257.2 L360.1 258.2 L360.7 259.2 L361.4 260.2 L362.1 261.2 L362.8 262.2 L363.5 263.2 L364.2 264.2 L364.9 265.2 L365.6 266.2 L366.2 267.2 L366.9 268.2 L367.6 269.2 L368.3 270.2 L368.9 271.2 L369.6 272.2 L370.3 273.2 L370.9 274.2 L371.6 275.2 L372.2 276.2 L372.9 277.2 L373.5 278.2 L374.1 279.2 L374.8 280.2 L375.4 281.2 L376.0 282.2 L376.7 283.2 L377.3 284.2 L377.9 285.2 L378.5 286.2 L379.1 287.2 L379.7 288.2 L380.3 289.2 L380.9 290.2 L381.5 291.2 L382.1 292.2 L382.7 293.2 L383.3 294.2 L383.8 295.2 L384.4 296.2 L384.9 297.2 L385.5 298.2 L386.0 299.2 L386.6 300.2 L387.1 301.2 L387.6 302.2 L388.1 303.2 L388.6 304.2 L389.1 305.2 L389.5 306.2 L390.0 307.2 L390.4 308.2 L390.8 309.2 L391.3 310.2 L391.7 311.2 L392.1 312.2 L392.4 313.2 L392.8 314.2 L393.1 315.2 L393.5 316.2 L393.8 317.2 L394.1 318.2 L394.4 319.2 L394.6 320.2 L394.9 321.2 L395.1 322.2 L395.3 323.2 L395.5 324.2 L395.7 325.2 L395.8 326.2 L396.0 327.2 L396.1 328.2 L396.2 329.2 L396.3 330.2 L396.3 331.2 L396.4 332.2 L396.4 333.2 L396.4 334.2 L396.3 335.2 L396.3 336.2 L396.2 337.2 L396.1 338.2 L396.0 339.2 L395.8 340.2 L395.7 341.2 L395.5 342.2 L395.3 343.2 L395.0 344.2 L394.7 345.2 L394.5 346.2 L394.1 347.2 L393.8 348.2 L393.4 349.2 L393.1 350.2 L392.6 351.2 L392.2 352.2 L391.7 353.2 L391.2 354.2 L390.7 355.2 L390.2 356.2 L389.6 357.2 L389.0 358.2 L388.3 359.2 L387.7 360.2 L387.0 361.2 L386.3 362.2 L385.5 363.2 L384.8 364.2 L384.0 365.2 L383.1 366.2 L382.3 367.2 L381.4 368.2 L380.4 369.2 L379.5 370.2 L378.5 371.2 L377.5 372.2 L376.4 373.2 L375.4 374.2 L374.3 375.2 L373.2 376.2 L372.1 377.2 L370.9 378.2 L369.7 379.2 L368.6 380.2 L367.4 381.2 L366.1 382.2 L364.9 383.2 L363.7 384.2 L362.4 385.2 L361.1 386.2 L359.8 387.2 L358.5 388.2 L357.2 389.2 L355.9 390.2 L354.6 391.2 L353.3 392.2 L351.9 393.2 L350.6 394.2 L349.2 395.2 L347.9 396.2 L346.5 397.2 L345.1 398.2 L343.7 399.2 L342.3 400.2 L340.9 401.2 L339.6 402.2 L338.2 403.2 L336.8 404.2 L335.4 405.2 L334.0 406.2 L332.6 407.2 L331.2 408.2 L329.8 409.2 L328.5 410.2 L327.1 411.2 L325.7 412.2 L324.4 413.2 L323.0 414.2 L321.7 415.2 L320.4 416.2 L319.1 417.2 L317.9 418.2 L316.7 419.2 L315.5 420.2 L314.3 421.2 L313.2 422.2 L312.1 423.2 L311.0 424.2 L310.0 425.2 L309.1 426.2 L308.2 427.2 L307.3 428.2 L306.5 429.2 L305.8 430.2 L305.1 431.2 L304.4 432.2 L303.8 433.2 L303.3 434.2 L302.8 435.2 L302.4 436.2 L302.0 437.2 L301.7 438.2 L301.5 439.2 L301.3 440.2 L301.2 441.2 L301.2 442.2 L301.2 443.2 L301.3 444.2 L301.4 445.2 L301.6 446.2 L301.9 447.2 L302.2 448.2 L302.6 449.2 L303.0 450.2 L303.5 451.2 L304.0 452.2 L304.6 453.2 L305.3 454.2 L305.9 455.2 L306.7 456.2 L307.4 457.2 L308.2 458.2 L309.1 459.2 L309.9 460.2 L310.9 461.2 L311.8 462.2 L312.8 463.2 L313.8 464.2 L314.8 465.2 L315.8 466.2 L316.9 467.2 L318.0 468.2 L319.1 469.2 L320.2 470.2 L321.3 471.2 L322.4 472.2 L323.6 473.2 L324.7 474.2 L325.8 475.2 L326.9 476.2 L328.1 477.2 L329.2 478.2 L330.3 479.2 L331.4 480.2 L332.5 481.2 L333.6 482.2 L334.7 483.2 L335.8 484.2 L336.9 485.2 L337.9 486.2 L339.0 487.2 L340.0 488.2 L341.1 489.2 L342.1 490.2 L343.1 491.2 L344.0 492.2 L345.0 493.2 L345.9 494.2 L346.9 495.2 L347.8 496.2 L348.6 497.2 L349.5 498.2 L350.3 499.2 L351.1 500.2 L351.9 501.2 L352.7 502.2 L353.4 503.2 L354.1 504.2 L354.8 505.2 L355.5 506.2 L356.2 507.2 L356.8 508.2 L357.5 509.2 L358.1 510.2 L358.7 511.2 L359.3 512.2 L359.8 513.2 L360.4 514.2 L361.0 515.2 L361.5 516.2 L362.1 517.2 L362.6 518.2 L363.2 519.2 L363.7 520.2 L364.2 521.2 L364.8 522.2 L365.3 523.2 L365.9 524.2 L366.4 525.2 L366.9 526.2 L367.5 527.2 L368.0 528.2 L368.6 529.2 L369.1 530.2 L369.7 531.2 L370.2 532.2 L370.8 533.2 L371.4 534.2 L371.9 535.2 L372.5 536.2 L373.1 537.2 L373.7 538.2 L374.3 539.2 L374.9 540.2 L375.6 541.2 L376.2 542.2 L376.8 543.2 L377.5 544.2 L378.1 545.2 L378.7 546.2 L379.4 547.2 L380.0 548.2 L380.7 549.2 L381.3 550.2 L381.9 551.2 L382.5 552.2 L383.2 553.2 L383.8 554.2 L384.4 555.2 L385.0 556.2 L385.6 557.2 L386.2 558.2 L386.8 559.2 L387.3 560.2 L387.9 561.2 L388.4 562.2 L388.9 563.2 L389.5 564.2 L390.0 565.2 L390.4 566.2 L390.9 567.2 L391.3 568.2 L391.8 569.2 L392.2 570.2 L392.6 571.2 L392.9 572.2 L393.3 573.2 L393.6 574.2 L393.9 575.2 L394.2 576.2 L394.5 577.2 L394.7 578.2 L394.9 579.2 L395.1 580.2 L395.3 581.2 L395.4 582.2 L395.5 583.2 L395.6 584.2 L395.7 585.2 L395.8 586.2 L395.8 587.2 L395.8 588.2 L395.8 589.2 L395.8 590.2 L395.7 591.2 L395.6 592.2 L395.5 593.2 L395.4 594.2 L395.2 595.2 L395.0 596.2 L394.8 597.2 L394.6 598.2 L394.3 599.2 L394.0 600.2 L393.7 601.2 L393.4 602.2 L393.0 603.2 L392.6 604.2 L392.2 605.2 L391.8 606.2 L391.3 607.2 L390.8 608.2 L390.3 609.2 L389.7 610.2 L389.2 611.2 L388.6 612.2 L388.0 613.2 L387.3 614.2 L386.6 615.2 L385.9 616.2 L385.2 617.2 L384.4 618.2 L383.6 619.2 L382.8 620.2 L382.0 621.2 L381.1 622.2 L380.2 623.2 L379.3 624.2 L378.3 625.2 L377.3 626.2 L376.3 627.2 L375.3 628.2 L374.2 629.2 L373.1 630.2 L372.0 631.2 L370.8 632.2 L369.6 633.2 L368.4 634.2 L367.2 635.2 L366.0 636.2 L364.7 637.2 L363.4 638.2 L362.1 639.2 L360.8 640.2 L359.5 641.2 L358.1 642.2 L356.8 643.2 L355.4 644.2 L354.1 645.2 L352.7 646.2 L351.3 647.2 L349.9 648.2 L348.5 649.2 L347.1 650.2 L345.7 651.2 L344.3 652.2 L342.9 653.2 L341.5 654.2 L340.1 655.2 L338.7 656.2 L337.3 657.2 L336.0 658.2 L334.6 659.2 L333.2 660.2 L331.9 661.2 L330.6 662.2 L329.2 663.2 L327.9 664.2 L326.7 665.2 L325.4 666.2 L324.2 667.2 L322.9 668.2 L321.7 669.2 L320.5 670.2 L319.4 671.2 L318.3 672.2 L317.2 673.2 L316.1 674.2 L315.0 675.2 L314.0 676.2 L313.1 677.2 L312.1 678.2 L311.2 679.2 L310.3 680.2 L309.9 680.7" stroke="#30b0a0"/>
<path d="M336.9 237.2 L337.7 238.2 L338.4 239.2 L339.1 240.2 L339.8 241.2 L340.6 242.2 L341.3 243.2 L342.0 244.2 L342.7 245.2 L343.5 246.2 L344.2 247.2 L344.9 248.2 L345.6 249.2 L346.3 250.2 L347.0 251.2 L347.7 252.2 L348.5 253.2 L349.2 254.2 L349.9 255.2 L350.6 256.2 L351.3 257.2 L352.0 258.2 L352.7 259.2 L353.4 260.2 L354.0 261.2 L354.7 262.2 L355.4 263.2 L356.1 264.2 L356.8 265.2 L357.5 266.2 L358.1 267.2 L358.8 268.2 L359.5 269.2 L360.1 270.2 L360.8 271.2 L361.5 272.2 L362.1 273.2 L362.8 274.2 L363.4 275.2 L364.1 276.2 L364.7 277.2 L365.3 278.2M377.0 298.2 L377.5 299.2 L378.0 300.2 L378.5 301.2 L379.0 302.2 L379.5 303.2 L379.9 304.2 L380.4 305.2 L380.8 306.2 L381.2 307.2 L381.7 308.2 L382.1 309.2 L382.5 310.2 L382.8 311.2 L383.2 312.2 L383.5 313.2 L383.9 314.2 L384.2 315.2 L384.5 316.2 L384.8 317.2 L385.1 318.2 L385.3 319.2 L385.6 320.2 L385.8 321.2 L386.0 322.2 L386.2 323.2 L386.3 324.2 L386.5 325.2 L386.6 326.2 L386.7 327.2 L386.8 328.2 L386.9 329.2 L386.9 330.2 L387.0 331.2 L387.0 332.2 L387.0 333.2 L387.0 334.2 L386.9 335.2 L386.8 336.2 L386.7 337.2 L386.6 338.2 L386.5 339.2 L386.3 340.2 L386.1 341.2 L385.9 342.2 L385.7 343.2 L385.5 344.2 L385.2 345.2 L384.9 346.2 L384.6 347.2 L384.2 348.2 L383.8 349.2 L383.4 350.2 L383.0 351.2 L382.6 352.2 L382.1 353.2 L381.6 354.2 L381.1 355.2 L380.5 356.2 L379.9 357.2 L379.3 358.2 L378.7 359.2 L378.0 360.2 L377.3 361.2 L376.6 362.2 L375.9 363.2 L375.1 364.2 L374.3 365.2 L373.5 366.2 L372.6 367.2 L371.7 368.2 L370.8 369.2 L369.8 370.2 L368.9 371.2 L367.8 372.2 L366.8 373.2 L365.8 374.2 L364.7 375.2 L363.6 376.2 L362.5 377.2 L361.3 378.2 L360.2 379.2 L359.0 380.2 L357.8 381.2 L356.6 382.2 L355.4 383.2 L354.1 384.2 L352.9 385.2 L351.6 386.2 L350.3 387.2 L349.0 388.2 L347.8 389.2 L346.4 390.2 L345.1 391.2 L343.8 392.2 L342.5 393.2 L341.1 394.2 L339.8 395.2 L338.4 396.2 L337.1 397.2 L335.7 398.2 L334.4 399.2 L333.0 400.2 L331.6 401.2 L330.2 402.2 L328.9 403.2 L327.5 404.2 L326.1 405.2 L324.7 406.2 L323.4 407.2 L322.0 408.2 L320.7 409.2 L319.3 410.2 L318.0 411.2 L316.6 412.2 L315.3 413.2 L314.0 414.2 L312.7 415.2 L311.5 416.2 L310.2 417.2 L309.0 418.2 L307.8 419.2 L306.7 420.2 L305.6 421.2 L304.5 422.2 L303.4 423.2 L302.4 424.2 L301.4 425.2 L300.5 426.2 L299.6 427.2 L298.8 428.2 L298.0 429.2 L297.3 430.2 L296.6 431.2 L296.0 432.2 L295.4 433.2 L294.9 434.2 L294.5 435.2 L294.1 436.2 L293.7 437.2 L293.4 438.2 L293.2 439.2 L293.1 440.2 L293.0 441.2 L292.9 442.2 L293.0 443.2 L293.1 444.2 L293.2 445.2 L293.4 446.2 L293.7 447.2 L294.0 448.2 L294.4 449.2 L294.9 450.2 L295.4 451.2 L295.9 452.2 L296.5 453.2 L297.2 454.2 L297.9 455.2 L298.6 456.2 L299.4 457.2 L300.2 458.2 L301.0 459.2 L301.9 460.2 L302.9 461.2 L303.8 462.2 L304.8 463.2 L305.8 464.2 L306.8 465.2 L307.9 466.2 L309.0 467.2 L310.1 468.2 L311.2 469.2 L312.3 470.2 L313.4 471.2 L314.5 472.2 L315.7 473.2 L316.8 474.2 L317.9 475.2 L319.1 476.2 L320.2 477.2 L321.3 478.2 L322.5 479.2 L323.6 480.2 L324.7 481.2 L325.8 482.2 L326.9 483.2 L328.0 484.2 L329.1 485.2 L330.1 486.2 L331.2 487.2 L332.2 488.2 L333.3 489.2 L334.3 490.2 L335.3 491.2 L336.3 492.2 L337.2 493.2 L338.2 494.2 L339.1 495.2 L340.0 496.2 L340.9 497.2 L341.8 498.2 L342.6 499.2 L343.4 500.2 L344.2 501.2 L345.0 502.2 L345.7 503.2 L346.4 504.2 L347.1 505.2 L347.8 506.2 L348.5 507.2 L349.1 508.2 L349.8 509.2 L350.4 510.2 L351.0 511.2 L351.6 512.2 L352.2 513.2 L352.7 514.2 L353.3 515.2 L353.8 516.2 L354.4 517.2 L354.9 518.2 L355.5 519.2 L356.0 520.2 L356.5 521.2 L357.0 522.2 L357.6 523.2 L358.1 524.2 L358.6 525.2 L359.1 526.2 L359.6 527.2 L360.2 528.2 L360.7 529.2 L361.2 530.2 L361.8 531.2 L362.3 532.2 L362.8 533.2 L363.4 534.2M373.6 551.2 L374.2 552.2 L374.8 553.2 L375.4 554.2 L375.9 555.2 L376.5 556.2 L377.1 557.2 L377.7 558.2 L378.2 559.2 L378.7 560.2 L379.3 561.2 L379.8 562.2 L380.3 563.2 L380.8 564.2 L381.3 565.2 L381.7 566.2 L382.2 567.2 L382.6 568.2 L383.0 569.2 L383.4 570.2 L383.7 571.2 L384.1 572.2 L384.4 573.2 L384.7 574.2 L385.0 575.2 L385.2 576.2 L385.5 577.2 L385.7 578.2 L385.9 579.2 L386.1 580.2 L386.2 581.2 L386.3 582.2 L386.4 583.2 L386.5 584.2 L386.6 585.2 L386.6 586.2 L386.6 587.2 L386.6 588.2 L386.6 589.2 L386.5 590.2 L386.5 591.2 L386.4 592.2 L386.2 593.2 L386.1 594.2 L385.9 595.2 L385.7 596.2 L385.5 597.2 L385.3 598.2 L385.0 599.2 L384.7 600.2 L384.4 601.2 L384.0 602.2 L383.7 603.2 L383.3 604.2 L382.8 605.2 L382.4 606.2 L381.9 607.2 L381.4 608.2 L380.9 609.2 L380.4 610.2 L379.8 611.2 L379.2 612.2 L378.6 613.2 L377.9 614.2 L377.2 615.2 L376.5 616.2 L375.8 617.2 L375.1 618.2 L374.3 619.2 L373.5 620.2 L372.6 621.2 L371.8 622.2 L370.9 623.2 L369.9 624.2 L369.0 625.2 L368.0 626.2 L367.0 627.2 L366.0 628.2 L364.9 629.2 L363.8 630.2 L362.7 631.2 L361.6 632.2 L360.4 633.2 L359.2 634.2 L358.0 635.2 L356.8 636.2 L355.6 637.2 L354.3 638.2 L353.0 639.2 L351.7 640.2 L350.4 641.2 L349.1 642.2 L347.8 643.2 L346.4 644.2 L345.1 645.2 L343.7 646.2 L342.3 647.2 L341.0 648.2 L339.6 649.2 L338.2 650.2 L336.9 651.2 L335.5 652.2 L334.1 653.2 L332.7 654.2 L331.4 655.2 L330.0 656.2 L328.6 657.2 L327.3 658.2 L326.0 659.2 L324.6 660.2 L323.3 661.2 L322.0 662.2 L320.7 663.2 L319.4 664.2 L318.2 665.2 L316.9 666.2 L315.7 667.2 L314.5 668.2 L313.3 669.2 L312.2 670.2 L311.1 671.2 L310.0 672.2 L308.9 673.2 L307.8 674.2 L306.8 675.2 L305.8 676.2 L304.9 677.2 L303.9 678.2 L303.1 679.2 L302.2 680.2 L301.8 680.7" stroke="#5cb890"/>
<path d="M331.2 237.2 L331.9 238.2 L332.6 239.2 L333.4 240.2 L334.1 241.2 L334.8 242.2 L335.5 243.2 L336.2 244.2 L336.9 245.2 L337.7 246.2 L338.4 247.2 L339.1 248.2 L339.8 249.2 L340.5 250.2 L341.2 251.2 L341.9 252.2 L342.6 253.2 L343.3 254.2 L344.0 255.2 L344.7 256.2 L345.4 257.2 L346.1 258.2 L346.8 259.2 L347.5 260.2 L348.2 261.2 L348.9 262.2 L349.6 263.2 L350.3 264.2 L351.0 265.2 L351.6 266.2 L352.3 267.2 L353.0 268.2 L353.6 269.2 L354.3 270.2 L355.0 271.2 L355.6 272.2 L356.3 273.2 L356.9 274.2 L357.5 275.2 L358.2 276.2 L358.8 277.2 L359.4 278.2 L360.1 279.2 L360.7 280.2 L361.3 281.2 L361.9 282.2 L362.5 283.2 L363.1 284.2 L363.7 285.2 L364.3 286.2 L364.9 287.2 L365.5 288.2 L366.0 289.2 L366.6 290.2 L367.2 291.2 L367.7 292.2 L368.3 293.2 L368.8 294.2 L369.3 295.2 L369.9 296.2 L370.4 297.2 L370.9 298.2 L371.4 299.2 L371.9 300.2 L372.3 301.2 L372.8 302.2 L373.3 303.2 L373.7 304.2 L374.1 305.2 L374.6 306.2 L375.0 307.2 L375.4 308.2 L375.7 309.2 L376.1 310.2 L376.5 311.2 L376.8 312.2 L377.1 313.2 L377.5 314.2 L377.8 315.2 L378.0 316.2 L378.3 317.2 L378.6 318.2 L378.8 319.2 L379.0 320.2 L379.2 321.2 L379.4 322.2 L379.6 323.2 L379.7 324.2 L379.9 325.2 L380.0 326.2 L380.1 327.2 L380.1 328.2 L380.2 329.2 L380.2 330.2 L380.3 331.2 L380.3 332.2 L380.2 333.2 L380.2 334.2 L380.1 335.2 L380.0 336.2 L379.9 337.2 L379.8 338.2 L379.7 339.2 L379.5 340.2 L379.3 341.2 L379.1 342.2 L378.8 343.2 L378.6 344.2 L378.3 345.2 L378.0 346.2 L377.6 347.2 L377.3 348.2 L376.9 349.2 L376.5 350.2 L376.1 351.2 L375.6 352.2 L375.1 353.2 L374.6 354.2 L374.1 355.2 L373.5 356.2 L373.0 357.2 L372.4 358.2 L371.7 359.2 L371.1 360.2 L370.4 361.2 L369.6 362.2 L368.9 363.2 L368.1 364.2 L367.3 365.2 L366.5 366.2 L365.6 367.2 L364.7 368.2 L363.8 369.2 L362.9 370.2 L361.9 371.2 L360.9 372.2 L359.9 373.2 L358.8 374.2 L357.8 375.2 L356.7 376.2 L355.6 377.2 L354.4 378.2 L353.3 379.2 L352.1 380.2 L350.9 381.2 L349.7 382.2 L348.5 383.2 L347.3 384.2 L346.0 385.2 L344.8 386.2 L343.5 387.2 L342.2 388.2 L340.9 389.2 L339.6 390.2 L338.3 391.2 L337.0 392.2 L335.7 393.2 L334.4 394.2 L333.0 395.2 L331.7 396.2 L330.3 397.2 L329.0 398.2 L327.6 399.2 L326.2 400.2 L324.9 401.2 L323.5 402.2 L322.2 403.2 L320.8 404.2 L319.4 405.2 L318.1 406.2 L316.7 407.2 L315.4 408.2 L314.1 409.2 L312.7 410.2 L311.4 411.2 L310.1 412.2 L308.8 413.2 L307.5 414.2 L306.3 415.2 L305.0 416.2 L303.8 417.2 L302.6 418.2 L301.5 419.2 L300.4 420.2 L299.3 421.2 L298.2 422.2 L297.2 423.2 L296.2 424.2 L295.3 425.2 L294.4 426.2 L293.5 427.2 L292.7 428.2 L291.9 429.2 L291.2 430.2 L290.6 431.2 L290.0 432.2 L289.4 433.2 L288.9 434.2 L288.5 435.2 L288.1 436.2 L287.7 437.2 L287.5 438.2 L287.3 439.2 L287.1 440.2 L287.0 441.2 L287.0 442.2 L287.0 443.2 L287.1 444.2 L287.3 445.2 L287.5 446.2 L287.8 447.2 L288.2 448.2 L288.6 449.2 L289.0 450.2 L289.5 451.2 L290.1 452.2 L290.7 453.2 L291.4 454.2 L292.1 455.2 L292.8 456.2 L293.6 457.2 L294.4 458.2 L295.3 459.2 L296.2 460.2 L297.1 461.2 L298.1 462.2 L299.1 463.2 L300.1 464.2 L301.1 465.2 L302.2 466.2 L303.3 467.2 L304.4 468.2 L305.5 469.2 L306.6 470.2 L307.7 471.2 L308.9 472.2 L310.0 473.2 L311.1 474.2 L312.3 475.2 L313.4 476.2 L314.6 477.2 L315.7 478.2 L316.8 479.2 L317.9 480.2 L319.1 481.2 L320.2 482.2 L321.3 483.2 L322.4 484.2 L323.5 485.2 L324.5 486.2 L325.6 487.2 L326.6 488.2 L327.7 489.2 L328.7 490.2 L329.7 491.2 L330.7 492.2 L331.6 493.2 L332.6 494.2 L333.5 495.2 L334.4 496.2 L335.3 497.2 L336.2 498.2 L337.0 499.2 L337.8 500.2 L338.6 501.2 L339.4 502.2 L340.2 503.2 L340.9 504.2 L341.6 505.2 L342.3 506.2 L342.9 507.2 L343.6 508.2 L344.2 509.2 L344.8 510.2 L345.4 511.2 L346.0 512.2 L346.6 513.2 L347.2 514.2 L347.7 515.2 L348.3 516.2 L348.8 517.2 L349.4 518.2 L349.9 519.2 L350.4 520.2 L350.9 521.2 L351.5 522.2 L352.0 523.2 L352.5 524.2 L353.0 525.2 L353.5 526.2 L354.0 527.2 L354.5 528.2 L355.0 529.2 L355.6 530.2 L356.1 531.2 L356.6 532.2 L357.1 533.2 L357.7 534.2 L358.2 535.2 L358.8 536.2 L359.3 537.2 L359.9 538.2 L360.5 539.2 L361.0 540.2 L361.6 541.2 L362.2 542.2 L362.8 543.2 L363.4 544.2 L364.0 545.2 L364.6 546.2 L365.2 547.2 L365.8 548.2 L366.4 549.2 L367.0 550.2 L367.6 551.2 L368.1 552.2 L368.7 553.2 L369.3 554.2 L369.9 555.2 L370.4 556.2 L371.0 557.2 L371.5 558.2 L372.1 559.2 L372.6 560.2 L373.1 561.2 L373.6 562.2 L374.1 563.2 L374.5 564.2 L375.0 565.2 L375.4 566.2 L375.9 567.2 L376.3 568.2 L376.6 569.2 L377.0 570.2 L377.4 571.2 L377.7 572.2 L378.0 573.2 L378.3 574.2 L378.5 575.2 L378.8 576.2 L379.0 577.2 L379.2 578.2 L379.4 579.2 L379.5 580.2 L379.7 581.2 L379.8 582.2 L379.9 583.2 L380.0 584.2 L380.0 585.2 L380.0 586.2 L380.0 587.2 L380.0 588.2 L380.0 589.2 L379.9 590.2 L379.8 591.2 L379.7 592.2 L379.6 593.2 L379.4 594.2 L379.2 595.2 L379.0 596.2 L378.8 597.2 L378.6 598.2 L378.3 599.2 L378.0 600.2 L377.7 601.2 L377.3 602.2 L376.9 603.2 L376.5 604.2 L376.1 605.2 L375.7 606.2 L375.2 607.2 L374.7 608.2 L374.2 609.2 L373.6 610.2 L373.0 611.2 L372.4 612.2 L371.8 613.2 L371.2 614.2 L370.5 615.2 L369.8 616.2 L369.1 617.2 L368.3 618.2 L367.5 619.2 L366.7 620.2 L365.9 621.2 L365.0 622.2 L364.1 623.2 L363.2 624.2 L362.3 625.2 L361.3 626.2 L360.3 627.2 L359.3 628.2 L358.3 629.2 L357.2 630.2 L356.1 631.2 L354.9 632.2 L353.8 633.2 L352.6 634.2 L351.4 635.2 L350.2 636.2 L349.0 637.2 L347.7 638.2 L346.5 639.2 L345.2 640.2 L343.9 641.2 L342.6 642.2 L341.3 643.2 L339.9 644.2 L338.6 645.2 L337.3 646.2 L335.9 647.2 L334.6 648.2 L333.2 649.2 L331.8 650.2 L330.5 651.2 L329.1 652.2 L327.8 653.2 L326.4 654.2 L325.1 655.2 L323.7 656.2 L322.4 657.2 L321.1 658.2 L319.7 659.2 L318.4 660.2 L317.1 661.2 L315.8 662.2 L314.6 663.2 L313.3 664.2 L312.1 665.2 L310.9 666.2 L309.7 667.2 L308.5 668.2 L307.3 669.2 L306.2 670.2 L305.1 671.2 L304.0 672.2 L302.9 673.2 L301.9 674.2 L300.9 675.2 L299.9 676.2 L299.0 677.2 L298.1 678.2 L297.2 679.2 L296.4 680.2 L296.0 680.7" stroke="#98c060"/>
<path d="M326.1 237.2 L326.8 238.2 L327.5 239.2 L328.2 240.2 L329.0 241.2 L329.7 242.2 L330.4 243.2 L331.1 244.2 L331.8 245.2 L332.5 246.2 L333.2 247.2 L333.9 248.2 L334.6 249.2 L335.4 250.2 L336.1 251.2 L336.8 252.2 L337.5 253.2 L338.2 254.2 L338.9 255.2 L339.6 256.2 L340.3 257.2 L341.0 258.2 L341.7 259.2 L342.4 260.2 L343.0 261.2 L343.7 262.2 L344.4 263.2 L345.1 264.2 L345.8 265.2 L346.4 266.2 L347.1 267.2 L347.8 268.2 L348.4 269.2 L349.1 270.2 L349.8 271.2 L350.4 272.2 L351.1 273.2 L351.7 274.2 L352.3 275.2 L353.0 276.2 L353.6 277.2 L354.2 278.2 L354.8 279.2 L355.5 280.2 L356.1 281.2 L356.7 282.2 L357.3 283.2 L357.9 284.2 L358.4 285.2 L359.0 286.2 L359.6 287.2 L360.2 288.2 L360.7 289.2 L361.3 290.2 L361.8 291.2 L362.4 292.2 L362.9 293.2 L363.4 294.2 L363.9 295.2 L364.4 296.2 L364.9 297.2 L365.4 298.2 L365.9 299.2 L366.4 300.2 L366.8 301.2 L367.3 302.2 L367.7 303.2 L368.2 304.2 L368.6 305.2 L369.0 306.2 L369.4 307.2 L369.8 308.2 L370.1 309.2 L370.5 310.2 L370.8 311.2 L371.1 312.2 L371.4 313.2 L371.7 314.2 L372.0 315.2 L372.3 316.2 L372.5 317.2 L372.8 318.2 L373.0 319.2 L373.2 320.2 L373.4 321.2 L373.6 322.2 L373.7 323.2 L373.9 324.2 L374.0 325.2 L374.1 326.2 L374.1 327.2 L374.2 328.2 L374.3 329.2 L374.3 330.2 L374.3 331.2 L374.3 332.2 L374.2 333.2 L374.2 334.2 L374.1 335.2 L374.0 336.2 L373.9 337.2 L373.7 338.2 L373.6 339.2 L373.4 340.2 L373.2 341.2 L373.0 342.2 L372.7 343.2 L372.5 344.2 L372.2 345.2 L371.9 346.2 L371.5 347.2 L371.1 348.2 L370.8 349.2 L370.4 350.2 L369.9 351.2 L369.5 352.2 L369.0 353.2 L368.5 354.2 L367.9 355.2 L367.4 356.2 L366.8 357.2 L366.2 358.2 L365.5 359.2 L364.9 360.2 L364.2 361.2 L363.5 362.2 L362.7 363.2 L361.9 364.2 L361.1 365.2 L360.3 366.2 L359.4 367.2 L358.6 368.2 L357.6 369.2 L356.7 370.2 L355.7 371.2 L354.7 372.2 L353.7 373.2 L352.7 374.2 L351.6 375.2 L350.5 376.2 L349.4 377.2 L348.3 378.2 L347.2 379.2 L346.0 380.2 L344.8 381.2 L343.6 382.2 L342.4 383.2 L341.2 384.2 L339.9 385.2 L338.7 386.2 L337.4 387.2 L336.1 388.2 L334.9 389.2 L333.6 390.2 L332.3 391.2 L331.0 392.2 L329.6 393.2 L328.3 394.2 L327.0 395.2 L325.6 396.2 L324.3 397.2 L323.0 398.2 L321.6 399.2 L320.3 400.2 L318.9 401.2 L317.6 402.2 L316.2 403.2 L314.9 404.2 L313.5 405.2 L312.2 406.2 L310.8 407.2 L309.5 408.2 L308.2 409.2 L306.9 410.2 L305.6 411.2 L304.3 412.2 L303.0 413.2 L301.8 414.2 L300.5 415.2 L299.3 416.2 L298.1 417.2 L297.0 418.2 L295.8 419.2 L294.7 420.2 L293.7 421.2 L292.6 422.2 L291.6 423.2 L290.7 424.2 L289.7 425.2 L288.9 426.2 L288.0 427.2 L287.2 428.2 L286.5 429.2 L285.8 430.2 L285.2 431.2 L284.6 432.2 L284.0 433.2 L283.5 434.2 L283.1 435.2 L282.7 436.2 L282.4 437.2 L282.2 438.2 L282.0 439.2 L281.8 440.2 L281.7 441.2 L281.7 442.2 L281.8 443.2 L281.9 444.2 L282.1 445.2 L282.3 446.2 L282.6 447.2 L283.0 448.2 L283.4 449.2 L283.8 450.2 L284.4 451.2 L284.9 452.2 L285.5 453.2 L286.2 454.2 L286.9 455.2 L287.7 456.2 L288.4 457.2 L289.3 458.2 L290.1 459.2 L291.0 460.2 L292.0 461.2 L293.0 462.2 L294.0 463.2 L295.0 464.2 L296.0 465.2 L297.1 466.2 L298.2 467.2 L299.3 468.2 L300.4 469.2 L301.5 470.2 L302.7 471.2 L303.8 472.2 L305.0 473.2 L306.1 474.2 L307.2 475.2 L308.4 476.2 L309.5 477.2 L310.7 478.2 L311.8 479.2 L312.9 480.2 L314.0 481.2 L315.2 482.2 L316.3 483.2 L317.4 484.2 L318.5 485.2 L319.5 486.2 L320.6 487.2 L321.6 488.2 L322.7 489.2 L323.7 490.2 L324.7 491.2 L325.7 492.2 L326.7 493.2 L327.6 494.2 L328.6 495.2 L329.5 496.2 L330.4 497.2 L331.2 498.2 L332.1 499.2 L332.9 500.2 L333.7 501.2 L334.5 502.2 L335.2 503.2 L335.9 504.2 L336.7 505.2 L337.3 506.2 L338.0 507.2 L338.7 508.2 L339.3 509.2 L339.9 510.2 L340.5 511.2 L341.1 512.2 L341.7 513.2 L342.3 514.2 L342.8 515.2 L343.4 516.2 L343.9 517.2 L344.4 518.2 L345.0 519.2 L345.5 520.2 L346.0 521.2 L346.5 522.2 L347.0 523.2 L347.5 524.2 L348.0 525.2 L348.5 526.2 L349.0 527.2 L349.5 528.2 L350.0 529.2 L350.5 530.2 L351.0 531.2 L351.5 532.2 L352.1 533.2 L352.6 534.2 L353.1 535.2 L353.6 536.2 L354.2 537.2 L354.7 538.2 L355.3 539.2 L355.9 540.2 L356.4 541.2 L357.0 542.2 L357.6 543.2 L358.1 544.2 L358.7 545.2 L359.3 546.2 L359.9 547.2 L360.5 548.2 L361.1 549.2 L361.6 550.2 L362.2 551.2 L362.8 552.2 L363.3 553.2 L363.9 554.2 L364.5 555.2 L365.0 556.2 L365.5 557.2 L366.1 558.2 L366.6 559.2 L367.1 560.2 L367.6 561.2 L368.1 562.2 L368.5 563.2 L369.0 564.2 L369.4 565.2 L369.8 566.2 L370.3 567.2 L370.6 568.2 L371.0 569.2 L371.4 570.2 L371.7 571.2 L372.0 572.2 L372.3 573.2 L372.6 574.2 L372.8 575.2 L373.1 576.2 L373.3 577.2 L373.4 578.2 L373.6 579.2 L373.8 580.2 L373.9 581.2 L374.0 582.2 L374.1 583.2 L374.1 584.2 L374.2 585.2 L374.2 586.2 L374.2 587.2 L374.1 588.2 L374.1 589.2 L374.0 590.2 L373.9 591.2 L373.8 592.2 L373.7 593.2 L373.5 594.2 L373.3 595.2 L373.1 596.2 L372.9 597.2 L372.6 598.2 L372.3 599.2 L372.0 600.2 L371.7 601.2 L371.3 602.2 L370.9 603.2 L370.5 604.2 L370.1 605.2 L369.7 606.2 L369.2 607.2 L368.7 608.2 L368.2 609.2 L367.6 610.2 L367.0 611.2 L366.4 612.2 L365.8 613.2 L365.2 614.2 L364.5 615.2 L363.8 616.2 L363.1 617.2 L362.3 618.2 L361.5 619.2 L360.7 620.2 L359.9 621.2 L359.1 622.2 L358.2 623.2 L357.3 624.2 L356.3 625.2 L355.4 626.2 L354.4 627.2 L353.4 628.2 L352.3 629.2 L351.3 630.2 L350.2 631.2 L349.0 632.2 L347.9 633.2 L346.7 634.2 L345.5 635.2 L344.3 636.2 L343.1 637.2 L341.9 638.2 L340.6 639.2 L339.4 640.2 L338.1 641.2 L336.8 642.2 L335.5 643.2 L334.2 644.2 L332.9 645.2 L331.5 646.2 L330.2 647.2 L328.9 648.2 L327.5 649.2 L326.2 650.2 L324.8 651.2 L323.5 652.2 L322.1 653.2 L320.8 654.2 L319.5 655.2 L318.1 656.2 L316.8 657.2 L315.5 658.2 L314.2 659.2 L312.9 660.2 L311.6 661.2 L310.4 662.2 L309.1 663.2 L307.9 664.2 L306.6 665.2 L305.4 666.2 L304.3 667.2 L303.1 668.2 L301.9 669.2 L300.8 670.2 L299.7 671.2 L298.7 672.2 L297.6 673.2 L296.6 674.2 L295.6 675.2 L294.7 676.2 L293.7 677.2 L292.8 678.2 L292.0 679.2 L291.2 680.2 L290.8 680.7" stroke="#b8bc50"/>
<path d="M321.6 237.2 L322.3 238.2 L323.1 239.2 L323.8 240.2 L324.5 241.2 L325.2 242.2 L325.9 243.2 L326.6 244.2 L327.3 245.2 L328.0 246.2 L328.7 247.2 L329.4 248.2 L330.1 249.2 L330.8 250.2 L331.5 251.2 L332.3 252.2 L333.0 253.2 L333.7 254.2 L334.4 255.2 L335.1 256.2 L335.7 257.2 L336.4 258.2 L337.1 259.2 L337.8 260.2 L338.5 261.2 L339.2 262.2 L339.9 263.2 L340.6 264.2 L341.2 265.2 L341.9 266.2 L342.6 267.2 L343.2 268.2 L343.9 269.2 L344.5 270.2 L345.2 271.2 L345.8 272.2 L346.5 273.2 L347.1 274.2 L347.8 275.2 L348.4 276.2 L349.0 277.2 L349.6 278.2 L350.3 279.2 L350.9 280.2 L351.5 281.2 L352.1 282.2 L352.7 283.2 L353.2 284.2 L353.8 285.2 L354.4 286.2 L355.0 287.2 L355.5 288.2 L356.1 289.2 L356.6 290.2 L357.2 291.2 L357.7 292.2 L358.2 293.2 L358.7 294.2 L359.2 295.2 L359.7 296.2 L360.2 297.2 L360.7 298.2 L361.1 299.2 L361.6 300.2 L362.0 301.2 L362.5 302.2 L362.9 303.2 L363.3 304.2 L363.7 305.2 L364.1 306.2 L364.5 307.2 L364.8 308.2 L365.2 309.2 L365.5 310.2 L365.9 311.2 L366.2 312.2 L366.5 313.2 L366.7 314.2 L367.0 315.2 L367.3 316.2 L367.5 317.2 L367.7 318.2 L367.9 319.2 L368.1 320.2 L368.3 321.2 L368.5 322.2 L368.6 323.2 L368.7 324.2 L368.8 325.2 L368.9 326.2 L369.0 327.2 L369.0 328.2 L369.0 329.2 L369.1 330.2 L369.1 331.2 L369.0 332.2 L369.0 333.2 L368.9 334.2 L368.8 335.2 L368.7 336.2 L368.6 337.2 L368.4 338.2 L368.3 339.2 L368.1 340.2 L367.9 341.2 L367.6 342.2 L367.4 343.2 L367.1 344.2 L366.8 345.2 L366.5 346.2 L366.1 347.2 L365.8 348.2 L365.4 349.2 L365.0 350.2 L364.5 351.2 L364.1 352.2 L363.6 353.2 L363.1 354.2 L362.5 355.2 L362.0 356.2 L361.4 357.2 L360.8 358.2 L360.1 359.2 L359.4 360.2 L358.8 361.2 L358.0 362.2 L357.3 363.2 L356.5 364.2 L355.7 365.2 L354.9 366.2 L354.0 367.2 L353.2 368.2 L352.2 369.2 L351.3 370.2 L350.3 371.2 L349.3 372.2 L348.3 373.2 L347.3 374.2 L346.2 375.2 L345.2 376.2 L344.1 377.2 L342.9 378.2 L341.8 379.2 L340.6 380.2 L339.5 381.2 L338.3 382.2 L337.1 383.2 L335.8 384.2 L334.6 385.2 L333.4 386.2 L332.1 387.2 L330.8 388.2 L329.6 389.2 L328.3 390.2 L327.0 391.2 L325.7 392.2 L324.4 393.2 L323.0 394.2 L321.7 395.2 L320.4 396.2 L319.0 397.2 L317.7 398.2 L316.4 399.2 L315.0 400.2 L313.7 401.2 L312.3 402.2 L311.0 403.2 L309.7 404.2 L308.3 405.2 L307.0 406.2 L305.7 407.2 L304.4 408.2 L303.1 409.2 L301.8 410.2 L300.5 411.2 L299.2 412.2 L298.0 413.2 L296.7 414.2 L295.5 415.2 L294.3 416.2 L293.2 417.2 L292.0 418.2 L290.9 419.2 L289.8 420.2 L288.8 421.2 L287.8 422.2 L286.8 423.2 L285.8 424.2 L284.9 425.2 L284.1 426.2 L283.3 427.2 L282.5 428.2 L281.8 429.2 L281.1 430.2 L280.4 431.2 L279.9 432.2 L279.3 433.2 L278.9 434.2 L278.4 435.2 L278.1 436.2 L277.8 437.2 L277.5 438.2 L277.3 439.2 L277.2 440.2 L277.1 441.2 L277.1 442.2 L277.2 443.2 L277.3 444.2 L277.5 445.2 L277.7 446.2 L278.0 447.2 L278.4 448.2 L278.8 449.2 L279.3 450.2 L279.8 451.2 L280.4 452.2 L281.0 453.2 L281.7 454.2 L282.4 455.2 L283.1 456.2 L283.9 457.2 L284.8 458.2 L285.7 459.2 L286.6 460.2 L287.5 461.2 L288.5 462.2 L289.5 463.2 L290.5 464.2 L291.6 465.2 L292.7 466.2 L293.7 467.2 L294.9 468.2 L296.0 469.2 L297.1 470.2 L298.3 471.2 L299.4 472.2 L300.5 473.2 L301.7 474.2 L302.8 475.2 L304.0 476.2 L305.1 477.2 L306.3 478.2 L307.4 479.2 L308.5 480.2 L309.7 481.2 L310.8 482.2 L311.9 483.2 L313.0 484.2 L314.1 485.2 L315.2 486.2 L316.2 487.2 L317.3 488.2 L318.3 489.2 L319.4 490.2 L320.4 491.2 L321.4 492.2 L322.3 493.2 L323.3 494.2 L324.2 495.2 L325.1 496.2 L326.0 497.2 L326.9 498.2 L327.7 499.2 L328.6 500.2 L329.4 501.2 L330.1 502.2 L330.9 503.2 L331.6 504.2 L332.3 505.2 L333.0 506.2 L333.7 507.2 L334.4 508.2 L335.0 509.2 L335.6 510.2 L336.2 511.2 L336.8 512.2 L337.4 513.2 L337.9 514.2 L338.5 515.2 L339.0 516.2 L339.6 517.2 L340.1 518.2 L340.6 519.2 L341.1 520.2 L341.6 521.2 L342.1 522.2 L342.6 523.2 L343.1 524.2 L343.6 525.2 L344.1 526.2 L344.6 527.2 L345.1 528.2 L345.6 529.2 L346.1 530.2 L346.6 531.2 L347.1 532.2 L347.6 533.2 L348.1 534.2 L348.6 535.2 L349.2 536.2 L349.7 537.2 L350.2 538.2 L350.8 539.2 L351.3 540.2 L351.9 541.2 L352.4 542.2 L353.0 543.2 L353.6 544.2 L354.1 545.2 L354.7 546.2 L355.3 547.2 L355.8 548.2 L356.4 549.2 L357.0 550.2 L357.5 551.2 L358.1 552.2 L358.6 553.2 L359.2 554.2 L359.7 555.2 L360.2 556.2 L360.8 557.2 L361.3 558.2 L361.8 559.2 L362.3 560.2 L362.8 561.2 L363.2 562.2 L363.7 563.2 L364.1 564.2 L364.6 565.2 L365.0 566.2 L365.4 567.2 L365.7 568.2 L366.1 569.2 L366.4 570.2 L366.7 571.2 L367.0 572.2 L367.3 573.2 L367.6 574.2 L367.8 575.2 L368.0 576.2 L368.2 577.2 L368.4 578.2 L368.6 579.2 L368.7 580.2 L368.8 581.2 L368.9 582.2 L369.0 583.2 L369.0 584.2 L369.1 585.2 L369.1 586.2 L369.0 587.2 L369.0 588.2 L368.9 589.2 L368.9 590.2 L368.8 591.2 L368.6 592.2 L368.5 593.2 L368.3 594.2 L368.1 595.2 L367.9 596.2 L367.6 597.2 L367.4 598.2 L367.1 599.2 L366.8 600.2 L366.5 601.2 L366.1 602.2 L365.7 603.2 L365.3 604.2 L364.9 605.2 L364.4 606.2 L363.9 607.2 L363.4 608.2 L362.9 609.2 L362.4 610.2 L361.8 611.2 L361.2 612.2 L360.6 613.2 L359.9 614.2 L359.2 615.2 L358.5 616.2 L357.8 617.2 L357.1 618.2 L356.3 619.2 L355.5 620.2 L354.7 621.2 L353.8 622.2 L352.9 623.2 L352.0 624.2 L351.1 625.2 L350.2 626.2 L349.2 627.2 L348.2 628.2 L347.1 629.2 L346.1 630.2 L345.0 631.2 L343.9 632.2 L342.7 633.2 L341.6 634.2 L340.4 635.2 L339.2 636.2 L338.0 637.2 L336.8 638.2 L335.5 639.2 L334.3 640.2 L333.0 641.2 L331.7 642.2 L330.4 643.2 L329.1 644.2 L327.8 645.2 L326.5 646.2 L325.2 647.2 L323.9 648.2 L322.5 649.2 L321.2 650.2 L319.9 651.2 L318.5 652.2 L317.2 653.2 L315.9 654.2 L314.6 655.2 L313.3 656.2 L312.0 657.2 L310.7 658.2 L309.4 659.2 L308.1 660.2 L306.8 661.2 L305.6 662.2 L304.3 663.2 L303.1 664.2 L301.9 665.2 L300.7 666.2 L299.5 667.2 L298.4 668.2 L297.3 669.2 L296.1 670.2 L295.1 671.2 L294.0 672.2 L293.0 673.2 L292.0 674.2 L291.0 675.2 L290.1 676.2 L289.1 677.2 L288.3 678.2 L287.4 679.2 L286.6 680.2 L286.2 680.7" stroke="#d8b840"/>
<path d="M317.5 237.2 L318.2 238.2 L318.9 239.2 L319.6 240.2 L320.3 241.2 L321.0 242.2 L321.7 243.2 L322.4 244.2 L323.1 245.2 L323.8 246.2 L324.5 247.2 L325.2 248.2 L325.9 249.2 L326.7 250.2 L327.4 251.2 L328.1 252.2 L328.8 253.2 L329.5 254.2 L330.2 255.2 L330.9 256.2 L331.5 257.2 L332.2 258.2 L332.9 259.2 L333.6 260.2 L334.3 261.2 L335.0 262.2 L335.7 263.2 L336.3 264.2 L337.0 265.2 L337.7 266.2 L338.3 267.2 L339.0 268.2 L339.7 269.2 L340.3 270.2 L341.0 271.2 L341.6 272.2 L342.3 273.2 L342.9 274.2 L343.5 275.2 L344.2 276.2 L344.8 277.2 L345.4 278.2 L346.0 279.2 L346.6 280.2 L347.2 281.2 L347.8 282.2 L348.4 283.2 L349.0 284.2 L349.5 285.2 L350.1 286.2 L350.7 287.2 L351.2 288.2 L351.7 289.2 L352.3 290.2 L352.8 291.2 L353.3 292.2 L353.8 293.2 L354.3 294.2 L354.8 295.2 L355.3 296.2 L355.8 297.2 L356.3 298.2 L356.7 299.2 L357.2 300.2 L357.6 301.2 L358.0 302.2 L358.4 303.2 L358.8 304.2 L359.2 305.2 L359.6 306.2 L359.9 307.2 L360.3 308.2 L360.6 309.2 L361.0 310.2 L361.3 311.2 L361.6 312.2 L361.8 313.2 L362.1 314.2 L362.4 315.2 L362.6 316.2 L362.8 317.2 L363.0 318.2 L363.2 319.2 L363.4 320.2 L363.6 321.2 L363.7 322.2 L363.8 323.2 L363.9 324.2 L364.0 325.2 L364.1 326.2 L364.2 327.2 L364.2 328.2 L364.2 329.2 L364.2 330.2 L364.2 331.2 L364.2 332.2 L364.1 333.2 L364.0 334.2 L363.9 335.2 L363.8 336.2 L363.7 337.2 L363.5 338.2 L363.3 339.2 L363.1 340.2 L362.9 341.2 L362.7 342.2 L362.4 343.2 L362.1 344.2 L361.8 345.2 L361.5 346.2 L361.2 347.2 L360.8 348.2 L360.4 349.2 L360.0 350.2 L359.5 351.2 L359.0 352.2 L358.6 353.2 L358.0 354.2 L357.5 355.2 L356.9 356.2 L356.3 357.2 L355.7 358.2 L355.1 359.2 L354.4 360.2 L353.7 361.2 L353.0 362.2 L352.3 363.2 L351.5 364.2 L350.7 365.2 L349.9 366.2 L349.0 367.2 L348.1 368.2 L347.2 369.2 L346.3 370.2 L345.3 371.2 L344.3 372.2 L343.3 373.2 L342.3 374.2 L341.2 375.2 L340.2 376.2 L339.1 377.2 L337.9 378.2 L336.8 379.2 L335.7 380.2 L334.5 381.2 L333.3 382.2 L332.1 383.2 L330.9 384.2 L329.7 385.2 L328.4 386.2 L327.2 387.2 L325.9 388.2 L324.6 389.2 L323.3 390.2 L322.0 391.2 L320.7 392.2 L319.4 393.2 L318.1 394.2 L316.8 395.2 L315.5 396.2 L314.2 397.2 L312.8 398.2 L311.5 399.2 L310.2 400.2 L308.8 401.2 L307.5 402.2 L306.2 403.2 L304.8 404.2 L303.5 405.2 L302.2 406.2 L300.9 407.2 L299.6 408.2 L298.3 409.2 L297.0 410.2 L295.8 411.2 L294.5 412.2 L293.3 413.2 L292.1 414.2 L290.9 415.2 L289.7 416.2 L288.5 417.2 L287.4 418.2 L286.3 419.2 L285.3 420.2 L284.2 421.2 L283.2 422.2 L282.3 423.2 L281.3 424.2 L280.5 425.2 L279.6 426.2 L278.8 427.2 L278.1 428.2 L277.3 429.2 L276.7 430.2 L276.1 431.2 L275.5 432.2 L275.0 433.2 L274.5 434.2 L274.1 435.2 L273.7 436.2 L273.4 437.2 L273.2 438.2 L273.0 439.2 L272.9 440.2 L272.8 441.2 L272.8 442.2 L272.9 443.2 L273.0 444.2 L273.2 445.2 L273.5 446.2 L273.8 447.2 L274.2 448.2 L274.6 449.2 L275.1 450.2 L275.6 451.2 L276.2 452.2 L276.8 453.2 L277.5 454.2 L278.2 455.2 L279.0 456.2 L279.8 457.2 L280.6 458.2 L281.5 459.2 L282.4 460.2 L283.3 461.2 L284.3 462.2 L285.3 463.2 L286.4 464.2 L287.4 465.2 L288.5 466.2 L289.6 467.2 L290.7 468.2 L291.9 469.2 L293.0 470.2 L294.1 471.2 L295.3 472.2 L296.4 473.2 L297.6 474.2 L298.7 475.2 L299.9 476.2 L301.0 477.2 L302.2 478.2 L303.3 479.2 L304.5 480.2 L305.6 481.2 L306.7 482.2 L307.8 483.2 L308.9 484.2 L310.0 485.2 L311.1 486.2 L312.2 487.2 L313.2 488.2 L314.3 489.2 L315.3 490.2 L316.3 491.2 L317.3 492.2 L318.3 493.2 L319.2 494.2 L320.2 495.2 L321.1 496.2 L322.0 497.2 L322.9 498.2 L323.7 499.2 L324.6 500.2 L325.4 501.2 L326.1 502.2 L326.9 503.2 L327.6 504.2 L328.3 505.2 L329.0 506.2 L329.7 507.2 L330.4 508.2 L331.0 509.2 L331.6 510.2 L332.2 511.2 L332.8 512.2 L333.4 513.2 L333.9 514.2 L334.5 515.2 L335.0 516.2 L335.6 517.2 L336.1 518.2 L336.6 519.2 L337.1 520.2 L337.6 521.2 L338.1 522.2 L338.6 523.2 L339.1 524.2 L339.6 525.2 L340.1 526.2 L340.6 527.2 L341.0 528.2 L341.5 529.2 L342.0 530.2 L342.5 531.2 L343.0 532.2 L343.5 533.2 L344.0 534.2 L344.5 535.2 L345.0 536.2 L345.5 537.2 L346.0 538.2 L346.6 539.2 L347.1 540.2 L347.7 541.2 L348.2 542.2 L348.8 543.2 L349.3 544.2 L349.9 545.2 L350.4 546.2 L351.0 547.2 L351.5 548.2 L352.1 549.2 L352.6 550.2 L353.2 551.2 L353.7 552.2 L354.3 553.2 L354.8 554.2 L355.3 555.2 L355.8 556.2 L356.4 557.2 L356.9 558.2 L357.3 559.2 L357.8 560.2 L358.3 561.2 L358.7 562.2 L359.2 563.2 L359.6 564.2 L360.0 565.2 L360.4 566.2 L360.8 567.2 L361.2 568.2 L361.5 569.2 L361.8 570.2 L362.1 571.2 L362.4 572.2 L362.7 573.2 L362.9 574.2 L363.2 575.2 L363.4 576.2 L363.6 577.2 L363.7 578.2 L363.9 579.2 L364.0 580.2 L364.1 581.2 L364.2 582.2 L364.2 583.2 L364.3 584.2 L364.3 585.2 L364.3 586.2 L364.3 587.2 L364.2 588.2 L364.2 589.2 L364.1 590.2 L364.0 591.2 L363.8 592.2 L363.7 593.2 L363.5 594.2 L363.3 595.2 L363.1 596.2 L362.8 597.2 L362.5 598.2 L362.3 599.2 L361.9 600.2 L361.6 601.2 L361.2 602.2 L360.9 603.2 L360.4 604.2 L360.0 605.2 L359.6 606.2 L359.1 607.2 L358.6 608.2 L358.0 609.2 L357.5 610.2 L356.9 611.2 L356.3 612.2 L355.7 613.2 L355.0 614.2 L354.4 615.2 L353.7 616.2 L353.0 617.2 L352.2 618.2 L351.4 619.2 L350.6 620.2 L349.8 621.2 L349.0 622.2 L348.1 623.2 L347.2 624.2 L346.3 625.2 L345.3 626.2 L344.3 627.2 L343.3 628.2 L342.3 629.2 L341.2 630.2 L340.2 631.2 L339.1 632.2 L337.9 633.2 L336.8 634.2 L335.6 635.2 L334.4 636.2 L333.2 637.2 L332.0 638.2 L330.8 639.2 L329.5 640.2 L328.3 641.2 L327.0 642.2 L325.7 643.2 L324.5 644.2 L323.2 645.2 L321.9 646.2 L320.5 647.2 L319.2 648.2 L317.9 649.2 L316.6 650.2 L315.3 651.2 L314.0 652.2 L312.7 653.2 L311.3 654.2 L310.0 655.2 L308.7 656.2 L307.4 657.2 L306.2 658.2 L304.9 659.2 L303.6 660.2 L302.4 661.2 L301.1 662.2 L299.9 663.2 L298.7 664.2 L297.5 665.2 L296.3 666.2 L295.1 667.2 L294.0 668.2 L292.9 669.2 L291.8 670.2 L290.7 671.2 L289.7 672.2 L288.7 673.2 L287.7 674.2 L286.7 675.2 L285.8 676.2 L284.9 677.2 L284.0 678.2 L283.2 679.2 L282.4 680.2 L282.0 680.7" stroke="#f0b030"/>
<path d="M314.3 237.2 L315.0 238.2 L315.7 239.2 L316.4 240.2 L317.1 241.2 L317.8 242.2 L318.5 243.2 L319.2 244.2 L319.9 245.2 L320.6 246.2 L321.3 247.2 L322.0 248.2 L322.7 249.2 L323.4 250.2 L324.1 251.2 L324.8 252.2 L325.5 253.2 L326.2 254.2 L326.9 255.2 L327.6 256.2 L328.3 257.2 L329.0 258.2 L329.7 259.2 L330.4 260.2 L331.1 261.2 L331.7 262.2 L332.4 263.2 L333.1 264.2 L333.8 265.2 L334.4 266.2 L335.1 267.2 L335.8 268.2 L336.4 269.2 L337.1 270.2 L337.7 271.2 L338.4 272.2 L339.0 273.2 L339.6 274.2 L340.3 275.2 L340.9 276.2 L341.5 277.2 L342.1 278.2 L342.7 279.2 L343.3 280.2 L343.9 281.2 L344.5 282.2 L345.1 283.2 L345.7 284.2 L346.2 285.2 L346.8 286.2 L347.3 287.2 L347.9 288.2 L348.4 289.2 L349.0 290.2 L349.5 291.2 L350.0 292.2 L350.5 293.2 L351.0 294.2 L351.5 295.2 L351.9 296.2 L352.4 297.2 L352.9 298.2 L353.3 299.2 L353.7 300.2 L354.2 301.2 L354.6 302.2 L355.0 303.2 L355.4 304.2 L355.7 305.2 L356.1 306.2 L356.5 307.2 L356.8 308.2 L357.1 309.2 L357.4 310.2 L357.7 311.2 L358.0 312.2 L358.3 313.2 L358.5 314.2 L358.8 315.2 L359.0 316.2 L359.2 317.2 L359.4 318.2 L359.6 319.2 L359.8 320.2 L359.9 321.2 L360.0 322.2 L360.2 323.2 L360.3 324.2 L360.3 325.2 L360.4 326.2 L360.5 327.2 L360.5 328.2 L360.5 329.2 L360.5 330.2 L360.5 331.2 L360.4 332.2 L360.4 333.2 L360.3 334.2 L360.2 335.2 L360.0 336.2 L359.9 337.2 L359.7 338.2 L359.6 339.2 L359.3 340.2 L359.1 341.2 L358.9 342.2 L358.6 343.2 L358.3 344.2 L358.0 345.2 L357.7 346.2 L357.3 347.2 L356.9 348.2 L356.5 349.2 L356.1 350.2 L355.7 351.2 L355.2 352.2 L354.7 353.2 L354.2 354.2 L353.6 355.2 L353.1 356.2 L352.5 357.2 L351.9 358.2 L351.2 359.2 L350.5 360.2 L349.9 361.2 L349.1 362.2 L348.4 363.2 L347.6 364.2 L346.8 365.2 L346.0 366.2 L345.1 367.2 L344.3 368.2 L343.4 369.2 L342.4 370.2 L341.5 371.2 L340.5 372.2 L339.5 373.2 L338.4 374.2 L337.4 375.2 L336.3 376.2 L335.2 377.2 L334.1 378.2 L333.0 379.2 L331.8 380.2 L330.7 381.2 L329.5 382.2 L328.3 383.2 L327.1 384.2 L325.8 385.2 L324.6 386.2 L323.4 387.2 L322.1 388.2 L320.8 389.2 L319.6 390.2 L318.3 391.2 L317.0 392.2 L315.7 393.2 L314.4 394.2 L313.0 395.2 L311.7 396.2 L310.4 397.2 L309.1 398.2 L307.8 399.2 L306.4 400.2 L305.1 401.2 L303.8 402.2 L302.4 403.2 L301.1 404.2 L299.8 405.2 L298.5 406.2 L297.2 407.2 L295.9 408.2 L294.6 409.2 L293.4 410.2 L292.1 411.2 L290.9 412.2 L289.7 413.2 L288.5 414.2 L287.3 415.2 L286.1 416.2 L285.0 417.2 L283.9 418.2 L282.8 419.2 L281.8 420.2 L280.7 421.2 L279.8 422.2 L278.8 423.2 L277.9 424.2 L277.0 425.2 L276.2 426.2 L275.4 427.2 L274.7 428.2 L274.0 429.2 L273.3 430.2 L272.7 431.2 L272.1 432.2 L271.6 433.2 L271.2 434.2 L270.8 435.2 L270.4 436.2 L270.1 437.2 L269.9 438.2 L269.7 439.2 L269.6 440.2 L269.5 441.2 L269.5 442.2 L269.6 443.2 L269.8 444.2 L270.0 445.2 L270.2 446.2 L270.5 447.2 L270.9 448.2 L271.3 449.2 L271.8 450.2 L272.3 451.2 L272.9 452.2 L273.6 453.2 L274.2 454.2 L275.0 455.2 L275.7 456.2 L276.5 457.2 L277.4 458.2 L278.3 459.2 L279.2 460.2 L280.2 461.2 L281.1 462.2 L282.2 463.2 L283.2 464.2 L284.3 465.2 L285.3 466.2 L286.4 467.2 L287.6 468.2 L288.7 469.2 L289.8 470.2 L291.0 471.2 L292.1 472.2 L293.3 473.2 L294.4 474.2 L295.6 475.2 L296.8 476.2 L297.9 477.2 L299.0 478.2 L300.2 479.2 L301.3 480.2 L302.5 481.2 L303.6 482.2 L304.7 483.2 L305.8 484.2 L306.9 485.2 L308.0 486.2 L309.1 487.2 L310.1 488.2 L311.2 489.2 L312.2 490.2 L313.2 491.2 L314.2 492.2 L315.2 493.2 L316.1 494.2 L317.1 495.2 L318.0 496.2 L318.9 497.2 L319.8 498.2 L320.6 499.2 L321.5 500.2 L322.3 501.2 L323.0 502.2 L323.8 503.2 L324.5 504.2 L325.3 505.2 L325.9 506.2 L326.6 507.2 L327.3 508.2 L327.9 509.2 L328.5 510.2 L329.1 511.2 L329.7 512.2 L330.3 513.2 L330.9 514.2 L331.4 515.2 L332.0 516.2 L332.5 517.2 L333.0 518.2 L333.5 519.2 L334.0 520.2 L334.5 521.2 L335.0 522.2 L335.5 523.2 L336.0 524.2 L336.5 525.2 L337.0 526.2 L337.4 527.2 L337.9 528.2 L338.4 529.2 L338.9 530.2 L339.3 531.2 L339.8 532.2 L340.3 533.2 L340.8 534.2 L341.3 535.2 L341.8 536.2 L342.3 537.2 L342.8 538.2 L343.4 539.2 L343.9 540.2 L344.4 541.2 L345.0 542.2 L345.5 543.2 L346.0 544.2 L346.6 545.2 L347.1 546.2 L347.7 547.2 L348.2 548.2 L348.8 549.2 L349.3 550.2 L349.8 551.2 L350.4 552.2 L350.9 553.2 L351.4 554.2 L351.9 555.2 L352.4 556.2 L352.9 557.2 L353.4 558.2 L353.9 559.2 L354.4 560.2 L354.8 561.2 L355.3 562.2 L355.7 563.2 L356.1 564.2 L356.5 565.2 L356.9 566.2 L357.3 567.2 L357.7 568.2 L358.0 569.2 L358.3 570.2 L358.6 571.2 L358.9 572.2 L359.1 573.2 L359.4 574.2 L359.6 575.2 L359.8 576.2 L360.0 577.2 L360.1 578.2 L360.3 579.2 L360.4 580.2 L360.5 581.2 L360.6 582.2 L360.6 583.2 L360.6 584.2 L360.6 585.2 L360.6 586.2 L360.6 587.2 L360.6 588.2 L360.5 589.2 L360.4 590.2 L360.3 591.2 L360.1 592.2 L360.0 593.2 L359.8 594.2 L359.6 595.2 L359.3 596.2 L359.1 597.2 L358.8 598.2 L358.5 599.2 L358.2 600.2 L357.9 601.2 L357.5 602.2 L357.1 603.2 L356.7 604.2 L356.3 605.2 L355.8 606.2 L355.3 607.2 L354.8 608.2 L354.3 609.2 L353.7 610.2 L353.2 611.2 L352.6 612.2 L351.9 613.2 L351.3 614.2 L350.6 615.2 L349.9 616.2 L349.2 617.2 L348.5 618.2 L347.7 619.2 L346.9 620.2 L346.1 621.2 L345.2 622.2 L344.4 623.2 L343.5 624.2 L342.5 625.2 L341.6 626.2 L340.6 627.2 L339.6 628.2 L338.6 629.2 L337.5 630.2 L336.5 631.2 L335.4 632.2 L334.3 633.2 L333.1 634.2 L332.0 635.2 L330.8 636.2 L329.6 637.2 L328.4 638.2 L327.2 639.2 L325.9 640.2 L324.7 641.2 L323.4 642.2 L322.1 643.2 L320.8 644.2 L319.6 645.2 L318.3 646.2 L317.0 647.2 L315.7 648.2 L314.4 649.2 L313.1 650.2 L311.7 651.2 L310.4 652.2 L309.1 653.2 L307.8 654.2 L306.5 655.2 L305.2 656.2 L304.0 657.2 L302.7 658.2 L301.4 659.2 L300.2 660.2 L298.9 661.2 L297.7 662.2 L296.5 663.2 L295.3 664.2 L294.1 665.2 L292.9 666.2 L291.8 667.2 L290.6 668.2 L289.5 669.2 L288.5 670.2 L287.4 671.2 L286.4 672.2 L285.4 673.2 L284.4 674.2 L283.4 675.2 L282.5 676.2 L281.6 677.2 L280.7 678.2 L279.9 679.2 L279.1 680.2 L278.8 680.7" stroke="#f8b828"/>
<path d="M311.8 237.2 L312.4 238.2 L313.1 239.2 L313.8 240.2 L314.5 241.2 L315.2 242.2 L315.9 243.2 L316.6 244.2 L317.3 245.2 L318.0 246.2 L318.7 247.2 L319.4 248.2 L320.1 249.2 L320.8 250.2 L321.5 251.2 L322.2 252.2 L322.9 253.2 L323.6 254.2 L324.3 255.2 L325.0 256.2 L325.7 257.2 L326.4 258.2 L327.1 259.2 L327.8 260.2 L328.5 261.2 L329.2 262.2 L329.8 263.2 L330.5 264.2 L331.2 265.2 L331.8 266.2 L332.5 267.2 L333.2 268.2 L333.8 269.2 L334.5 270.2 L335.1 271.2 L335.8 272.2 L336.4 273.2 L337.0 274.2 L337.7 275.2 L338.3 276.2 L338.9 277.2 L339.5 278.2 L340.1 279.2 L340.7 280.2 L341.3 281.2 L341.9 282.2 L342.5 283.2 L343.0 284.2 L343.6 285.2 L344.1 286.2 L344.7 287.2 L345.2 288.2 L345.8 289.2 L346.3 290.2 L346.8 291.2 L347.3 292.2 L347.8 293.2 L348.3 294.2 L348.8 295.2 L349.2 296.2 L349.7 297.2 L350.1 298.2 L350.6 299.2 L351.0 300.2 L351.4 301.2 L351.8 302.2 L352.2 303.2 L352.6 304.2 L353.0 305.2 L353.3 306.2 L353.7 307.2 L354.0 308.2 L354.3 309.2 L354.6 310.2 L354.9 311.2 L355.2 312.2 L355.4 313.2 L355.7 314.2 L355.9 315.2 L356.1 316.2 L356.3 317.2 L356.5 318.2 L356.7 319.2 L356.9 320.2 L357.0 321.2 L357.1 322.2 L357.2 323.2 L357.3 324.2 L357.4 325.2 L357.5 326.2 L357.5 327.2 L357.5 328.2 L357.5 329.2 L357.5 330.2 L357.5 331.2 L357.4 332.2 L357.4 333.2 L357.3 334.2 L357.2 335.2 L357.0 336.2 L356.9 337.2 L356.7 338.2 L356.5 339.2 L356.3 340.2 L356.1 341.2 L355.8 342.2 L355.6 343.2 L355.3 344.2 L354.9 345.2 L354.6 346.2 L354.2 347.2 L353.9 348.2 L353.5 349.2 L353.0 350.2 L352.6 351.2 L352.1 352.2 L351.6 353.2 L351.1 354.2 L350.5 355.2 L350.0 356.2 L349.4 357.2 L348.8 358.2 L348.1 359.2 L347.5 360.2 L346.8 361.2 L346.0 362.2 L345.3 363.2 L344.5 364.2 L343.7 365.2 L342.9 366.2 L342.1 367.2 L341.2 368.2 L340.3 369.2 L339.3 370.2 L338.4 371.2 L337.4 372.2 L336.4 373.2 L335.4 374.2 L334.3 375.2 L333.2 376.2 L332.2 377.2 L331.0 378.2 L329.9 379.2 L328.8 380.2 L327.6 381.2 L326.4 382.2 L325.2 383.2 L324.0 384.2 L322.8 385.2 L321.6 386.2 L320.3 387.2 L319.1 388.2 L317.8 389.2 L316.5 390.2 L315.2 391.2 L313.9 392.2 L312.6 393.2 L311.3 394.2 L310.0 395.2 L308.7 396.2 L307.4 397.2 L306.1 398.2 L304.8 399.2 L303.4 400.2 L302.1 401.2 L300.8 402.2 L299.5 403.2 L298.2 404.2 L296.8 405.2 L295.5 406.2 L294.2 407.2 L293.0 408.2 L291.7 409.2 L290.4 410.2 L289.2 411.2 L288.0 412.2 L286.8 413.2 L285.6 414.2 L284.4 415.2 L283.3 416.2 L282.1 417.2 L281.0 418.2 L280.0 419.2 L278.9 420.2 L277.9 421.2 L277.0 422.2 L276.0 423.2 L275.1 424.2 L274.3 425.2 L273.5 426.2 L272.7 427.2 L271.9 428.2 L271.2 429.2 L270.6 430.2 L270.0 431.2 L269.4 432.2 L268.9 433.2 L268.5 434.2 L268.1 435.2 L267.7 436.2 L267.5 437.2 L267.2 438.2 L267.1 439.2 L266.9 440.2 L266.9 441.2 L266.9 442.2 L267.0 443.2 L267.1 444.2 L267.3 445.2 L267.6 446.2 L267.9 447.2 L268.3 448.2 L268.7 449.2 L269.2 450.2 L269.8 451.2 L270.3 452.2 L271.0 453.2 L271.7 454.2 L272.4 455.2 L273.2 456.2 L274.0 457.2 L274.8 458.2 L275.7 459.2 L276.6 460.2 L277.6 461.2 L278.6 462.2 L279.6 463.2 L280.6 464.2 L281.7 465.2 L282.8 466.2 L283.9 467.2 L285.0 468.2 L286.2 469.2 L287.3 470.2 L288.5 471.2 L289.6 472.2 L290.8 473.2 L291.9 474.2 L293.1 475.2 L294.2 476.2 L295.4 477.2 L296.5 478.2 L297.7 479.2 L298.8 480.2 L300.0 481.2 L301.1 482.2 L302.2 483.2 L303.3 484.2 L304.4 485.2 L305.5 486.2 L306.6 487.2 L307.6 488.2 L308.7 489.2 L309.7 490.2 L310.7 491.2 L311.7 492.2 L312.7 493.2 L313.7 494.2 L314.6 495.2 L315.5 496.2 L316.4 497.2 L317.3 498.2 L318.2 499.2 L319.0 500.2 L319.8 501.2 L320.6 502.2 L321.3 503.2 L322.1 504.2 L322.8 505.2 L323.5 506.2 L324.2 507.2 L324.8 508.2 L325.5 509.2 L326.1 510.2 L326.7 511.2 L327.3 512.2 L327.8 513.2 L328.4 514.2 L329.0 515.2 L329.5 516.2 L330.0 517.2 L330.5 518.2 L331.1 519.2 L331.6 520.2 L332.0 521.2 L332.5 522.2 L333.0 523.2 L333.5 524.2 L334.0 525.2 L334.5 526.2 L334.9 527.2 L335.4 528.2 L335.9 529.2 L336.3 530.2 L336.8 531.2 L337.3 532.2 L337.8 533.2 L338.3 534.2 L338.7 535.2 L339.2 536.2 L339.7 537.2 L340.3 538.2 L340.8 539.2 L341.3 540.2 L341.8 541.2 L342.4 542.2 L342.9 543.2 L343.4 544.2 L344.0 545.2 L344.5 546.2 L345.0 547.2 L345.6 548.2 L346.1 549.2 L346.6 550.2 L347.2 551.2 L347.7 552.2 L348.2 553.2 L348.7 554.2 L349.2 555.2 L349.7 556.2 L350.2 557.2 L350.7 558.2 L351.2 559.2 L351.6 560.2 L352.1 561.2 L352.5 562.2 L353.0 563.2 L353.4 564.2 L353.8 565.2 L354.1 566.2 L354.5 567.2 L354.9 568.2 L355.2 569.2 L355.5 570.2 L355.8 571.2 L356.0 572.2 L356.3 573.2 L356.5 574.2 L356.7 575.2 L356.9 576.2 L357.1 577.2 L357.2 578.2 L357.4 579.2 L357.5 580.2 L357.6 581.2 L357.6 582.2 L357.7 583.2 L357.7 584.2 L357.7 585.2 L357.7 586.2 L357.7 587.2 L357.6 588.2 L357.5 589.2 L357.4 590.2 L357.3 591.2 L357.2 592.2 L357.0 593.2 L356.8 594.2 L356.6 595.2 L356.4 596.2 L356.1 597.2 L355.8 598.2 L355.5 599.2 L355.2 600.2 L354.9 601.2 L354.5 602.2 L354.1 603.2 L353.7 604.2 L353.3 605.2 L352.8 606.2 L352.3 607.2 L351.8 608.2 L351.3 609.2 L350.7 610.2 L350.2 611.2 L349.6 612.2 L348.9 613.2 L348.3 614.2 L347.6 615.2 L346.9 616.2 L346.2 617.2 L345.5 618.2 L344.7 619.2 L343.9 620.2 L343.1 621.2 L342.2 622.2 L341.4 623.2 L340.5 624.2 L339.6 625.2 L338.6 626.2 L337.6 627.2 L336.6 628.2 L335.6 629.2 L334.6 630.2 L333.5 631.2 L332.4 632.2 L331.3 633.2 L330.2 634.2 L329.0 635.2 L327.8 636.2 L326.7 637.2 L325.5 638.2 L324.2 639.2 L323.0 640.2 L321.8 641.2 L320.5 642.2 L319.2 643.2 L318.0 644.2 L316.7 645.2 L315.4 646.2 L314.1 647.2 L312.8 648.2 L311.5 649.2 L310.2 650.2 L308.9 651.2 L307.6 652.2 L306.3 653.2 L305.0 654.2 L303.7 655.2 L302.5 656.2 L301.2 657.2 L299.9 658.2 L298.7 659.2 L297.4 660.2 L296.2 661.2 L295.0 662.2 L293.7 663.2 L292.6 664.2 L291.4 665.2 L290.2 666.2 L289.1 667.2 L288.0 668.2 L286.9 669.2 L285.8 670.2 L284.7 671.2 L283.7 672.2 L282.7 673.2 L281.7 674.2 L280.8 675.2 L279.9 676.2 L279.0 677.2 L278.1 678.2 L277.3 679.2 L276.5 680.2 L276.2 680.7" stroke="#f8c820"/>
<path d="M309.5 237.2 L310.2 238.2 L310.9 239.2 L311.6 240.2 L312.3 241.2 L313.0 242.2 L313.7 243.2 L314.4 244.2 L315.1 245.2 L315.8 246.2 L316.5 247.2 L317.2 248.2 L317.9 249.2 L318.6 250.2 L319.3 251.2 L320.0 252.2 L320.7 253.2 L321.4 254.2 L322.1 255.2 L322.8 256.2 L323.5 257.2 L324.2 258.2 L324.8 259.2 L325.5 260.2 L326.2 261.2 L326.9 262.2 L327.6 263.2 L328.2 264.2 L328.9 265.2 L329.6 266.2 L330.2 267.2 L330.9 268.2 L331.6 269.2 L332.2 270.2 L332.8 271.2 L333.5 272.2 L334.1 273.2 L334.8 274.2 L335.4 275.2 L336.0 276.2 L336.6 277.2 L337.2 278.2 L337.8 279.2 L338.4 280.2 L339.0 281.2 L339.6 282.2 L340.2 283.2 L340.7 284.2 L341.3 285.2 L341.8 286.2 L342.4 287.2 L342.9 288.2 L343.4 289.2 L344.0 290.2 L344.5 291.2 L345.0 292.2 L345.5 293.2 L345.9 294.2 L346.4 295.2 L346.9 296.2 L347.3 297.2 L347.8 298.2 L348.2 299.2 L348.6 300.2 L349.0 301.2 L349.4 302.2 L349.8 303.2 L350.2 304.2 L350.5 305.2 L350.9 306.2 L351.2 307.2 L351.5 308.2 L351.8 309.2 L352.1 310.2 L352.4 311.2 L352.7 312.2 L353.0 313.2 L353.2 314.2 L353.4 315.2 L353.6 316.2 L353.8 317.2 L354.0 318.2 L354.2 319.2 L354.3 320.2 L354.5 321.2 L354.6 322.2 L354.7 323.2 L354.8 324.2 L354.8 325.2 L354.9 326.2 L354.9 327.2 L354.9 328.2 L354.9 329.2 L354.9 330.2 L354.9 331.2 L354.8 332.2 L354.7 333.2 L354.6 334.2 L354.5 335.2 L354.4 336.2 L354.2 337.2 L354.1 338.2 L353.9 339.2 L353.6 340.2 L353.4 341.2 L353.2 342.2 L352.9 343.2 L352.6 344.2 L352.3 345.2 L351.9 346.2 L351.6 347.2 L351.2 348.2 L350.8 349.2 L350.3 350.2 L349.9 351.2 L349.4 352.2 L348.9 353.2 L348.4 354.2 L347.8 355.2 L347.3 356.2 L346.7 357.2 L346.1 358.2 L345.4 359.2 L344.7 360.2 L344.1 361.2 L343.3 362.2 L342.6 363.2 L341.8 364.2 L341.0 365.2 L340.2 366.2 L339.3 367.2 L338.5 368.2 L337.6 369.2 L336.6 370.2 L335.7 371.2 L334.7 372.2 L333.7 373.2 L332.7 374.2 L331.6 375.2 L330.6 376.2 L329.5 377.2 L328.4 378.2 L327.2 379.2 L326.1 380.2 L324.9 381.2 L323.8 382.2 L322.6 383.2 L321.4 384.2 L320.1 385.2 L318.9 386.2 L317.7 387.2 L316.4 388.2 L315.1 389.2 L313.9 390.2 L312.6 391.2 L311.3 392.2 L310.0 393.2 L308.7 394.2 L307.4 395.2 L306.1 396.2 L304.8 397.2 L303.5 398.2 L302.1 399.2 L300.8 400.2 L299.5 401.2 L298.2 402.2 L296.9 403.2 L295.6 404.2 L294.2 405.2 L293.0 406.2 L291.7 407.2 L290.4 408.2 L289.1 409.2 L287.9 410.2 L286.6 411.2 L285.4 412.2 L284.2 413.2 L283.1 414.2 L281.9 415.2 L280.8 416.2 L279.7 417.2 L278.6 418.2 L277.5 419.2 L276.5 420.2 L275.5 421.2 L274.5 422.2 L273.6 423.2 L272.7 424.2 L271.9 425.2 L271.1 426.2 L270.3 427.2 L269.5 428.2 L268.9 429.2 L268.2 430.2 L267.6 431.2 L267.1 432.2 L266.6 433.2 L266.1 434.2 L265.8 435.2 L265.4 436.2 L265.1 437.2 L264.9 438.2 L264.7 439.2 L264.6 440.2 L264.6 441.2 L264.6 442.2 L264.7 443.2 L264.8 444.2 L265.0 445.2 L265.3 446.2 L265.6 447.2 L266.0 448.2 L266.4 449.2 L266.9 450.2 L267.5 451.2 L268.1 452.2 L268.7 453.2 L269.4 454.2 L270.1 455.2 L270.9 456.2 L271.7 457.2 L272.6 458.2 L273.5 459.2 L274.4 460.2 L275.4 461.2 L276.3 462.2 L277.4 463.2 L278.4 464.2 L279.5 465.2 L280.6 466.2 L281.7 467.2 L282.8 468.2 L283.9 469.2 L285.1 470.2 L286.2 471.2 L287.4 472.2 L288.6 473.2 L289.7 474.2 L290.9 475.2 L292.0 476.2 L293.2 477.2 L294.3 478.2 L295.5 479.2 L296.6 480.2 L297.8 481.2 L298.9 482.2 L300.0 483.2 L301.1 484.2 L302.2 485.2 L303.3 486.2 L304.4 487.2 L305.4 488.2 L306.5 489.2 L307.5 490.2 L308.5 491.2 L309.5 492.2 L310.5 493.2 L311.5 494.2 L312.4 495.2 L313.4 496.2 L314.3 497.2 L315.1 498.2 L316.0 499.2 L316.8 500.2 L317.6 501.2 L318.4 502.2 L319.2 503.2 L319.9 504.2 L320.6 505.2 L321.3 506.2 L322.0 507.2 L322.7 508.2 L323.3 509.2 L323.9 510.2 L324.5 511.2 L325.1 512.2 L325.7 513.2 L326.3 514.2 L326.8 515.2 L327.3 516.2 L327.9 517.2 L328.4 518.2 L328.9 519.2 L329.4 520.2 L329.9 521.2 L330.4 522.2 L330.8 523.2 L331.3 524.2 L331.8 525.2 L332.3 526.2 L332.7 527.2 L333.2 528.2 L333.7 529.2 L334.1 530.2 L334.6 531.2 L335.1 532.2 L335.6 533.2 L336.0 534.2 L336.5 535.2 L337.0 536.2 L337.5 537.2 L338.0 538.2 L338.5 539.2 L339.0 540.2 L339.5 541.2 L340.1 542.2 L340.6 543.2 L341.1 544.2 L341.7 545.2 L342.2 546.2 L342.7 547.2 L343.3 548.2 L343.8 549.2 L344.3 550.2 L344.8 551.2 L345.3 552.2 L345.9 553.2 L346.4 554.2 L346.9 555.2 L347.4 556.2 L347.8 557.2 L348.3 558.2 L348.8 559.2 L349.2 560.2 L349.7 561.2 L350.1 562.2 L350.5 563.2 L350.9 564.2 L351.3 565.2 L351.7 566.2 L352.1 567.2 L352.4 568.2 L352.7 569.2 L353.0 570.2 L353.3 571.2 L353.6 572.2 L353.8 573.2 L354.0 574.2 L354.2 575.2 L354.4 576.2 L354.6 577.2 L354.7 578.2 L354.9 579.2 L355.0 580.2 L355.0 581.2 L355.1 582.2 L355.1 583.2 L355.2 584.2 L355.2 585.2 L355.1 586.2 L355.1 587.2 L355.0 588.2 L355.0 589.2 L354.9 590.2 L354.7 591.2 L354.6 592.2 L354.4 593.2 L354.2 594.2 L354.0 595.2 L353.8 596.2 L353.5 597.2 L353.2 598.2 L352.9 599.2 L352.6 600.2 L352.3 601.2 L351.9 602.2 L351.5 603.2 L351.1 604.2 L350.6 605.2 L350.2 606.2 L349.7 607.2 L349.2 608.2 L348.7 609.2 L348.1 610.2 L347.5 611.2 L346.9 612.2 L346.3 613.2 L345.7 614.2 L345.0 615.2 L344.3 616.2 L343.6 617.2 L342.8 618.2 L342.1 619.2 L341.3 620.2 L340.5 621.2 L339.6 622.2 L338.8 623.2 L337.9 624.2 L336.9 625.2 L336.0 626.2 L335.0 627.2 L334.0 628.2 L333.0 629.2 L332.0 630.2 L330.9 631.2 L329.8 632.2 L328.7 633.2 L327.6 634.2 L326.4 635.2 L325.3 636.2 L324.1 637.2 L322.9 638.2 L321.7 639.2 L320.5 640.2 L319.2 641.2 L318.0 642.2 L316.7 643.2 L315.4 644.2 L314.2 645.2 L312.9 646.2 L311.6 647.2 L310.3 648.2 L309.0 649.2 L307.7 650.2 L306.4 651.2 L305.1 652.2 L303.9 653.2 L302.6 654.2 L301.3 655.2 L300.0 656.2 L298.7 657.2 L297.5 658.2 L296.2 659.2 L295.0 660.2 L293.8 661.2 L292.6 662.2 L291.4 663.2 L290.2 664.2 L289.0 665.2 L287.8 666.2 L286.7 667.2 L285.6 668.2 L284.5 669.2 L283.4 670.2 L282.4 671.2 L281.4 672.2 L280.4 673.2 L279.4 674.2 L278.5 675.2 L277.6 676.2 L276.7 677.2 L275.8 678.2 L275.0 679.2 L274.3 680.2 L273.9 680.7" stroke="#f5dc10"/>
<path d="M308.2 237.2 L308.8 238.2 L309.5 239.2 L310.2 240.2 L310.9 241.2 L311.6 242.2 L312.3 243.2 L313.0 244.2 L313.7 245.2 L314.4 246.2 L315.1 247.2 L315.8 248.2 L316.5 249.2 L317.2 250.2 L317.9 251.2 L318.6 252.2 L319.3 253.2 L320.0 254.2 L320.7 255.2 L321.4 256.2 L322.1 257.2 L322.8 258.2 L323.4 259.2 L324.1 260.2 L324.8 261.2 L325.5 262.2 L326.2 263.2 L326.8 264.2 L327.5 265.2 L328.2 266.2 L328.8 267.2 L329.5 268.2 L330.2 269.2 L330.8 270.2 L331.4 271.2 L332.1 272.2 L332.7 273.2 L333.4 274.2 L334.0 275.2 L334.6 276.2 L335.2 277.2 L335.8 278.2 L336.4 279.2 L337.0 280.2 L337.6 281.2 L338.2 282.2 L338.7 283.2 L339.3 284.2 L339.9 285.2 L340.4 286.2 L341.0 287.2 L341.5 288.2 L342.0 289.2 L342.5 290.2 L343.0 291.2 L343.5 292.2 L344.0 293.2 L344.5 294.2 L345.0 295.2 L345.4 296.2 L345.9 297.2 L346.3 298.2 L346.7 299.2 L347.1 300.2 L347.5 301.2 L347.9 302.2 L348.3 303.2 L348.7 304.2 L349.0 305.2 L349.4 306.2 L349.7 307.2 L350.0 308.2 L350.3 309.2 L350.6 310.2 L350.9 311.2 L351.2 312.2 L351.4 313.2 L351.7 314.2 L351.9 315.2 L352.1 316.2 L352.3 317.2 L352.5 318.2 L352.6 319.2 L352.8 320.2 L352.9 321.2 L353.0 322.2 L353.1 323.2 L353.2 324.2 L353.2 325.2 L353.3 326.2 L353.3 327.2 L353.3 328.2 L353.3 329.2 L353.3 330.2 L353.3 331.2 L353.2 332.2 L353.1 333.2 L353.0 334.2 L352.9 335.2 L352.8 336.2 L352.6 337.2 L352.4 338.2 L352.2 339.2 L352.0 340.2 L351.8 341.2 L351.5 342.2 L351.2 343.2 L350.9 344.2 L350.6 345.2 L350.3 346.2 L349.9 347.2 L349.5 348.2 L349.1 349.2 L348.7 350.2 L348.2 351.2 L347.8 352.2 L347.3 353.2 L346.7 354.2 L346.2 355.2 L345.6 356.2 L345.0 357.2 L344.4 358.2 L343.8 359.2 L343.1 360.2 L342.4 361.2 L341.7 362.2 L340.9 363.2 L340.2 364.2 L339.4 365.2 L338.5 366.2 L337.7 367.2 L336.8 368.2 L335.9 369.2 L335.0 370.2 L334.0 371.2 L333.0 372.2 L332.0 373.2 L331.0 374.2 L330.0 375.2 L328.9 376.2 L327.8 377.2 L326.7 378.2 L325.6 379.2 L324.4 380.2 L323.3 381.2 L322.1 382.2 L320.9 383.2 L319.7 384.2 L318.5 385.2 L317.3 386.2 L316.0 387.2 L314.8 388.2 L313.5 389.2 L312.2 390.2 L311.0 391.2 L309.7 392.2 L308.4 393.2 L307.1 394.2 L305.8 395.2 L304.5 396.2 L303.2 397.2 L301.8 398.2 L300.5 399.2 L299.2 400.2 L297.9 401.2 L296.6 402.2 L295.3 403.2 L294.0 404.2 L292.7 405.2 L291.4 406.2 L290.1 407.2 L288.8 408.2 L287.6 409.2 L286.3 410.2 L285.1 411.2 L283.9 412.2 L282.7 413.2 L281.5 414.2 L280.4 415.2 L279.2 416.2 L278.1 417.2 L277.0 418.2 L276.0 419.2 L275.0 420.2 L274.0 421.2 L273.0 422.2 L272.1 423.2 L271.2 424.2 L270.4 425.2 L269.6 426.2 L268.8 427.2 L268.1 428.2 L267.4 429.2 L266.8 430.2 L266.2 431.2 L265.6 432.2 L265.1 433.2 L264.7 434.2 L264.3 435.2 L264.0 436.2 L263.7 437.2 L263.5 438.2 L263.3 439.2 L263.2 440.2 L263.2 441.2 L263.2 442.2 L263.3 443.2 L263.4 444.2 L263.6 445.2 L263.9 446.2 L264.2 447.2 L264.6 448.2 L265.1 449.2 L265.5 450.2 L266.1 451.2 L266.7 452.2 L267.3 453.2 L268.0 454.2 L268.7 455.2 L269.5 456.2 L270.3 457.2 L271.2 458.2 L272.1 459.2 L273.0 460.2 L274.0 461.2 L275.0 462.2 L276.0 463.2 L277.0 464.2 L278.1 465.2 L279.2 466.2 L280.3 467.2 L281.4 468.2 L282.6 469.2 L283.7 470.2 L284.9 471.2 L286.0 472.2 L287.2 473.2 L288.4 474.2 L289.5 475.2 L290.7 476.2 L291.8 477.2 L293.0 478.2 L294.1 479.2 L295.3 480.2 L296.4 481.2 L297.5 482.2 L298.7 483.2 L299.8 484.2 L300.9 485.2 L302.0 486.2 L303.0 487.2 L304.1 488.2 L305.1 489.2 L306.2 490.2 L307.2 491.2 L308.2 492.2 L309.2 493.2 L310.2 494.2 L311.1 495.2 L312.0 496.2 L312.9 497.2 L313.8 498.2 L314.7 499.2 L315.5 500.2 L316.3 501.2 L317.1 502.2 L317.9 503.2 L318.6 504.2 L319.3 505.2 L320.0 506.2 L320.7 507.2 L321.3 508.2 L322.0 509.2 L322.6 510.2 L323.2 511.2 L323.8 512.2 L324.4 513.2 L324.9 514.2 L325.5 515.2 L326.0 516.2 L326.5 517.2 L327.1 518.2 L327.6 519.2 L328.1 520.2 L328.5 521.2 L329.0 522.2 L329.5 523.2 L330.0 524.2 L330.5 525.2 L330.9 526.2 L331.4 527.2 L331.9 528.2 L332.3 529.2 L332.8 530.2 L333.2 531.2 L333.7 532.2 L334.2 533.2 L334.7 534.2 L335.1 535.2 L335.6 536.2 L336.1 537.2 L336.6 538.2 L337.1 539.2 L337.6 540.2 L338.2 541.2 L338.7 542.2 L339.2 543.2 L339.7 544.2 L340.2 545.2 L340.8 546.2 L341.3 547.2 L341.8 548.2 L342.4 549.2 L342.9 550.2 L343.4 551.2 L343.9 552.2 L344.4 553.2 L344.9 554.2 L345.4 555.2 L345.9 556.2 L346.4 557.2 L346.9 558.2 L347.3 559.2 L347.8 560.2 L348.2 561.2 L348.6 562.2 L349.0 563.2 L349.4 564.2 L349.8 565.2 L350.2 566.2 L350.6 567.2 L350.9 568.2 L351.2 569.2 L351.5 570.2 L351.8 571.2 L352.0 572.2 L352.3 573.2 L352.5 574.2 L352.7 575.2 L352.9 576.2 L353.0 577.2 L353.2 578.2 L353.3 579.2 L353.4 580.2 L353.5 581.2 L353.5 582.2 L353.6 583.2 L353.6 584.2 L353.6 585.2 L353.6 586.2 L353.5 587.2 L353.5 588.2 L353.4 589.2 L353.3 590.2 L353.1 591.2 L353.0 592.2 L352.8 593.2 L352.6 594.2 L352.4 595.2 L352.2 596.2 L351.9 597.2 L351.6 598.2 L351.3 599.2 L351.0 600.2 L350.7 601.2 L350.3 602.2 L349.9 603.2 L349.5 604.2 L349.0 605.2 L348.6 606.2 L348.1 607.2 L347.6 608.2 L347.1 609.2 L346.5 610.2 L345.9 611.2 L345.3 612.2 L344.7 613.2 L344.1 614.2 L343.4 615.2 L342.7 616.2 L342.0 617.2 L341.2 618.2 L340.5 619.2 L339.7 620.2 L338.9 621.2 L338.0 622.2 L337.1 623.2 L336.3 624.2 L335.3 625.2 L334.4 626.2 L333.4 627.2 L332.4 628.2 L331.4 629.2 L330.4 630.2 L329.3 631.2 L328.2 632.2 L327.1 633.2 L326.0 634.2 L324.9 635.2 L323.7 636.2 L322.5 637.2 L321.3 638.2 L320.1 639.2 L318.9 640.2 L317.7 641.2 L316.4 642.2 L315.2 643.2 L313.9 644.2 L312.6 645.2 L311.3 646.2 L310.1 647.2 L308.8 648.2 L307.5 649.2 L306.2 650.2 L304.9 651.2 L303.6 652.2 L302.3 653.2 L301.1 654.2 L299.8 655.2 L298.5 656.2 L297.3 657.2 L296.0 658.2 L294.8 659.2 L293.5 660.2 L292.3 661.2 L291.1 662.2 L289.9 663.2 L288.7 664.2 L287.5 665.2 L286.4 666.2 L285.3 667.2 L284.2 668.2 L283.1 669.2 L282.0 670.2 L281.0 671.2 L280.0 672.2 L279.0 673.2 L278.0 674.2 L277.1 675.2 L276.2 676.2 L275.3 677.2 L274.4 678.2 L273.6 679.2 L272.9 680.2 L272.5 680.7" stroke="#f5e80a"/></g>
<rect x="108.5" y="239.7" width="772.5" height="438.5" fill="none" stroke="#3c3c3c" stroke-width="2"/>
<path d="M280.2 678.2v-8.5M280.2 239.7v8.5M451.8 678.2v-8.5M451.8 239.7v8.5M623.5 678.2v-8.5M623.5 239.7v8.5M795.2 678.2v-8.5M795.2 239.7v8.5M108.5 568.6h8.5M881 568.6h-8.5M108.5 459.0h8.5M881 459.0h-8.5M108.5 349.3h8.5M881 349.3h-8.5" stroke="#3c3c3c" stroke-width="2"/>
<g><circle cx="297.3" cy="448.0" r="6.6" fill="#e2141c"/>
<circle cx="297.3" cy="597.1" r="6.6" fill="#e2141c"/>
<circle cx="391.8" cy="448.0" r="6.6" fill="#e2141c"/>
<circle cx="391.8" cy="597.1" r="6.6" fill="#e2141c"/>
<circle cx="486.2" cy="448.0" r="6.6" fill="#e2141c"/>
<circle cx="486.2" cy="597.1" r="6.6" fill="#e2141c"/>
<circle cx="580.6" cy="448.0" r="6.6" fill="#e2141c"/>
<circle cx="580.6" cy="597.1" r="6.6" fill="#e2141c"/>
<circle cx="675.0" cy="448.0" r="6.6" fill="#e2141c"/>
<circle cx="675.0" cy="597.1" r="6.6" fill="#e2141c"/></g>
<g fill="none" stroke="#d0d0d0" stroke-opacity="0.85" stroke-width="4" stroke-dasharray="16 8"><path d="M119.8 194.0 L297.3 448.0" />
<path d="M120.5 787.4 L297.3 597.1" />
<path d="M298.9 194.0 L391.8 448.0" />
<path d="M299.6 787.4 L391.8 597.1" />
<path d="M478.0 194.0 L486.2 448.0" />
<path d="M478.7 787.4 L486.2 597.1" />
<path d="M657.0 194.0 L580.6 448.0" />
<path d="M658.7 787.4 L580.6 597.1" />
<path d="M836.6 194.0 L675.0 448.0" />
<path d="M838.0 787.4 L675.0 597.1" /></g>
<g><text x="0" y="0" transform="translate(679.2 295.3) rotate(36.8)" text-anchor="middle" dy="10">1</text>
<text x="0" y="0" transform="translate(517.8 291.0) rotate(48.2)" text-anchor="middle" dy="10">2</text>
<text x="0" y="0" transform="translate(453.4 289.0) rotate(53.3)" text-anchor="middle" dy="10">3</text>
<text x="0" y="0" transform="translate(375.5 285.8) rotate(59.1)" text-anchor="middle" dy="10">6</text>
<text x="0" y="0" transform="translate(632.9 508.8) rotate(59.9)" text-anchor="middle" dy="10">1</text>
<text x="0" y="0" transform="translate(503.1 525.2) rotate(52.3)" text-anchor="middle" dy="10">2</text>
<text x="0" y="0" transform="translate(445.1 532.1) rotate(53.8)" text-anchor="middle" dy="10">3</text>
<text x="0" y="0" transform="translate(374.4 539.0) rotate(59.5)" text-anchor="middle" dy="10">6</text>
<text x="0" y="0" transform="translate(343.2 287.9) rotate(62.2)" text-anchor="middle" dy="10">10</text>
<text x="0" y="0" transform="translate(283.0 463.6) rotate(43.6)" text-anchor="middle" dy="10">10</text></g>
<text x="118.8" y="25.9" text-anchor="middle"><tspan font-family="Liberation Serif">δω</tspan> = 2.2</text>
<text x="287.9" y="25.9" text-anchor="middle"><tspan font-family="Liberation Serif">δω</tspan> = 3.3</text>
<text x="468.0" y="25.9" text-anchor="middle"><tspan font-family="Liberation Serif">δω</tspan> = 4.4</text>
<text x="649.5" y="25.9" text-anchor="middle"><tspan font-family="Liberation Serif">δω</tspan> = 5.5</text>
<text x="829.1" y="25.9" text-anchor="middle"><tspan font-family="Liberation Serif">δω</tspan> = 6.6</text>
<text x="119.5" y="969.6" text-anchor="middle"><tspan font-family="Liberation Serif">δω</tspan> = 2.2</text>
<text x="288.6" y="969.6" text-anchor="middle"><tspan font-family="Liberation Serif">δω</tspan> = 3.3</text>
<text x="468.7" y="969.6" text-anchor="middle"><tspan font-family="Liberation Serif">δω</tspan> = 4.4</text>
<text x="647.7" y="969.6" text-anchor="middle"><tspan font-family="Liberation Serif">δω</tspan> = 5.5</text>
<text x="828.0" y="969.6" text-anchor="middle"><tspan font-family="Liberation Serif">δω</tspan> = 6.6</text>
<text transform="translate(25.3 132.5) rotate(-90)" text-anchor="middle">ΔL = 0.105</text>
<text transform="translate(27.8 862) rotate(-90)" text-anchor="middle">ΔL = 0.037</text>
<text x="108.5" y="713.6" text-anchor="middle">0</text>
<text x="280.2" y="713.6" text-anchor="middle">2</text>
<text x="451.8" y="713.6" text-anchor="middle">4</text>
<text x="623.5" y="713.6" text-anchor="middle">6</text>
<text x="795.2" y="713.6" text-anchor="middle">8</text>
<text x="100.3" y="687.8" text-anchor="end">0</text>
<text x="100.3" y="578.2" text-anchor="end">0.05</text>
<text x="98.3" y="468.6" text-anchor="end">0.1</text>
<text x="100.3" y="358.9" text-anchor="end">0.15</text>
<text x="100.3" y="249.3" text-anchor="end">0.2</text>
<text x="701" y="274.7" font-size="28">−</text><text x="720.5" y="274.7" font-size="28">10log(<tspan font-style="italic">W</tspan><tspan font-style="italic" font-size="19" dy="8">x</tspan><tspan dy="-8">)</tspan></text>
<text x="251" y="754.8"><tspan font-family="Liberation Serif" font-style="italic">δω</tspan> : Channel spacing (linewidth units)</text>
<text transform="translate(24.5 444.8) rotate(-90)" text-anchor="middle">ΔL : Rel. bus length (a.u.)</text>

</svg>
</body></html>
